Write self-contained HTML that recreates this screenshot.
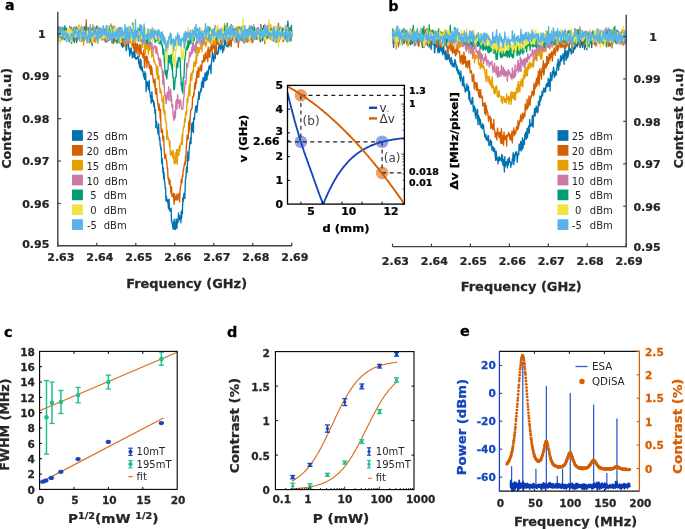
<!DOCTYPE html>
<html lang="en"><head><meta charset="utf-8"><title>Figure</title>
<style>
html,body{margin:0;padding:0;background:#fff;}
svg{display:block;font-family:'DejaVu Sans','Liberation Sans',sans-serif;}
</style></head>
<body>
<svg width="685" height="529" viewBox="0 0 685 529">
<rect width="685" height="529" fill="#fff"/>
<polyline points="57.8,27.0 58.2,32.2 58.6,33.5 59.0,41.0 59.4,34.9 59.8,35.2 60.1,34.2 60.5,36.2 60.9,34.0 61.3,35.7 61.7,38.9 62.1,30.5 62.5,30.5 62.9,27.3 63.3,33.7 63.7,35.4 64.1,35.9 64.4,39.8 64.8,30.1 65.2,38.1 65.6,38.4 66.0,34.7 66.4,28.2 66.8,33.0 67.2,37.8 67.6,36.6 68.0,31.5 68.3,34.5 68.7,36.8 69.1,34.8 69.5,31.0 69.9,26.4 70.3,38.7 70.7,36.3 71.1,37.0 71.5,43.1 71.9,37.4 72.3,37.8 72.6,29.6 73.0,34.4 73.4,40.1 73.8,31.5 74.2,35.3 74.6,40.6 75.0,36.2 75.4,36.2 75.8,37.3 76.2,33.8 76.6,42.5 76.9,35.0 77.3,30.1 77.7,30.7 78.1,29.7 78.5,29.7 78.9,28.3 79.3,38.3 79.7,30.8 80.1,41.1 80.5,36.3 80.8,41.3 81.2,30.0 81.6,28.9 82.0,34.8 82.4,27.3 82.8,36.6 83.2,33.5 83.6,33.5 84.0,38.1 84.4,32.4 84.8,26.7 85.1,38.0 85.5,30.7 85.9,34.7 86.3,27.4 86.7,32.3 87.1,31.5 87.5,31.7 87.9,33.2 88.3,39.5 88.7,28.8 89.1,39.4 89.4,33.3 89.8,31.9 90.2,37.4 90.6,33.7 91.0,29.8 91.4,34.3 91.8,37.7 92.2,45.4 92.6,38.0 93.0,36.6 93.3,36.3 93.7,38.0 94.1,32.9 94.5,36.6 94.9,34.8 95.3,31.8 95.7,37.7 96.1,35.6 96.5,26.2 96.9,31.2 97.3,39.5 97.6,34.8 98.0,32.4 98.4,29.9 98.8,34.0 99.2,36.7 99.6,37.5 100.0,32.2 100.4,33.5 100.8,36.7 101.2,35.5 101.6,36.4 101.9,32.1 102.3,37.6 102.7,33.1 103.1,31.7 103.5,33.2 103.9,38.3 104.3,30.0 104.7,37.8 105.1,33.6 105.5,38.2 105.9,42.0 106.2,34.5 106.6,34.4 107.0,35.8 107.4,34.5 107.8,38.1 108.2,38.6 108.6,36.5 109.0,28.6 109.4,32.9 109.8,38.0 110.1,34.0 110.5,38.1 110.9,38.1 111.3,33.2 111.7,38.5 112.1,43.0 112.5,40.2 112.9,36.5 113.3,36.5 113.7,32.4 114.1,40.0 114.4,34.6 114.8,35.9 115.2,38.2 115.6,34.6 116.0,36.1 116.4,41.4 116.8,34.2 117.2,43.1 117.6,38.4 118.0,38.8 118.4,37.4 118.7,42.0 119.1,39.5 119.5,40.2 119.9,36.0 120.3,43.1 120.7,40.0 121.1,41.5 121.5,45.7 121.9,30.8 122.3,41.6 122.6,47.3 123.0,36.5 123.4,46.3 123.8,41.1 124.2,39.5 124.6,45.6 125.0,45.1 125.4,45.8 125.8,44.6 126.2,50.7 126.6,49.6 126.9,45.8 127.3,41.7 127.7,43.6 128.1,39.9 128.5,44.3 128.9,49.3 129.3,48.3 129.7,56.0 130.1,52.4 130.5,53.1 130.9,48.7 131.2,47.8 131.6,52.9 132.0,53.6 132.4,57.8 132.8,53.0 133.2,52.1 133.6,52.0 134.0,57.3 134.4,47.3 134.8,51.0 135.1,56.6 135.5,58.9 135.9,58.8 136.3,57.7 136.7,59.1 137.1,57.9 137.5,57.6 137.9,56.0 138.3,57.7 138.7,63.3 139.1,62.2 139.4,66.0 139.8,67.6 140.2,58.9 140.6,68.8 141.0,60.4 141.4,70.2 141.8,68.9 142.2,66.6 142.6,71.7 143.0,71.2 143.4,74.7 143.7,76.6 144.1,76.4 144.5,79.3 144.9,71.7 145.3,79.7 145.7,73.6 146.1,91.5 146.5,82.4 146.9,81.5 147.3,85.9 147.6,81.9 148.0,84.8 148.4,89.6 148.8,88.2 149.2,80.4 149.6,91.5 150.0,92.7 150.4,96.9 150.8,96.1 151.2,103.0 151.6,100.3 151.9,91.7 152.3,98.5 152.7,101.8 153.1,101.6 153.5,100.3 153.9,106.9 154.3,103.0 154.7,108.6 155.1,113.9 155.5,109.9 155.9,127.4 156.2,122.6 156.6,121.5 157.0,128.2 157.4,127.5 157.8,131.7 158.2,134.2 158.6,123.8 159.0,134.4 159.4,139.7 159.8,137.3 160.2,146.1 160.5,144.8 160.9,150.0 161.3,148.4 161.7,163.3 162.1,158.4 162.5,164.3 162.9,172.7 163.3,167.7 163.7,178.7 164.1,172.6 164.4,180.2 164.8,182.7 165.2,188.1 165.6,187.8 166.0,201.1 166.4,196.1 166.8,200.9 167.2,199.4 167.6,202.4 168.0,201.5 168.4,208.5 168.7,199.7 169.1,199.2 169.5,210.3 169.9,210.9 170.3,211.2 170.7,209.0 171.1,208.1 171.5,221.5 171.9,220.8 172.3,224.0 172.7,225.7 173.0,228.9 173.4,222.4 173.8,229.0 174.2,219.4 174.6,222.0 175.0,229.5 175.4,229.3 175.8,227.2 176.2,218.9 176.6,226.7 176.9,228.3 177.3,221.9 177.7,219.4 178.1,222.5 178.5,212.9 178.9,217.4 179.3,215.8 179.7,220.0 180.1,216.1 180.5,215.7 180.9,222.8 181.2,211.8 181.6,218.4 182.0,210.0 182.4,213.5 182.8,197.9 183.2,201.7 183.6,196.7 184.0,193.3 184.4,198.4 184.8,198.5 185.2,187.2 185.5,178.7 185.9,177.9 186.3,171.4 186.7,166.9 187.1,172.4 187.5,162.0 187.9,152.0 188.3,158.2 188.7,160.4 189.1,150.3 189.4,148.1 189.8,141.8 190.2,143.9 190.6,137.5 191.0,143.6 191.4,129.4 191.8,124.2 192.2,122.9 192.6,131.4 193.0,122.2 193.4,132.7 193.7,118.2 194.1,117.6 194.5,119.2 194.9,112.3 195.3,111.2 195.7,106.4 196.1,107.8 196.5,105.7 196.9,112.4 197.3,107.9 197.7,103.7 198.0,99.2 198.4,98.9 198.8,91.7 199.2,99.3 199.6,95.5 200.0,92.2 200.4,92.8 200.8,88.7 201.2,91.4 201.6,82.5 202.0,87.9 202.3,81.2 202.7,84.4 203.1,77.4 203.5,87.3 203.9,78.8 204.3,81.3 204.7,77.7 205.1,72.9 205.5,80.7 205.9,80.4 206.2,78.1 206.6,72.3 207.0,79.5 207.4,70.9 207.8,75.3 208.2,73.8 208.6,69.9 209.0,66.1 209.4,69.1 209.8,67.7 210.2,65.1 210.5,65.1 210.9,73.5 211.3,64.1 211.7,61.3 212.1,56.7 212.5,52.3 212.9,56.8 213.3,58.4 213.7,61.6 214.1,56.9 214.5,53.6 214.8,51.1 215.2,58.6 215.6,53.7 216.0,50.9 216.4,46.3 216.8,51.8 217.2,54.3 217.6,54.3 218.0,52.4 218.4,53.0 218.7,46.8 219.1,45.4 219.5,46.2 219.9,43.9 220.3,49.8 220.7,46.1 221.1,48.6 221.5,46.5 221.9,41.6 222.3,46.0 222.7,52.6 223.0,46.0 223.4,47.4 223.8,50.1 224.2,47.0 224.6,39.9 225.0,36.8 225.4,44.8 225.8,38.8 226.2,37.8 226.6,46.4 227.0,41.9 227.3,41.6 227.7,40.5 228.1,47.0 228.5,42.0 228.9,36.4 229.3,35.3 229.7,32.9 230.1,41.0 230.5,32.3 230.9,36.7 231.2,44.3 231.6,36.0 232.0,40.0 232.4,36.5 232.8,38.7 233.2,33.6 233.6,37.0 234.0,38.9 234.4,34.0 234.8,36.6 235.2,39.0 235.5,32.4 235.9,38.7 236.3,39.5 236.7,39.0 237.1,42.4 237.5,38.8 237.9,29.5 238.3,39.9 238.7,36.3 239.1,40.5 239.5,38.5 239.8,30.3 240.2,32.6 240.6,38.2 241.0,35.8 241.4,38.9 241.8,38.7 242.2,39.1 242.6,39.0 243.0,34.2 243.4,33.1 243.7,33.5 244.1,36.0 244.5,40.4 244.9,35.5 245.3,38.7 245.7,31.7 246.1,32.9 246.5,32.2 246.9,36.3 247.3,41.8 247.7,31.2 248.0,30.2 248.4,40.5 248.8,34.2 249.2,30.2 249.6,38.8 250.0,27.9 250.4,36.0 250.8,38.7 251.2,29.4 251.6,33.4 252.0,37.0 252.3,31.2 252.7,42.0 253.1,27.5 253.5,37.6 253.9,33.3 254.3,35.9 254.7,32.7 255.1,31.0 255.5,37.5 255.9,31.3 256.3,35.4 256.6,36.9 257.0,35.1 257.4,38.1 257.8,37.3 258.2,30.6 258.6,34.8 259.0,29.9 259.4,32.6 259.8,38.1 260.2,41.4 260.5,36.8 260.9,33.2 261.3,34.1 261.7,37.3 262.1,30.3 262.5,40.8 262.9,38.9 263.3,33.6 263.7,25.7 264.1,32.5 264.5,37.9 264.8,31.8 265.2,31.5 265.6,30.5 266.0,35.6 266.4,37.1 266.8,33.6 267.2,32.4 267.6,27.9 268.0,26.0 268.4,36.8 268.8,36.0 269.1,34.2 269.5,35.0 269.9,32.1 270.3,32.1 270.7,33.0 271.1,28.8 271.5,34.6 271.9,38.0 272.3,39.9 272.7,37.9 273.0,37.9 273.4,41.1 273.8,31.4 274.2,33.2 274.6,35.6 275.0,37.3 275.4,40.0 275.8,37.4 276.2,26.9 276.6,42.4 277.0,33.4 277.3,31.1 277.7,33.4 278.1,35.1 278.5,31.0 278.9,38.1 279.3,31.8 279.7,28.4 280.1,37.9 280.5,37.0 280.9,33.4 281.3,30.1 281.6,28.8 282.0,31.3 282.4,36.4 282.8,38.1 283.2,32.9 283.6,32.3 284.0,38.1 284.4,33.6 284.8,32.6 285.2,29.9 285.5,37.6 285.9,31.7 286.3,38.3 286.7,35.5 287.1,34.1 287.5,28.1 287.9,21.2 288.3,32.9 288.7,32.0 289.1,30.0 289.5,39.0 289.8,30.9 290.2,38.6 290.6,27.6 291.0,28.3 291.4,31.9 291.8,36.9" fill="none" stroke="#0072B2" stroke-width="1.35" stroke-linejoin="round" />
<polyline points="57.8,27.4 58.2,32.8 58.6,33.3 59.0,31.6 59.4,40.3 59.8,32.1 60.1,30.0 60.5,32.5 60.9,33.2 61.3,37.4 61.7,31.3 62.1,33.0 62.5,33.7 62.9,35.9 63.3,30.5 63.7,29.0 64.1,32.3 64.4,30.4 64.8,28.7 65.2,27.7 65.6,32.9 66.0,34.6 66.4,35.4 66.8,33.7 67.2,31.7 67.6,30.2 68.0,35.4 68.3,33.2 68.7,37.6 69.1,29.0 69.5,35.3 69.9,32.4 70.3,36.6 70.7,34.9 71.1,36.4 71.5,27.3 71.9,32.4 72.3,34.5 72.6,37.4 73.0,36.2 73.4,31.7 73.8,27.5 74.2,39.3 74.6,37.3 75.0,34.5 75.4,36.2 75.8,40.2 76.2,33.8 76.6,31.0 76.9,39.9 77.3,33.1 77.7,30.2 78.1,30.1 78.5,35.5 78.9,25.1 79.3,31.8 79.7,37.0 80.1,30.1 80.5,38.2 80.8,30.5 81.2,38.7 81.6,30.9 82.0,36.1 82.4,29.6 82.8,31.1 83.2,32.2 83.6,33.7 84.0,29.8 84.4,40.8 84.8,32.3 85.1,32.4 85.5,31.8 85.9,30.8 86.3,19.9 86.7,33.6 87.1,30.9 87.5,33.4 87.9,28.0 88.3,41.8 88.7,27.6 89.1,36.7 89.4,42.7 89.8,38.2 90.2,34.8 90.6,33.4 91.0,34.3 91.4,31.0 91.8,34.3 92.2,34.4 92.6,42.4 93.0,32.3 93.3,30.3 93.7,35.8 94.1,41.4 94.5,39.4 94.9,27.9 95.3,36.6 95.7,36.8 96.1,37.5 96.5,31.7 96.9,36.6 97.3,37.7 97.6,40.2 98.0,34.8 98.4,30.6 98.8,35.0 99.2,31.1 99.6,33.8 100.0,34.0 100.4,33.9 100.8,34.5 101.2,30.7 101.6,32.8 101.9,36.9 102.3,34.2 102.7,35.0 103.1,32.9 103.5,34.1 103.9,33.3 104.3,40.5 104.7,33.5 105.1,29.9 105.5,40.1 105.9,28.9 106.2,33.9 106.6,35.9 107.0,42.0 107.4,31.0 107.8,38.9 108.2,37.2 108.6,33.2 109.0,39.3 109.4,39.2 109.8,39.9 110.1,36.0 110.5,33.3 110.9,34.1 111.3,34.1 111.7,37.1 112.1,35.3 112.5,38.5 112.9,28.3 113.3,35.3 113.7,43.5 114.1,40.2 114.4,30.1 114.8,41.5 115.2,38.0 115.6,34.9 116.0,40.7 116.4,32.5 116.8,30.3 117.2,39.9 117.6,32.6 118.0,40.4 118.4,40.9 118.7,36.2 119.1,36.4 119.5,39.7 119.9,34.3 120.3,43.2 120.7,41.0 121.1,41.9 121.5,35.1 121.9,35.0 122.3,35.7 122.6,43.3 123.0,38.0 123.4,36.9 123.8,44.9 124.2,42.0 124.6,36.6 125.0,36.5 125.4,38.4 125.8,37.5 126.2,38.5 126.6,39.3 126.9,40.5 127.3,43.6 127.7,41.4 128.1,42.2 128.5,32.0 128.9,40.0 129.3,41.3 129.7,42.3 130.1,42.1 130.5,42.9 130.9,40.1 131.2,42.5 131.6,39.5 132.0,45.5 132.4,41.8 132.8,40.1 133.2,48.1 133.6,43.3 134.0,43.3 134.4,45.9 134.8,46.8 135.1,52.3 135.5,41.2 135.9,49.4 136.3,51.0 136.7,44.1 137.1,54.0 137.5,43.7 137.9,46.1 138.3,45.9 138.7,49.2 139.1,53.6 139.4,56.6 139.8,44.3 140.2,52.1 140.6,52.8 141.0,45.3 141.4,54.2 141.8,53.2 142.2,53.8 142.6,53.9 143.0,57.9 143.4,56.7 143.7,50.2 144.1,52.9 144.5,67.8 144.9,64.5 145.3,56.5 145.7,58.9 146.1,60.6 146.5,55.9 146.9,67.5 147.3,56.9 147.6,61.8 148.0,61.0 148.4,63.0 148.8,61.7 149.2,66.8 149.6,68.9 150.0,64.9 150.4,68.2 150.8,74.8 151.2,66.0 151.6,67.7 151.9,68.0 152.3,74.5 152.7,74.9 153.1,79.1 153.5,82.8 153.9,80.4 154.3,81.5 154.7,86.4 155.1,78.7 155.5,93.7 155.9,92.5 156.2,94.0 156.6,88.5 157.0,96.6 157.4,99.1 157.8,103.6 158.2,105.5 158.6,110.1 159.0,103.8 159.4,108.0 159.8,109.3 160.2,118.4 160.5,109.1 160.9,125.4 161.3,132.4 161.7,128.7 162.1,130.1 162.5,130.8 162.9,140.6 163.3,137.5 163.7,136.4 164.1,149.2 164.4,151.8 164.8,158.5 165.2,154.1 165.6,154.6 166.0,157.8 166.4,160.4 166.8,160.9 167.2,168.5 167.6,167.9 168.0,177.7 168.4,179.5 168.7,177.8 169.1,184.1 169.5,180.9 169.9,179.8 170.3,185.4 170.7,191.5 171.1,193.1 171.5,186.6 171.9,196.3 172.3,194.1 172.7,196.6 173.0,196.4 173.4,193.3 173.8,200.4 174.2,204.3 174.6,193.9 175.0,198.9 175.4,197.2 175.8,200.1 176.2,197.0 176.6,195.0 176.9,194.2 177.3,200.0 177.7,199.7 178.1,196.0 178.5,195.8 178.9,193.4 179.3,197.0 179.7,201.8 180.1,189.6 180.5,186.7 180.9,185.4 181.2,179.5 181.6,180.5 182.0,182.9 182.4,175.3 182.8,176.9 183.2,169.1 183.6,170.2 184.0,166.6 184.4,164.5 184.8,162.1 185.2,164.9 185.5,155.8 185.9,161.4 186.3,147.6 186.7,142.4 187.1,135.1 187.5,138.1 187.9,139.0 188.3,139.1 188.7,122.3 189.1,132.0 189.4,119.9 189.8,129.1 190.2,117.4 190.6,111.7 191.0,110.1 191.4,108.8 191.8,109.1 192.2,106.8 192.6,96.9 193.0,96.7 193.4,96.7 193.7,93.0 194.1,95.2 194.5,85.7 194.9,82.9 195.3,88.8 195.7,83.6 196.1,78.3 196.5,83.2 196.9,71.4 197.3,71.9 197.7,77.3 198.0,71.2 198.4,67.3 198.8,77.1 199.2,68.8 199.6,70.6 200.0,69.7 200.4,65.2 200.8,68.7 201.2,71.2 201.6,70.4 202.0,64.1 202.3,60.7 202.7,62.4 203.1,62.0 203.5,60.8 203.9,55.0 204.3,57.1 204.7,61.3 205.1,58.8 205.5,52.4 205.9,58.6 206.2,57.2 206.6,55.2 207.0,58.6 207.4,50.5 207.8,61.7 208.2,47.2 208.6,53.9 209.0,56.5 209.4,50.1 209.8,57.3 210.2,48.2 210.5,46.8 210.9,51.5 211.3,50.4 211.7,44.8 212.1,50.6 212.5,47.5 212.9,45.9 213.3,40.9 213.7,48.4 214.1,46.0 214.5,41.5 214.8,55.2 215.2,46.1 215.6,52.1 216.0,51.5 216.4,36.7 216.8,43.1 217.2,37.9 217.6,44.2 218.0,41.0 218.4,44.4 218.7,44.6 219.1,42.6 219.5,41.5 219.9,35.9 220.3,42.3 220.7,39.9 221.1,42.1 221.5,40.4 221.9,45.7 222.3,36.3 222.7,42.3 223.0,40.0 223.4,40.8 223.8,36.0 224.2,37.6 224.6,39.4 225.0,38.6 225.4,37.8 225.8,36.1 226.2,36.9 226.6,33.8 227.0,32.3 227.3,36.0 227.7,43.3 228.1,31.4 228.5,29.8 228.9,39.3 229.3,39.3 229.7,45.5 230.1,34.5 230.5,41.3 230.9,30.3 231.2,46.7 231.6,36.8 232.0,34.4 232.4,38.4 232.8,39.9 233.2,35.8 233.6,38.7 234.0,37.9 234.4,36.6 234.8,38.5 235.2,37.2 235.5,33.2 235.9,37.7 236.3,35.5 236.7,38.9 237.1,32.5 237.5,40.8 237.9,32.2 238.3,47.3 238.7,39.2 239.1,41.7 239.5,31.7 239.8,34.5 240.2,40.5 240.6,37.6 241.0,30.3 241.4,35.6 241.8,33.2 242.2,41.0 242.6,41.0 243.0,33.0 243.4,26.4 243.7,37.2 244.1,32.8 244.5,38.7 244.9,30.3 245.3,36.7 245.7,36.6 246.1,42.2 246.5,36.5 246.9,34.2 247.3,29.6 247.7,39.3 248.0,31.0 248.4,36.1 248.8,35.8 249.2,38.3 249.6,41.2 250.0,39.3 250.4,28.5 250.8,39.2 251.2,36.3 251.6,30.4 252.0,42.7 252.3,32.9 252.7,36.5 253.1,33.8 253.5,31.2 253.9,35.1 254.3,35.3 254.7,31.7 255.1,32.0 255.5,37.2 255.9,35.2 256.3,39.6 256.6,29.5 257.0,39.0 257.4,33.7 257.8,27.7 258.2,31.3 258.6,35.4 259.0,37.1 259.4,36.7 259.8,30.8 260.2,33.0 260.5,34.2 260.9,24.3 261.3,37.4 261.7,36.0 262.1,35.6 262.5,33.3 262.9,33.0 263.3,35.2 263.7,31.3 264.1,32.0 264.5,35.3 264.8,43.5 265.2,31.1 265.6,37.7 266.0,36.6 266.4,34.7 266.8,38.9 267.2,37.2 267.6,33.9 268.0,35.5 268.4,33.0 268.8,37.5 269.1,35.1 269.5,38.3 269.9,35.3 270.3,33.1 270.7,35.2 271.1,39.7 271.5,34.9 271.9,33.6 272.3,29.9 272.7,34.4 273.0,35.8 273.4,38.7 273.8,26.6 274.2,37.8 274.6,38.5 275.0,34.7 275.4,41.1 275.8,30.0 276.2,33.4 276.6,32.3 277.0,37.9 277.3,36.1 277.7,30.8 278.1,30.7 278.5,23.3 278.9,29.9 279.3,41.3 279.7,33.7 280.1,35.4 280.5,29.9 280.9,34.4 281.3,32.2 281.6,35.3 282.0,31.7 282.4,28.4 282.8,36.4 283.2,41.8 283.6,38.0 284.0,28.0 284.4,33.2 284.8,35.1 285.2,37.7 285.5,30.0 285.9,32.9 286.3,34.4 286.7,36.0 287.1,34.6 287.5,35.2 287.9,31.8 288.3,29.1 288.7,41.5 289.1,39.5 289.5,34.3 289.8,33.7 290.2,39.9 290.6,36.3 291.0,35.5 291.4,35.7 291.8,35.7" fill="none" stroke="#D55E00" stroke-width="1.35" stroke-linejoin="round" />
<polyline points="57.8,34.3 58.2,30.6 58.6,31.1 59.0,31.7 59.4,32.9 59.8,36.7 60.1,35.8 60.5,31.3 60.9,33.5 61.3,30.9 61.7,32.9 62.1,33.7 62.5,32.3 62.9,39.8 63.3,34.6 63.7,36.2 64.1,30.7 64.4,36.5 64.8,33.1 65.2,35.6 65.6,32.2 66.0,31.2 66.4,34.8 66.8,33.6 67.2,33.3 67.6,31.0 68.0,35.2 68.3,33.8 68.7,35.6 69.1,37.7 69.5,33.3 69.9,32.4 70.3,37.1 70.7,28.0 71.1,36.9 71.5,31.2 71.9,32.6 72.3,40.6 72.6,34.1 73.0,40.1 73.4,34.5 73.8,31.5 74.2,27.0 74.6,31.1 75.0,39.9 75.4,35.4 75.8,28.3 76.2,33.4 76.6,27.3 76.9,36.8 77.3,36.2 77.7,39.2 78.1,35.5 78.5,29.3 78.9,37.6 79.3,30.9 79.7,32.3 80.1,31.1 80.5,35.1 80.8,34.0 81.2,25.9 81.6,38.8 82.0,31.2 82.4,28.3 82.8,32.3 83.2,27.7 83.6,45.4 84.0,35.3 84.4,38.6 84.8,35.7 85.1,34.5 85.5,32.3 85.9,37.4 86.3,30.8 86.7,40.1 87.1,30.5 87.5,35.1 87.9,40.9 88.3,41.0 88.7,41.0 89.1,38.0 89.4,33.7 89.8,29.2 90.2,31.2 90.6,39.3 91.0,43.0 91.4,35.4 91.8,39.7 92.2,34.9 92.6,36.9 93.0,24.5 93.3,40.9 93.7,33.1 94.1,27.2 94.5,35.9 94.9,37.3 95.3,27.9 95.7,42.4 96.1,40.9 96.5,39.1 96.9,32.8 97.3,31.4 97.6,34.9 98.0,26.0 98.4,35.2 98.8,34.4 99.2,35.5 99.6,29.6 100.0,34.3 100.4,35.8 100.8,27.9 101.2,29.4 101.6,30.4 101.9,39.2 102.3,38.4 102.7,35.2 103.1,35.3 103.5,35.9 103.9,35.1 104.3,31.8 104.7,38.2 105.1,33.3 105.5,35.8 105.9,36.1 106.2,35.4 106.6,31.4 107.0,33.2 107.4,37.3 107.8,33.0 108.2,33.7 108.6,32.7 109.0,35.3 109.4,30.4 109.8,32.8 110.1,38.6 110.5,39.2 110.9,39.6 111.3,32.7 111.7,36.9 112.1,35.6 112.5,34.5 112.9,29.6 113.3,25.9 113.7,34.7 114.1,26.6 114.4,32.2 114.8,29.7 115.2,35.4 115.6,39.1 116.0,32.5 116.4,29.4 116.8,40.4 117.2,34.7 117.6,33.6 118.0,32.2 118.4,38.7 118.7,36.7 119.1,31.0 119.5,27.7 119.9,34.2 120.3,30.9 120.7,34.1 121.1,33.1 121.5,36.3 121.9,35.7 122.3,37.1 122.6,34.5 123.0,30.7 123.4,34.3 123.8,32.5 124.2,37.5 124.6,32.4 125.0,47.3 125.4,40.7 125.8,36.6 126.2,42.3 126.6,33.2 126.9,34.7 127.3,39.1 127.7,35.3 128.1,41.5 128.5,39.2 128.9,37.3 129.3,42.1 129.7,32.0 130.1,38.6 130.5,32.2 130.9,36.8 131.2,35.1 131.6,39.9 132.0,37.7 132.4,38.2 132.8,35.8 133.2,31.5 133.6,39.1 134.0,37.7 134.4,35.8 134.8,34.0 135.1,37.8 135.5,39.0 135.9,39.9 136.3,37.8 136.7,37.0 137.1,40.7 137.5,39.4 137.9,35.5 138.3,38.7 138.7,41.0 139.1,36.2 139.4,36.4 139.8,37.0 140.2,37.0 140.6,41.3 141.0,39.2 141.4,39.0 141.8,40.0 142.2,47.4 142.6,41.0 143.0,39.9 143.4,39.6 143.7,43.0 144.1,42.0 144.5,49.4 144.9,48.5 145.3,54.5 145.7,44.4 146.1,37.7 146.5,37.7 146.9,49.1 147.3,42.8 147.6,40.9 148.0,47.4 148.4,54.3 148.8,42.0 149.2,49.4 149.6,50.2 150.0,42.8 150.4,48.3 150.8,47.6 151.2,45.5 151.6,53.1 151.9,57.2 152.3,51.4 152.7,55.4 153.1,53.6 153.5,56.1 153.9,61.7 154.3,60.0 154.7,62.7 155.1,63.7 155.5,64.4 155.9,64.5 156.2,66.7 156.6,74.0 157.0,68.5 157.4,78.3 157.8,66.2 158.2,79.6 158.6,79.0 159.0,75.7 159.4,83.8 159.8,90.1 160.2,93.1 160.5,88.9 160.9,90.8 161.3,91.6 161.7,96.2 162.1,101.6 162.5,100.5 162.9,99.3 163.3,110.5 163.7,96.3 164.1,114.1 164.4,110.3 164.8,110.4 165.2,116.6 165.6,121.4 166.0,122.2 166.4,122.2 166.8,139.8 167.2,130.2 167.6,135.7 168.0,138.9 168.4,137.9 168.7,139.6 169.1,140.3 169.5,146.2 169.9,141.3 170.3,155.3 170.7,152.5 171.1,154.8 171.5,151.1 171.9,154.6 172.3,151.7 172.7,157.6 173.0,150.5 173.4,153.3 173.8,158.7 174.2,163.6 174.6,162.0 175.0,163.5 175.4,152.9 175.8,154.7 176.2,162.2 176.6,149.7 176.9,157.6 177.3,164.4 177.7,150.8 178.1,149.1 178.5,153.0 178.9,155.3 179.3,145.9 179.7,151.1 180.1,147.7 180.5,144.1 180.9,143.0 181.2,144.0 181.6,144.2 182.0,135.3 182.4,144.4 182.8,132.4 183.2,130.2 183.6,126.8 184.0,127.7 184.4,122.9 184.8,118.1 185.2,122.4 185.5,115.6 185.9,111.6 186.3,115.1 186.7,111.2 187.1,98.8 187.5,98.2 187.9,102.3 188.3,94.1 188.7,92.7 189.1,86.3 189.4,84.8 189.8,96.0 190.2,85.5 190.6,76.7 191.0,73.5 191.4,79.9 191.8,80.2 192.2,72.5 192.6,74.0 193.0,69.7 193.4,72.3 193.7,63.3 194.1,62.4 194.5,61.3 194.9,65.8 195.3,66.6 195.7,63.8 196.1,55.7 196.5,63.4 196.9,52.9 197.3,47.5 197.7,55.7 198.0,53.1 198.4,47.8 198.8,47.2 199.2,52.3 199.6,49.9 200.0,48.0 200.4,48.9 200.8,45.0 201.2,45.4 201.6,41.1 202.0,52.1 202.3,40.6 202.7,41.5 203.1,44.7 203.5,42.2 203.9,39.7 204.3,41.9 204.7,43.6 205.1,41.2 205.5,44.7 205.9,46.7 206.2,44.7 206.6,44.0 207.0,40.1 207.4,37.5 207.8,39.4 208.2,34.5 208.6,40.2 209.0,42.1 209.4,42.2 209.8,42.6 210.2,40.2 210.5,33.6 210.9,44.2 211.3,36.3 211.7,38.3 212.1,34.9 212.5,39.7 212.9,35.0 213.3,39.5 213.7,35.0 214.1,44.8 214.5,35.3 214.8,34.2 215.2,43.0 215.6,33.5 216.0,41.0 216.4,32.8 216.8,36.4 217.2,33.7 217.6,34.8 218.0,40.7 218.4,30.1 218.7,31.3 219.1,39.7 219.5,33.6 219.9,33.9 220.3,38.2 220.7,39.5 221.1,30.5 221.5,36.9 221.9,31.8 222.3,27.9 222.7,33.3 223.0,38.4 223.4,31.2 223.8,40.2 224.2,38.4 224.6,23.6 225.0,37.8 225.4,33.4 225.8,38.7 226.2,35.1 226.6,33.8 227.0,44.7 227.3,37.0 227.7,31.9 228.1,31.1 228.5,33.1 228.9,38.0 229.3,32.8 229.7,36.2 230.1,37.2 230.5,34.3 230.9,25.5 231.2,37.7 231.6,30.2 232.0,33.2 232.4,39.8 232.8,37.6 233.2,34.7 233.6,35.9 234.0,33.1 234.4,37.8 234.8,37.9 235.2,30.2 235.5,34.1 235.9,37.2 236.3,33.9 236.7,26.9 237.1,36.1 237.5,39.6 237.9,30.3 238.3,26.4 238.7,29.1 239.1,38.9 239.5,41.7 239.8,29.0 240.2,34.5 240.6,31.9 241.0,34.6 241.4,27.4 241.8,33.6 242.2,35.0 242.6,33.3 243.0,38.4 243.4,33.2 243.7,34.2 244.1,41.9 244.5,38.2 244.9,38.6 245.3,39.8 245.7,32.5 246.1,29.5 246.5,32.6 246.9,39.5 247.3,40.6 247.7,30.9 248.0,35.0 248.4,34.2 248.8,38.8 249.2,41.6 249.6,25.4 250.0,36.2 250.4,34.6 250.8,38.2 251.2,28.0 251.6,35.2 252.0,34.5 252.3,33.7 252.7,33.9 253.1,28.5 253.5,40.8 253.9,31.5 254.3,36.3 254.7,35.5 255.1,36.3 255.5,32.3 255.9,38.8 256.3,36.0 256.6,31.8 257.0,36.1 257.4,35.7 257.8,32.5 258.2,33.6 258.6,35.2 259.0,33.7 259.4,37.3 259.8,30.7 260.2,38.1 260.5,40.1 260.9,32.3 261.3,39.0 261.7,37.6 262.1,34.8 262.5,31.2 262.9,35.8 263.3,35.7 263.7,35.6 264.1,32.5 264.5,35.9 264.8,33.1 265.2,28.8 265.6,34.9 266.0,35.4 266.4,37.6 266.8,36.9 267.2,38.7 267.6,38.2 268.0,36.2 268.4,32.7 268.8,32.2 269.1,35.7 269.5,32.8 269.9,39.0 270.3,26.1 270.7,24.6 271.1,34.5 271.5,32.1 271.9,33.7 272.3,31.1 272.7,36.4 273.0,39.8 273.4,30.9 273.8,38.2 274.2,32.7 274.6,37.5 275.0,37.0 275.4,30.3 275.8,27.9 276.2,34.6 276.6,35.6 277.0,32.9 277.3,36.1 277.7,40.6 278.1,34.1 278.5,42.6 278.9,32.4 279.3,35.9 279.7,33.3 280.1,39.6 280.5,36.9 280.9,31.9 281.3,28.8 281.6,30.8 282.0,32.6 282.4,38.3 282.8,31.8 283.2,33.5 283.6,35.2 284.0,29.1 284.4,37.0 284.8,27.3 285.2,36.5 285.5,36.6 285.9,34.4 286.3,39.1 286.7,35.8 287.1,33.7 287.5,40.5 287.9,37.2 288.3,39.3 288.7,35.7 289.1,29.7 289.5,35.7 289.8,34.8 290.2,33.2 290.6,38.3 291.0,33.2 291.4,36.0 291.8,36.5" fill="none" stroke="#E69F00" stroke-width="1.35" stroke-linejoin="round" />
<polyline points="57.8,40.7 58.2,36.6 58.6,30.2 59.0,29.6 59.4,35.3 59.8,33.9 60.1,35.8 60.5,38.4 60.9,41.0 61.3,27.7 61.7,37.9 62.1,33.4 62.5,28.2 62.9,35.6 63.3,34.8 63.7,33.1 64.1,35.5 64.4,33.1 64.8,35.4 65.2,29.8 65.6,32.2 66.0,38.6 66.4,39.1 66.8,36.5 67.2,36.4 67.6,36.9 68.0,30.5 68.3,36.8 68.7,35.8 69.1,33.5 69.5,41.6 69.9,32.4 70.3,31.8 70.7,28.7 71.1,37.7 71.5,35.8 71.9,33.2 72.3,35.4 72.6,39.5 73.0,30.5 73.4,35.0 73.8,32.6 74.2,38.0 74.6,30.3 75.0,35.3 75.4,36.7 75.8,30.9 76.2,29.7 76.6,37.5 76.9,30.2 77.3,27.8 77.7,32.9 78.1,39.3 78.5,31.8 78.9,29.9 79.3,37.8 79.7,27.6 80.1,34.7 80.5,34.4 80.8,29.8 81.2,33.1 81.6,29.2 82.0,34.0 82.4,32.5 82.8,33.9 83.2,33.0 83.6,31.7 84.0,32.1 84.4,35.1 84.8,30.4 85.1,34.3 85.5,29.4 85.9,31.6 86.3,34.3 86.7,36.8 87.1,33.8 87.5,28.7 87.9,33.2 88.3,30.3 88.7,34.3 89.1,35.2 89.4,36.6 89.8,41.4 90.2,32.8 90.6,33.8 91.0,34.2 91.4,31.0 91.8,37.8 92.2,27.5 92.6,39.6 93.0,33.1 93.3,38.6 93.7,35.1 94.1,29.6 94.5,39.7 94.9,33.4 95.3,33.6 95.7,33.4 96.1,33.1 96.5,31.0 96.9,32.2 97.3,32.6 97.6,30.7 98.0,31.5 98.4,34.6 98.8,38.8 99.2,31.1 99.6,35.4 100.0,27.8 100.4,36.2 100.8,38.7 101.2,29.8 101.6,37.0 101.9,39.8 102.3,29.6 102.7,39.7 103.1,29.1 103.5,37.8 103.9,32.6 104.3,33.3 104.7,41.1 105.1,34.2 105.5,35.8 105.9,33.7 106.2,32.2 106.6,28.2 107.0,35.1 107.4,34.6 107.8,26.0 108.2,31.5 108.6,31.3 109.0,40.1 109.4,39.6 109.8,36.4 110.1,35.0 110.5,32.4 110.9,23.8 111.3,39.0 111.7,35.8 112.1,31.9 112.5,33.3 112.9,30.0 113.3,35.4 113.7,37.7 114.1,26.3 114.4,32.6 114.8,38.9 115.2,35.7 115.6,34.6 116.0,40.1 116.4,31.4 116.8,33.8 117.2,35.8 117.6,36.9 118.0,28.2 118.4,34.8 118.7,37.4 119.1,42.3 119.5,38.6 119.9,31.9 120.3,28.8 120.7,39.0 121.1,42.4 121.5,34.5 121.9,34.8 122.3,31.3 122.6,37.3 123.0,34.2 123.4,41.7 123.8,39.4 124.2,36.8 124.6,36.4 125.0,32.7 125.4,30.1 125.8,40.2 126.2,28.3 126.6,37.6 126.9,36.4 127.3,30.5 127.7,44.0 128.1,40.4 128.5,38.0 128.9,34.6 129.3,30.7 129.7,30.7 130.1,38.4 130.5,32.1 130.9,36.6 131.2,29.3 131.6,36.1 132.0,31.0 132.4,39.0 132.8,32.1 133.2,40.4 133.6,34.8 134.0,41.4 134.4,35.8 134.8,38.3 135.1,39.1 135.5,34.5 135.9,32.4 136.3,35.0 136.7,34.3 137.1,32.8 137.5,31.0 137.9,31.8 138.3,34.2 138.7,28.2 139.1,37.9 139.4,33.0 139.8,40.5 140.2,27.1 140.6,37.3 141.0,35.8 141.4,31.3 141.8,37.4 142.2,40.0 142.6,44.0 143.0,38.1 143.4,29.4 143.7,36.7 144.1,30.9 144.5,34.5 144.9,39.6 145.3,43.5 145.7,39.0 146.1,36.1 146.5,39.6 146.9,38.3 147.3,37.0 147.6,40.8 148.0,45.3 148.4,41.3 148.8,38.1 149.2,43.8 149.6,45.0 150.0,45.1 150.4,42.6 150.8,42.5 151.2,42.6 151.6,47.7 151.9,43.2 152.3,46.1 152.7,47.8 153.1,51.8 153.5,49.5 153.9,48.1 154.3,45.8 154.7,45.4 155.1,47.4 155.5,47.3 155.9,53.2 156.2,46.6 156.6,47.3 157.0,48.7 157.4,54.1 157.8,53.4 158.2,55.9 158.6,60.3 159.0,57.7 159.4,63.7 159.8,65.9 160.2,58.6 160.5,60.3 160.9,61.0 161.3,68.0 161.7,68.4 162.1,68.9 162.5,75.1 162.9,84.4 163.3,71.1 163.7,78.2 164.1,81.5 164.4,89.2 164.8,95.7 165.2,94.9 165.6,96.0 166.0,103.6 166.4,100.6 166.8,96.5 167.2,92.2 167.6,94.7 168.0,97.6 168.4,100.0 168.7,86.7 169.1,93.7 169.5,91.4 169.9,94.8 170.3,101.1 170.7,89.2 171.1,96.8 171.5,97.0 171.9,107.3 172.3,107.2 172.7,104.6 173.0,113.5 173.4,116.8 173.8,119.4 174.2,120.4 174.6,111.3 175.0,113.2 175.4,117.8 175.8,102.8 176.2,101.3 176.6,99.6 176.9,109.1 177.3,100.2 177.7,94.6 178.1,103.0 178.5,102.1 178.9,100.4 179.3,108.2 179.7,101.0 180.1,99.6 180.5,102.5 180.9,100.9 181.2,107.5 181.6,108.6 182.0,108.9 182.4,109.6 182.8,108.9 183.2,104.7 183.6,98.6 184.0,96.5 184.4,90.1 184.8,86.3 185.2,80.5 185.5,81.4 185.9,84.2 186.3,77.0 186.7,63.4 187.1,65.4 187.5,67.7 187.9,65.0 188.3,62.7 188.7,62.5 189.1,58.5 189.4,55.2 189.8,51.9 190.2,56.8 190.6,55.4 191.0,54.6 191.4,52.2 191.8,47.4 192.2,53.5 192.6,41.4 193.0,46.9 193.4,44.1 193.7,51.1 194.1,48.5 194.5,48.4 194.9,45.7 195.3,53.1 195.7,42.9 196.1,50.7 196.5,42.3 196.9,39.4 197.3,43.1 197.7,43.1 198.0,42.7 198.4,42.5 198.8,40.3 199.2,37.4 199.6,38.1 200.0,34.5 200.4,39.5 200.8,41.5 201.2,41.1 201.6,43.8 202.0,40.2 202.3,40.8 202.7,31.4 203.1,36.0 203.5,31.0 203.9,44.9 204.3,36.3 204.7,33.3 205.1,35.8 205.5,38.6 205.9,36.1 206.2,36.2 206.6,35.9 207.0,35.3 207.4,32.6 207.8,35.2 208.2,34.8 208.6,35.7 209.0,34.0 209.4,38.3 209.8,33.3 210.2,36.6 210.5,32.1 210.9,37.5 211.3,35.4 211.7,35.7 212.1,38.9 212.5,31.0 212.9,33.5 213.3,34.7 213.7,30.1 214.1,36.0 214.5,34.8 214.8,30.4 215.2,25.3 215.6,34.2 216.0,28.4 216.4,33.8 216.8,37.5 217.2,32.5 217.6,29.7 218.0,33.6 218.4,32.6 218.7,38.4 219.1,42.9 219.5,33.4 219.9,39.8 220.3,34.7 220.7,36.9 221.1,33.9 221.5,31.2 221.9,40.9 222.3,35.1 222.7,35.1 223.0,29.5 223.4,34.3 223.8,37.7 224.2,36.8 224.6,27.7 225.0,37.9 225.4,34.3 225.8,33.5 226.2,38.8 226.6,37.6 227.0,42.0 227.3,37.9 227.7,31.9 228.1,33.6 228.5,41.6 228.9,29.0 229.3,39.4 229.7,38.0 230.1,28.3 230.5,32.6 230.9,34.6 231.2,28.7 231.6,34.6 232.0,33.0 232.4,36.5 232.8,34.8 233.2,34.6 233.6,30.1 234.0,36.7 234.4,35.0 234.8,42.5 235.2,40.8 235.5,31.6 235.9,35.8 236.3,35.6 236.7,32.0 237.1,35.5 237.5,33.9 237.9,35.3 238.3,41.9 238.7,31.9 239.1,28.6 239.5,29.8 239.8,34.0 240.2,33.3 240.6,32.8 241.0,28.5 241.4,29.7 241.8,35.6 242.2,34.8 242.6,35.1 243.0,36.5 243.4,36.6 243.7,34.8 244.1,43.5 244.5,32.9 244.9,36.1 245.3,39.0 245.7,35.1 246.1,37.2 246.5,29.8 246.9,38.6 247.3,34.1 247.7,33.1 248.0,37.6 248.4,39.1 248.8,33.0 249.2,35.9 249.6,37.9 250.0,39.8 250.4,32.1 250.8,28.7 251.2,36.4 251.6,32.4 252.0,30.2 252.3,30.6 252.7,36.5 253.1,32.3 253.5,31.7 253.9,24.7 254.3,33.4 254.7,30.3 255.1,31.1 255.5,31.7 255.9,37.8 256.3,33.0 256.6,28.4 257.0,35.4 257.4,33.1 257.8,36.9 258.2,33.0 258.6,32.7 259.0,31.4 259.4,35.4 259.8,35.6 260.2,36.1 260.5,32.9 260.9,33.3 261.3,25.6 261.7,36.3 262.1,31.4 262.5,36.0 262.9,35.7 263.3,29.9 263.7,32.4 264.1,32.0 264.5,38.9 264.8,24.3 265.2,26.2 265.6,36.6 266.0,38.9 266.4,36.6 266.8,33.0 267.2,37.4 267.6,32.9 268.0,36.3 268.4,23.7 268.8,34.8 269.1,35.6 269.5,26.5 269.9,32.7 270.3,33.9 270.7,34.0 271.1,31.8 271.5,35.5 271.9,33.5 272.3,35.9 272.7,38.9 273.0,35.1 273.4,33.3 273.8,28.0 274.2,33.1 274.6,35.2 275.0,33.4 275.4,31.7 275.8,42.2 276.2,35.4 276.6,41.9 277.0,40.3 277.3,36.6 277.7,34.4 278.1,33.7 278.5,33.4 278.9,29.0 279.3,32.2 279.7,32.4 280.1,35.0 280.5,26.7 280.9,29.0 281.3,36.0 281.6,36.0 282.0,31.0 282.4,30.1 282.8,35.0 283.2,29.6 283.6,38.2 284.0,34.4 284.4,30.0 284.8,35.9 285.2,33.2 285.5,33.8 285.9,34.7 286.3,40.7 286.7,35.0 287.1,33.1 287.5,33.0 287.9,30.9 288.3,30.3 288.7,35.0 289.1,34.5 289.5,27.5 289.8,30.4 290.2,33.6 290.6,34.5 291.0,29.7 291.4,29.7 291.8,34.0" fill="none" stroke="#CC79A7" stroke-width="1.35" stroke-linejoin="round" />
<polyline points="57.8,31.9 58.2,33.4 58.6,33.7 59.0,26.6 59.4,38.3 59.8,30.7 60.1,37.5 60.5,36.2 60.9,30.4 61.3,38.4 61.7,37.1 62.1,37.8 62.5,35.8 62.9,32.5 63.3,29.3 63.7,36.0 64.1,30.2 64.4,38.1 64.8,25.7 65.2,35.3 65.6,35.5 66.0,32.7 66.4,33.4 66.8,34.4 67.2,40.1 67.6,30.6 68.0,31.2 68.3,35.3 68.7,38.2 69.1,32.9 69.5,29.7 69.9,40.3 70.3,38.0 70.7,33.5 71.1,36.9 71.5,35.2 71.9,34.3 72.3,31.0 72.6,31.0 73.0,30.2 73.4,30.5 73.8,36.2 74.2,42.8 74.6,32.7 75.0,32.2 75.4,32.2 75.8,36.4 76.2,26.7 76.6,40.1 76.9,30.9 77.3,31.6 77.7,30.5 78.1,28.7 78.5,32.0 78.9,32.6 79.3,35.0 79.7,31.0 80.1,32.4 80.5,30.9 80.8,38.1 81.2,39.6 81.6,33.7 82.0,31.9 82.4,39.6 82.8,37.7 83.2,35.2 83.6,32.8 84.0,32.7 84.4,30.2 84.8,34.5 85.1,32.3 85.5,29.1 85.9,34.9 86.3,25.4 86.7,35.2 87.1,33.4 87.5,40.9 87.9,34.2 88.3,35.8 88.7,36.2 89.1,32.7 89.4,37.9 89.8,33.0 90.2,41.3 90.6,35.7 91.0,28.8 91.4,33.4 91.8,31.6 92.2,37.2 92.6,38.7 93.0,28.7 93.3,30.1 93.7,30.7 94.1,33.9 94.5,29.5 94.9,35.4 95.3,31.3 95.7,31.4 96.1,37.2 96.5,28.6 96.9,33.4 97.3,30.8 97.6,39.4 98.0,38.3 98.4,35.4 98.8,32.0 99.2,29.5 99.6,32.5 100.0,34.3 100.4,31.7 100.8,34.7 101.2,33.2 101.6,32.4 101.9,36.4 102.3,32.3 102.7,39.3 103.1,36.9 103.5,31.4 103.9,36.3 104.3,32.1 104.7,33.0 105.1,34.6 105.5,28.2 105.9,32.1 106.2,36.1 106.6,35.8 107.0,33.4 107.4,39.4 107.8,29.6 108.2,34.2 108.6,40.3 109.0,37.6 109.4,28.7 109.8,33.1 110.1,25.9 110.5,33.9 110.9,32.2 111.3,26.7 111.7,26.0 112.1,37.4 112.5,30.7 112.9,37.9 113.3,35.7 113.7,40.5 114.1,31.8 114.4,37.8 114.8,36.9 115.2,26.8 115.6,30.7 116.0,34.6 116.4,40.7 116.8,32.8 117.2,42.6 117.6,37.4 118.0,31.5 118.4,31.0 118.7,33.5 119.1,31.0 119.5,33.3 119.9,36.9 120.3,33.9 120.7,27.6 121.1,34.2 121.5,32.9 121.9,32.0 122.3,39.2 122.6,37.9 123.0,39.9 123.4,32.7 123.8,35.4 124.2,38.7 124.6,38.8 125.0,31.4 125.4,31.0 125.8,32.6 126.2,34.0 126.6,32.2 126.9,34.1 127.3,32.8 127.7,35.7 128.1,38.0 128.5,37.0 128.9,33.2 129.3,27.9 129.7,37.4 130.1,38.4 130.5,31.5 130.9,31.5 131.2,37.0 131.6,36.5 132.0,36.6 132.4,33.1 132.8,22.9 133.2,37.1 133.6,33.3 134.0,36.3 134.4,33.9 134.8,32.9 135.1,33.4 135.5,38.2 135.9,38.2 136.3,31.0 136.7,33.5 137.1,33.8 137.5,32.4 137.9,37.4 138.3,30.1 138.7,37.7 139.1,38.7 139.4,38.4 139.8,35.2 140.2,24.9 140.6,34.6 141.0,33.7 141.4,29.1 141.8,36.3 142.2,40.2 142.6,37.3 143.0,36.4 143.4,41.1 143.7,36.1 144.1,34.7 144.5,27.5 144.9,32.2 145.3,34.7 145.7,37.1 146.1,38.0 146.5,42.1 146.9,35.9 147.3,43.8 147.6,36.0 148.0,29.3 148.4,37.0 148.8,34.0 149.2,38.9 149.6,42.7 150.0,34.8 150.4,36.7 150.8,34.1 151.2,35.5 151.6,33.7 151.9,37.8 152.3,34.1 152.7,32.5 153.1,38.3 153.5,37.6 153.9,32.6 154.3,34.8 154.7,37.5 155.1,42.6 155.5,38.0 155.9,31.6 156.2,39.0 156.6,38.2 157.0,41.1 157.4,38.4 157.8,38.3 158.2,37.5 158.6,41.3 159.0,43.4 159.4,31.9 159.8,39.6 160.2,44.0 160.5,42.1 160.9,40.5 161.3,39.1 161.7,43.1 162.1,46.7 162.5,45.2 162.9,54.1 163.3,54.7 163.7,49.2 164.1,56.3 164.4,61.1 164.8,67.4 165.2,73.8 165.6,72.4 166.0,75.9 166.4,70.4 166.8,78.9 167.2,73.0 167.6,71.0 168.0,69.5 168.4,56.3 168.7,55.5 169.1,58.3 169.5,62.9 169.9,56.0 170.3,55.4 170.7,60.2 171.1,65.2 171.5,54.5 171.9,69.0 172.3,63.4 172.7,74.2 173.0,78.0 173.4,77.6 173.8,89.8 174.2,89.3 174.6,88.3 175.0,81.4 175.4,78.0 175.8,76.5 176.2,76.9 176.6,63.8 176.9,66.5 177.3,61.3 177.7,67.6 178.1,60.3 178.5,57.4 178.9,60.9 179.3,58.3 179.7,57.5 180.1,59.0 180.5,70.3 180.9,77.9 181.2,85.9 181.6,82.4 182.0,90.7 182.4,84.5 182.8,93.1 183.2,77.9 183.6,77.0 184.0,77.8 184.4,65.6 184.8,59.8 185.2,55.9 185.5,54.7 185.9,49.6 186.3,47.6 186.7,49.0 187.1,45.8 187.5,49.7 187.9,40.8 188.3,47.6 188.7,42.6 189.1,45.7 189.4,37.1 189.8,39.5 190.2,43.6 190.6,38.3 191.0,39.8 191.4,36.2 191.8,38.2 192.2,38.3 192.6,38.8 193.0,43.9 193.4,35.7 193.7,34.5 194.1,40.8 194.5,35.1 194.9,32.5 195.3,33.3 195.7,31.7 196.1,33.1 196.5,37.9 196.9,28.0 197.3,35.8 197.7,38.1 198.0,30.3 198.4,38.3 198.8,32.4 199.2,38.5 199.6,31.1 200.0,30.5 200.4,37.0 200.8,33.1 201.2,32.5 201.6,35.4 202.0,33.1 202.3,35.4 202.7,37.4 203.1,38.6 203.5,33.8 203.9,32.8 204.3,31.7 204.7,32.9 205.1,32.1 205.5,35.9 205.9,28.1 206.2,37.6 206.6,31.6 207.0,35.0 207.4,35.4 207.8,26.7 208.2,32.3 208.6,38.5 209.0,32.8 209.4,35.8 209.8,27.2 210.2,37.2 210.5,33.9 210.9,36.0 211.3,36.3 211.7,31.4 212.1,29.9 212.5,29.4 212.9,34.5 213.3,36.2 213.7,32.0 214.1,35.5 214.5,28.1 214.8,39.1 215.2,32.3 215.6,38.5 216.0,37.7 216.4,39.9 216.8,38.8 217.2,32.1 217.6,36.7 218.0,38.0 218.4,38.6 218.7,37.5 219.1,35.7 219.5,30.9 219.9,34.0 220.3,34.3 220.7,34.6 221.1,31.5 221.5,37.6 221.9,32.9 222.3,38.3 222.7,38.1 223.0,31.8 223.4,33.9 223.8,34.9 224.2,37.7 224.6,32.4 225.0,26.0 225.4,32.0 225.8,31.9 226.2,34.4 226.6,29.6 227.0,35.5 227.3,23.1 227.7,33.0 228.1,33.7 228.5,29.4 228.9,38.1 229.3,36.5 229.7,36.6 230.1,34.7 230.5,27.4 230.9,37.4 231.2,24.7 231.6,30.3 232.0,28.0 232.4,33.0 232.8,39.5 233.2,38.3 233.6,28.9 234.0,35.0 234.4,32.5 234.8,32.7 235.2,28.2 235.5,28.9 235.9,32.5 236.3,33.3 236.7,30.0 237.1,37.7 237.5,36.3 237.9,38.6 238.3,37.1 238.7,39.3 239.1,30.5 239.5,34.6 239.8,27.0 240.2,34.9 240.6,32.6 241.0,35.4 241.4,30.9 241.8,31.4 242.2,34.9 242.6,32.4 243.0,36.5 243.4,35.7 243.7,37.4 244.1,30.4 244.5,37.2 244.9,37.8 245.3,30.2 245.7,34.2 246.1,38.9 246.5,38.0 246.9,36.1 247.3,38.0 247.7,34.3 248.0,38.4 248.4,38.5 248.8,31.1 249.2,27.8 249.6,29.0 250.0,35.5 250.4,32.0 250.8,34.7 251.2,27.3 251.6,32.8 252.0,32.1 252.3,26.9 252.7,29.3 253.1,33.4 253.5,37.6 253.9,35.2 254.3,39.1 254.7,27.6 255.1,34.5 255.5,31.2 255.9,33.1 256.3,36.6 256.6,32.8 257.0,32.4 257.4,34.0 257.8,33.9 258.2,32.6 258.6,37.3 259.0,34.3 259.4,35.5 259.8,36.6 260.2,33.3 260.5,41.9 260.9,38.9 261.3,34.6 261.7,28.1 262.1,31.7 262.5,36.6 262.9,28.5 263.3,33.3 263.7,36.4 264.1,34.3 264.5,28.3 264.8,30.9 265.2,36.5 265.6,37.8 266.0,31.7 266.4,38.2 266.8,35.7 267.2,31.3 267.6,37.7 268.0,36.8 268.4,33.1 268.8,34.9 269.1,29.1 269.5,33.9 269.9,31.6 270.3,31.4 270.7,36.0 271.1,30.8 271.5,29.0 271.9,34.6 272.3,36.0 272.7,34.9 273.0,28.7 273.4,34.0 273.8,35.7 274.2,38.5 274.6,34.0 275.0,38.9 275.4,30.5 275.8,36.9 276.2,38.6 276.6,30.3 277.0,32.7 277.3,32.2 277.7,37.3 278.1,31.1 278.5,32.8 278.9,33.3 279.3,30.7 279.7,30.0 280.1,34.2 280.5,28.2 280.9,31.9 281.3,34.2 281.6,31.6 282.0,33.0 282.4,28.2 282.8,32.9 283.2,34.4 283.6,33.9 284.0,30.9 284.4,39.7 284.8,38.7 285.2,34.8 285.5,32.2 285.9,31.6 286.3,35.1 286.7,39.7 287.1,41.8 287.5,34.7 287.9,35.6 288.3,33.0 288.7,30.4 289.1,37.3 289.5,29.0 289.8,35.6 290.2,34.7 290.6,33.4 291.0,41.0 291.4,25.3 291.8,35.2" fill="none" stroke="#009E73" stroke-width="1.35" stroke-linejoin="round" />
<polyline points="57.8,29.9 58.2,36.5 58.6,39.9 59.0,37.9 59.4,38.2 59.8,41.1 60.1,43.4 60.5,31.3 60.9,36.6 61.3,33.6 61.7,29.5 62.1,36.0 62.5,34.0 62.9,30.3 63.3,32.6 63.7,33.3 64.1,37.6 64.4,37.5 64.8,31.4 65.2,35.0 65.6,30.7 66.0,31.4 66.4,32.5 66.8,31.5 67.2,33.2 67.6,29.6 68.0,41.8 68.3,36.7 68.7,32.8 69.1,27.8 69.5,40.1 69.9,35.9 70.3,32.3 70.7,29.2 71.1,35.6 71.5,41.5 71.9,32.6 72.3,31.0 72.6,32.2 73.0,32.3 73.4,31.7 73.8,36.7 74.2,31.8 74.6,30.8 75.0,33.9 75.4,37.1 75.8,36.1 76.2,31.3 76.6,36.3 76.9,29.2 77.3,33.1 77.7,34.8 78.1,30.8 78.5,34.0 78.9,26.0 79.3,28.6 79.7,36.6 80.1,35.2 80.5,41.3 80.8,31.0 81.2,32.3 81.6,33.2 82.0,39.2 82.4,28.2 82.8,29.3 83.2,35.6 83.6,36.3 84.0,35.8 84.4,31.0 84.8,32.7 85.1,34.4 85.5,35.0 85.9,39.1 86.3,36.3 86.7,40.4 87.1,30.4 87.5,34.3 87.9,34.1 88.3,35.7 88.7,37.8 89.1,41.8 89.4,37.4 89.8,36.1 90.2,35.8 90.6,31.0 91.0,30.9 91.4,38.0 91.8,37.5 92.2,30.6 92.6,42.4 93.0,35.2 93.3,31.3 93.7,33.7 94.1,35.9 94.5,31.7 94.9,36.4 95.3,37.2 95.7,33.3 96.1,34.6 96.5,32.0 96.9,29.7 97.3,29.1 97.6,43.1 98.0,32.8 98.4,32.0 98.8,30.9 99.2,35.3 99.6,35.2 100.0,32.7 100.4,37.0 100.8,40.3 101.2,31.4 101.6,31.5 101.9,38.5 102.3,30.1 102.7,37.4 103.1,32.7 103.5,38.9 103.9,34.1 104.3,36.8 104.7,36.0 105.1,32.9 105.5,31.8 105.9,37.7 106.2,28.5 106.6,37.3 107.0,40.1 107.4,35.3 107.8,27.1 108.2,36.0 108.6,39.3 109.0,36.8 109.4,33.0 109.8,32.1 110.1,32.5 110.5,30.2 110.9,26.6 111.3,33.7 111.7,32.5 112.1,33.9 112.5,32.6 112.9,29.5 113.3,32.6 113.7,37.7 114.1,30.6 114.4,28.3 114.8,33.1 115.2,26.9 115.6,30.0 116.0,39.5 116.4,35.7 116.8,38.2 117.2,35.9 117.6,37.3 118.0,33.3 118.4,31.7 118.7,41.4 119.1,31.2 119.5,34.5 119.9,30.4 120.3,35.1 120.7,42.6 121.1,34.5 121.5,32.7 121.9,32.6 122.3,34.3 122.6,38.1 123.0,37.5 123.4,37.2 123.8,38.0 124.2,33.9 124.6,32.7 125.0,31.0 125.4,32.7 125.8,34.6 126.2,31.8 126.6,34.1 126.9,37.8 127.3,30.7 127.7,34.2 128.1,34.3 128.5,29.5 128.9,32.0 129.3,31.5 129.7,26.6 130.1,29.6 130.5,30.8 130.9,33.5 131.2,41.5 131.6,43.2 132.0,37.6 132.4,25.4 132.8,34.7 133.2,35.8 133.6,32.0 134.0,29.8 134.4,32.6 134.8,31.9 135.1,32.7 135.5,35.5 135.9,36.2 136.3,42.6 136.7,34.4 137.1,34.3 137.5,33.1 137.9,30.6 138.3,39.3 138.7,38.7 139.1,31.7 139.4,40.4 139.8,33.6 140.2,34.3 140.6,32.5 141.0,37.6 141.4,32.3 141.8,39.0 142.2,31.6 142.6,34.6 143.0,36.1 143.4,33.9 143.7,29.8 144.1,38.5 144.5,35.3 144.9,39.3 145.3,31.1 145.7,32.0 146.1,38.0 146.5,35.6 146.9,38.9 147.3,34.6 147.6,30.9 148.0,36.9 148.4,34.7 148.8,41.0 149.2,28.5 149.6,39.2 150.0,34.4 150.4,36.2 150.8,30.9 151.2,35.7 151.6,36.4 151.9,39.9 152.3,30.4 152.7,41.5 153.1,29.1 153.5,30.1 153.9,28.1 154.3,38.4 154.7,37.7 155.1,34.3 155.5,30.9 155.9,38.9 156.2,30.5 156.6,39.4 157.0,32.5 157.4,35.0 157.8,34.5 158.2,35.6 158.6,32.9 159.0,42.1 159.4,31.9 159.8,37.9 160.2,36.8 160.5,39.2 160.9,34.0 161.3,35.3 161.7,38.6 162.1,41.1 162.5,31.3 162.9,39.7 163.3,37.6 163.7,42.0 164.1,38.4 164.4,39.1 164.8,42.6 165.2,43.2 165.6,45.8 166.0,62.2 166.4,57.2 166.8,58.1 167.2,48.7 167.6,47.4 168.0,50.6 168.4,38.3 168.7,42.3 169.1,35.9 169.5,43.8 169.9,38.0 170.3,36.4 170.7,42.7 171.1,40.6 171.5,42.8 171.9,45.4 172.3,44.5 172.7,55.3 173.0,48.4 173.4,54.1 173.8,62.4 174.2,57.3 174.6,67.3 175.0,62.1 175.4,50.2 175.8,49.2 176.2,50.8 176.6,40.7 176.9,45.6 177.3,43.9 177.7,42.3 178.1,39.5 178.5,39.9 178.9,45.5 179.3,44.0 179.7,41.1 180.1,40.3 180.5,45.3 180.9,45.3 181.2,48.3 181.6,58.7 182.0,58.7 182.4,51.6 182.8,59.8 183.2,53.4 183.6,57.5 184.0,37.8 184.4,49.0 184.8,41.3 185.2,40.1 185.5,46.4 185.9,40.2 186.3,34.4 186.7,40.3 187.1,33.8 187.5,38.0 187.9,31.9 188.3,27.8 188.7,39.9 189.1,34.5 189.4,38.1 189.8,38.9 190.2,35.2 190.6,34.3 191.0,33.3 191.4,33.3 191.8,43.1 192.2,36.6 192.6,42.6 193.0,33.5 193.4,31.5 193.7,33.5 194.1,36.5 194.5,33.1 194.9,31.5 195.3,32.4 195.7,36.4 196.1,35.7 196.5,29.6 196.9,34.3 197.3,33.6 197.7,34.1 198.0,32.0 198.4,32.2 198.8,35.3 199.2,35.5 199.6,35.3 200.0,33.6 200.4,32.0 200.8,39.4 201.2,28.4 201.6,38.1 202.0,33.7 202.3,38.2 202.7,36.0 203.1,34.4 203.5,32.1 203.9,33.2 204.3,31.0 204.7,35.2 205.1,28.2 205.5,40.0 205.9,33.1 206.2,32.9 206.6,35.7 207.0,34.2 207.4,37.2 207.8,32.6 208.2,35.5 208.6,31.2 209.0,32.6 209.4,32.5 209.8,33.6 210.2,37.2 210.5,31.4 210.9,30.9 211.3,35.2 211.7,38.0 212.1,36.4 212.5,30.0 212.9,40.0 213.3,32.6 213.7,35.2 214.1,31.1 214.5,39.3 214.8,32.2 215.2,37.7 215.6,31.9 216.0,27.6 216.4,34.7 216.8,26.9 217.2,33.7 217.6,31.2 218.0,25.3 218.4,30.1 218.7,32.0 219.1,42.5 219.5,36.8 219.9,32.4 220.3,36.6 220.7,37.5 221.1,32.1 221.5,39.1 221.9,38.1 222.3,31.3 222.7,26.4 223.0,36.7 223.4,33.5 223.8,31.9 224.2,36.3 224.6,37.0 225.0,32.4 225.4,37.9 225.8,36.7 226.2,27.0 226.6,41.0 227.0,26.7 227.3,28.6 227.7,36.1 228.1,29.6 228.5,33.1 228.9,37.3 229.3,36.0 229.7,36.6 230.1,28.1 230.5,38.3 230.9,38.7 231.2,35.4 231.6,36.4 232.0,25.9 232.4,35.8 232.8,36.7 233.2,36.9 233.6,37.0 234.0,41.5 234.4,33.9 234.8,36.8 235.2,35.3 235.5,29.6 235.9,30.3 236.3,31.2 236.7,37.6 237.1,34.5 237.5,36.1 237.9,35.3 238.3,34.7 238.7,36.2 239.1,30.3 239.5,36.9 239.8,29.0 240.2,32.5 240.6,34.6 241.0,32.3 241.4,35.4 241.8,35.3 242.2,30.3 242.6,35.1 243.0,18.2 243.4,38.5 243.7,39.1 244.1,29.3 244.5,35.9 244.9,36.5 245.3,38.1 245.7,35.0 246.1,37.1 246.5,31.4 246.9,36.6 247.3,34.3 247.7,31.9 248.0,33.4 248.4,36.1 248.8,38.2 249.2,39.9 249.6,40.1 250.0,31.6 250.4,36.5 250.8,35.9 251.2,33.6 251.6,33.1 252.0,30.4 252.3,32.6 252.7,35.2 253.1,38.7 253.5,32.6 253.9,34.7 254.3,34.4 254.7,37.5 255.1,33.1 255.5,31.1 255.9,34.8 256.3,31.7 256.6,34.0 257.0,35.4 257.4,29.6 257.8,35.1 258.2,33.1 258.6,39.7 259.0,30.9 259.4,35.6 259.8,34.5 260.2,35.5 260.5,33.0 260.9,36.3 261.3,38.0 261.7,33.5 262.1,33.0 262.5,35.9 262.9,31.5 263.3,30.0 263.7,36.8 264.1,32.3 264.5,32.3 264.8,39.8 265.2,38.6 265.6,42.3 266.0,28.8 266.4,35.7 266.8,35.4 267.2,31.6 267.6,28.0 268.0,32.2 268.4,27.8 268.8,29.0 269.1,19.8 269.5,37.4 269.9,35.5 270.3,36.7 270.7,31.5 271.1,37.0 271.5,30.9 271.9,41.0 272.3,30.1 272.7,32.0 273.0,28.2 273.4,31.4 273.8,33.3 274.2,32.5 274.6,41.5 275.0,34.9 275.4,33.4 275.8,27.2 276.2,33.6 276.6,39.9 277.0,25.6 277.3,37.6 277.7,33.8 278.1,37.8 278.5,47.3 278.9,31.0 279.3,35.9 279.7,31.1 280.1,36.4 280.5,31.7 280.9,28.0 281.3,31.6 281.6,34.5 282.0,36.0 282.4,34.0 282.8,39.1 283.2,33.6 283.6,31.5 284.0,39.6 284.4,38.8 284.8,27.1 285.2,34.1 285.5,27.1 285.9,31.8 286.3,31.3 286.7,33.3 287.1,27.5 287.5,28.8 287.9,34.2 288.3,41.2 288.7,38.9 289.1,34.4 289.5,37.8 289.8,31.8 290.2,32.4 290.6,32.2 291.0,31.9 291.4,33.4 291.8,32.5" fill="none" stroke="#F0E442" stroke-width="1.35" stroke-linejoin="round" />
<polyline points="57.8,33.3 58.2,38.2 58.6,34.2 59.0,34.2 59.4,30.6 59.8,35.6 60.1,37.5 60.5,26.9 60.9,31.1 61.3,29.8 61.7,27.8 62.1,35.2 62.5,30.0 62.9,33.3 63.3,38.3 63.7,33.1 64.1,33.2 64.4,31.9 64.8,35.1 65.2,35.0 65.6,38.3 66.0,31.0 66.4,41.7 66.8,34.1 67.2,36.0 67.6,35.9 68.0,33.2 68.3,35.5 68.7,40.9 69.1,42.0 69.5,41.2 69.9,37.3 70.3,35.5 70.7,35.6 71.1,34.1 71.5,33.5 71.9,35.8 72.3,39.6 72.6,35.9 73.0,36.6 73.4,27.7 73.8,30.4 74.2,37.4 74.6,34.6 75.0,29.2 75.4,33.3 75.8,30.1 76.2,33.1 76.6,33.0 76.9,31.6 77.3,36.3 77.7,36.7 78.1,35.3 78.5,29.8 78.9,32.7 79.3,38.7 79.7,30.0 80.1,32.0 80.5,30.4 80.8,32.8 81.2,33.7 81.6,41.5 82.0,32.9 82.4,40.8 82.8,34.8 83.2,27.1 83.6,33.2 84.0,32.6 84.4,35.9 84.8,32.9 85.1,38.9 85.5,34.9 85.9,33.0 86.3,35.0 86.7,38.3 87.1,43.0 87.5,36.4 87.9,37.2 88.3,36.3 88.7,32.2 89.1,40.9 89.4,31.2 89.8,39.4 90.2,24.7 90.6,29.3 91.0,31.7 91.4,37.3 91.8,33.5 92.2,33.5 92.6,36.4 93.0,36.2 93.3,30.0 93.7,33.5 94.1,26.8 94.5,29.5 94.9,34.2 95.3,31.6 95.7,33.4 96.1,38.7 96.5,31.9 96.9,37.1 97.3,28.6 97.6,30.0 98.0,43.1 98.4,33.5 98.8,38.0 99.2,27.6 99.6,34.4 100.0,32.8 100.4,31.6 100.8,37.7 101.2,33.4 101.6,29.0 101.9,36.3 102.3,31.7 102.7,34.8 103.1,25.4 103.5,26.4 103.9,34.0 104.3,34.7 104.7,32.0 105.1,34.3 105.5,34.4 105.9,36.1 106.2,27.4 106.6,25.4 107.0,31.9 107.4,40.1 107.8,39.2 108.2,32.0 108.6,37.6 109.0,36.1 109.4,33.6 109.8,35.7 110.1,29.3 110.5,39.1 110.9,33.6 111.3,38.5 111.7,33.3 112.1,41.1 112.5,35.9 112.9,29.8 113.3,36.8 113.7,33.0 114.1,36.1 114.4,33.4 114.8,35.4 115.2,32.0 115.6,38.1 116.0,34.8 116.4,31.3 116.8,36.8 117.2,31.1 117.6,30.6 118.0,33.0 118.4,41.8 118.7,27.4 119.1,38.7 119.5,33.9 119.9,32.3 120.3,27.6 120.7,33.6 121.1,37.2 121.5,31.4 121.9,27.6 122.3,37.6 122.6,31.5 123.0,33.9 123.4,33.1 123.8,34.8 124.2,32.4 124.6,31.5 125.0,24.5 125.4,41.0 125.8,27.4 126.2,33.3 126.6,37.7 126.9,39.4 127.3,28.5 127.7,40.2 128.1,26.6 128.5,39.1 128.9,32.2 129.3,37.4 129.7,39.1 130.1,36.2 130.5,26.3 130.9,33.1 131.2,32.7 131.6,30.0 132.0,29.1 132.4,37.3 132.8,31.9 133.2,33.4 133.6,35.2 134.0,42.0 134.4,30.0 134.8,30.7 135.1,35.7 135.5,19.7 135.9,38.4 136.3,34.7 136.7,32.7 137.1,36.7 137.5,33.9 137.9,27.9 138.3,37.8 138.7,41.6 139.1,36.2 139.4,37.6 139.8,35.9 140.2,36.7 140.6,34.2 141.0,25.1 141.4,33.9 141.8,25.8 142.2,34.4 142.6,36.3 143.0,41.9 143.4,33.4 143.7,32.2 144.1,24.0 144.5,41.0 144.9,37.0 145.3,35.7 145.7,35.2 146.1,34.6 146.5,37.6 146.9,34.7 147.3,38.2 147.6,38.3 148.0,33.4 148.4,29.8 148.8,37.0 149.2,41.5 149.6,36.5 150.0,34.4 150.4,34.7 150.8,29.7 151.2,38.5 151.6,35.5 151.9,37.0 152.3,27.9 152.7,33.2 153.1,35.6 153.5,37.7 153.9,31.1 154.3,39.8 154.7,30.2 155.1,30.6 155.5,32.2 155.9,33.9 156.2,34.5 156.6,31.5 157.0,35.5 157.4,30.9 157.8,40.3 158.2,29.6 158.6,35.2 159.0,30.1 159.4,33.5 159.8,37.0 160.2,35.6 160.5,37.6 160.9,32.2 161.3,40.9 161.7,41.2 162.1,32.2 162.5,34.7 162.9,40.2 163.3,34.6 163.7,42.4 164.1,37.7 164.4,44.0 164.8,37.0 165.2,41.1 165.6,41.0 166.0,50.8 166.4,47.3 166.8,48.4 167.2,43.6 167.6,40.9 168.0,46.6 168.4,41.2 168.7,39.2 169.1,36.7 169.5,38.6 169.9,37.1 170.3,33.1 170.7,44.3 171.1,33.8 171.5,44.0 171.9,39.4 172.3,42.9 172.7,39.9 173.0,42.9 173.4,38.6 173.8,50.6 174.2,41.3 174.6,43.3 175.0,39.8 175.4,45.5 175.8,36.6 176.2,39.9 176.6,37.3 176.9,38.8 177.3,36.2 177.7,33.0 178.1,39.1 178.5,45.4 178.9,37.7 179.3,35.7 179.7,41.4 180.1,41.0 180.5,46.0 180.9,39.2 181.2,46.3 181.6,39.9 182.0,40.3 182.4,37.6 182.8,39.9 183.2,39.4 183.6,42.1 184.0,33.4 184.4,47.6 184.8,43.5 185.2,31.4 185.5,40.3 185.9,41.3 186.3,39.2 186.7,33.1 187.1,31.8 187.5,33.1 187.9,37.5 188.3,36.2 188.7,32.9 189.1,36.3 189.4,32.9 189.8,40.0 190.2,30.5 190.6,34.3 191.0,35.0 191.4,36.8 191.8,43.4 192.2,29.6 192.6,36.7 193.0,34.6 193.4,34.7 193.7,31.0 194.1,35.1 194.5,27.2 194.9,31.7 195.3,36.0 195.7,36.5 196.1,24.6 196.5,37.8 196.9,36.2 197.3,38.6 197.7,33.6 198.0,34.7 198.4,29.4 198.8,38.0 199.2,39.7 199.6,27.5 200.0,44.6 200.4,34.3 200.8,41.2 201.2,32.1 201.6,37.4 202.0,31.6 202.3,36.0 202.7,33.3 203.1,39.0 203.5,34.5 203.9,33.4 204.3,33.6 204.7,30.2 205.1,30.7 205.5,23.7 205.9,39.3 206.2,32.6 206.6,34.3 207.0,32.0 207.4,28.8 207.8,26.3 208.2,28.1 208.6,37.8 209.0,37.6 209.4,38.0 209.8,34.4 210.2,40.1 210.5,35.0 210.9,40.5 211.3,35.4 211.7,34.4 212.1,29.6 212.5,34.4 212.9,35.4 213.3,31.8 213.7,37.4 214.1,29.3 214.5,34.3 214.8,32.2 215.2,35.2 215.6,34.0 216.0,35.6 216.4,36.6 216.8,33.9 217.2,31.2 217.6,39.7 218.0,34.0 218.4,30.0 218.7,35.3 219.1,29.7 219.5,31.2 219.9,38.2 220.3,36.5 220.7,28.8 221.1,29.6 221.5,32.3 221.9,33.5 222.3,43.2 222.7,34.3 223.0,40.8 223.4,34.7 223.8,34.3 224.2,34.6 224.6,32.1 225.0,33.6 225.4,38.7 225.8,35.8 226.2,30.3 226.6,26.0 227.0,38.3 227.3,32.2 227.7,29.6 228.1,31.9 228.5,34.6 228.9,29.1 229.3,26.8 229.7,33.1 230.1,37.1 230.5,39.3 230.9,30.9 231.2,28.6 231.6,34.7 232.0,33.7 232.4,34.7 232.8,25.7 233.2,37.4 233.6,30.8 234.0,36.1 234.4,30.9 234.8,31.8 235.2,29.0 235.5,34.4 235.9,36.4 236.3,35.8 236.7,37.6 237.1,30.1 237.5,33.9 237.9,40.3 238.3,32.8 238.7,35.7 239.1,40.6 239.5,35.1 239.8,34.1 240.2,36.4 240.6,36.1 241.0,38.6 241.4,38.7 241.8,26.5 242.2,39.2 242.6,31.7 243.0,32.1 243.4,33.9 243.7,42.0 244.1,29.7 244.5,36.8 244.9,25.5 245.3,35.7 245.7,38.4 246.1,29.4 246.5,35.4 246.9,33.0 247.3,30.3 247.7,37.6 248.0,39.0 248.4,34.0 248.8,30.0 249.2,34.5 249.6,35.4 250.0,28.5 250.4,29.8 250.8,33.9 251.2,25.6 251.6,35.6 252.0,32.7 252.3,37.3 252.7,31.5 253.1,29.6 253.5,34.4 253.9,39.4 254.3,32.7 254.7,34.4 255.1,32.3 255.5,38.6 255.9,32.6 256.3,36.7 256.6,30.5 257.0,33.5 257.4,34.6 257.8,33.3 258.2,31.2 258.6,27.6 259.0,34.5 259.4,33.0 259.8,36.7 260.2,33.7 260.5,39.2 260.9,34.9 261.3,28.0 261.7,33.7 262.1,35.2 262.5,35.6 262.9,37.3 263.3,31.2 263.7,35.5 264.1,36.7 264.5,27.1 264.8,29.7 265.2,32.8 265.6,36.4 266.0,28.6 266.4,26.3 266.8,33.9 267.2,32.3 267.6,31.7 268.0,28.1 268.4,31.5 268.8,32.4 269.1,34.8 269.5,35.9 269.9,32.3 270.3,32.9 270.7,34.9 271.1,37.5 271.5,34.3 271.9,35.6 272.3,33.2 272.7,29.8 273.0,30.4 273.4,28.4 273.8,40.8 274.2,28.3 274.6,38.6 275.0,32.2 275.4,34.2 275.8,31.5 276.2,37.6 276.6,31.4 277.0,40.7 277.3,29.3 277.7,38.0 278.1,25.3 278.5,36.1 278.9,34.6 279.3,34.8 279.7,32.0 280.1,34.7 280.5,35.1 280.9,36.4 281.3,34.4 281.6,29.8 282.0,36.1 282.4,33.5 282.8,35.9 283.2,35.2 283.6,32.7 284.0,32.9 284.4,38.5 284.8,32.4 285.2,34.3 285.5,33.1 285.9,25.1 286.3,33.8 286.7,40.5 287.1,29.2 287.5,37.6 287.9,36.6 288.3,36.4 288.7,31.6 289.1,40.5 289.5,36.5 289.8,37.6 290.2,31.7 290.6,33.3 291.0,34.6 291.4,34.5 291.8,37.9" fill="none" stroke="#56B4E9" stroke-width="1.35" stroke-linejoin="round" />
<line x1="57.80" y1="11.80" x2="57.80" y2="246.40" stroke="#404040" stroke-width="1.4" />
<line x1="57.10" y1="245.70" x2="292.00" y2="245.70" stroke="#404040" stroke-width="1.4" />
<line x1="57.80" y1="245.70" x2="57.80" y2="242.70" stroke="#404040" stroke-width="1.2" />
<text transform="translate(60.80,261.30) scale(1.1,1)" font-size="10" font-weight="bold" text-anchor="middle" fill="#262626" stroke="#262626" stroke-width="0.25" >2.63</text>
<line x1="96.80" y1="245.70" x2="96.80" y2="242.70" stroke="#404040" stroke-width="1.2" />
<text transform="translate(99.80,261.30) scale(1.1,1)" font-size="10" font-weight="bold" text-anchor="middle" fill="#262626" stroke="#262626" stroke-width="0.25" >2.64</text>
<line x1="135.80" y1="245.70" x2="135.80" y2="242.70" stroke="#404040" stroke-width="1.2" />
<text transform="translate(138.80,261.30) scale(1.1,1)" font-size="10" font-weight="bold" text-anchor="middle" fill="#262626" stroke="#262626" stroke-width="0.25" >2.65</text>
<line x1="174.80" y1="245.70" x2="174.80" y2="242.70" stroke="#404040" stroke-width="1.2" />
<text transform="translate(177.80,261.30) scale(1.1,1)" font-size="10" font-weight="bold" text-anchor="middle" fill="#262626" stroke="#262626" stroke-width="0.25" >2.66</text>
<line x1="213.80" y1="245.70" x2="213.80" y2="242.70" stroke="#404040" stroke-width="1.2" />
<text transform="translate(216.80,261.30) scale(1.1,1)" font-size="10" font-weight="bold" text-anchor="middle" fill="#262626" stroke="#262626" stroke-width="0.25" >2.67</text>
<line x1="252.80" y1="245.70" x2="252.80" y2="242.70" stroke="#404040" stroke-width="1.2" />
<text transform="translate(255.80,261.30) scale(1.1,1)" font-size="10" font-weight="bold" text-anchor="middle" fill="#262626" stroke="#262626" stroke-width="0.25" >2.68</text>
<line x1="291.80" y1="245.70" x2="291.80" y2="242.70" stroke="#404040" stroke-width="1.2" />
<text transform="translate(294.80,261.30) scale(1.1,1)" font-size="10" font-weight="bold" text-anchor="middle" fill="#262626" stroke="#262626" stroke-width="0.25" >2.69</text>
<line x1="57.80" y1="33.75" x2="60.80" y2="33.75" stroke="#404040" stroke-width="1.2" />
<text transform="translate(45.60,37.95) scale(1.1,1)" font-size="10" font-weight="bold" text-anchor="end" fill="#262626" stroke="#262626" stroke-width="0.25" >1</text>
<line x1="57.80" y1="76.18" x2="60.80" y2="76.18" stroke="#404040" stroke-width="1.2" />
<text transform="translate(49.30,80.38) scale(1.1,1)" font-size="10" font-weight="bold" text-anchor="end" fill="#262626" stroke="#262626" stroke-width="0.25" >0.99</text>
<line x1="57.80" y1="118.61" x2="60.80" y2="118.61" stroke="#404040" stroke-width="1.2" />
<text transform="translate(49.30,122.81) scale(1.1,1)" font-size="10" font-weight="bold" text-anchor="end" fill="#262626" stroke="#262626" stroke-width="0.25" >0.98</text>
<line x1="57.80" y1="161.04" x2="60.80" y2="161.04" stroke="#404040" stroke-width="1.2" />
<text transform="translate(49.30,165.24) scale(1.1,1)" font-size="10" font-weight="bold" text-anchor="end" fill="#262626" stroke="#262626" stroke-width="0.25" >0.97</text>
<line x1="57.80" y1="203.47" x2="60.80" y2="203.47" stroke="#404040" stroke-width="1.2" />
<text transform="translate(49.30,207.67) scale(1.1,1)" font-size="10" font-weight="bold" text-anchor="end" fill="#262626" stroke="#262626" stroke-width="0.25" >0.96</text>
<text transform="translate(49.30,248.00) scale(1.1,1)" font-size="10" font-weight="bold" text-anchor="end" fill="#262626" stroke="#262626" stroke-width="0.25" >0.95</text>
<text transform="translate(10.80,118.40) rotate(-90) scale(1.05,1)" font-size="12.2" font-weight="bold" text-anchor="middle" fill="#262626" stroke="#262626" stroke-width="0.25" >Contrast (a.u)</text>
<text transform="translate(186.60,288.20) scale(1.06,1)" font-size="12.2" font-weight="bold" text-anchor="middle" fill="#262626" stroke="#262626" stroke-width="0.25" >Frequency (GHz)</text>
<text transform="translate(5.00,10.40) scale(1.06,1)" font-size="13.4" font-weight="bold" text-anchor="start" fill="#000" stroke="#000" stroke-width="0.25" >a</text>
<rect x="72.0" y="130.15" width="10.9" height="10.7" fill="#0072B2"/>
<text font-size="10" fill="#262626" y="140.05" xml:space="preserve"><tspan x="99.2" text-anchor="end">25</tspan><tspan x="101.52" text-anchor="start"> dBm</tspan></text>
<rect x="72.0" y="145.00" width="10.9" height="10.7" fill="#D55E00"/>
<text font-size="10" fill="#262626" y="154.90" xml:space="preserve"><tspan x="99.2" text-anchor="end">20</tspan><tspan x="101.52" text-anchor="start"> dBm</tspan></text>
<rect x="72.0" y="159.85" width="10.9" height="10.7" fill="#E69F00"/>
<text font-size="10" fill="#262626" y="169.75" xml:space="preserve"><tspan x="99.2" text-anchor="end">15</tspan><tspan x="101.52" text-anchor="start"> dBm</tspan></text>
<rect x="72.0" y="174.70" width="10.9" height="10.7" fill="#CC79A7"/>
<text font-size="10" fill="#262626" y="184.60" xml:space="preserve"><tspan x="99.2" text-anchor="end">10</tspan><tspan x="101.52" text-anchor="start"> dBm</tspan></text>
<rect x="72.0" y="189.55" width="10.9" height="10.7" fill="#009E73"/>
<text font-size="10" fill="#262626" y="199.45" xml:space="preserve"><tspan x="93.4" text-anchor="middle">5</tspan><tspan x="100.52" text-anchor="start"> dBm</tspan></text>
<rect x="72.0" y="204.40" width="10.9" height="10.7" fill="#F0E442"/>
<text font-size="10" fill="#262626" y="214.30" xml:space="preserve"><tspan x="93.4" text-anchor="middle">0</tspan><tspan x="100.52" text-anchor="start"> dBm</tspan></text>
<rect x="72.0" y="219.25" width="10.9" height="10.7" fill="#56B4E9"/>
<text font-size="10" fill="#262626" y="229.15" xml:space="preserve"><tspan x="92.0" text-anchor="middle">-5</tspan><tspan x="100.52" text-anchor="start"> dBm</tspan></text>
<polyline points="392.5,31.5 392.9,38.9 393.3,39.6 393.6,47.4 394.0,37.9 394.4,39.0 394.8,39.8 395.1,36.8 395.5,36.4 395.9,41.8 396.3,41.1 396.7,39.7 397.0,35.5 397.4,36.0 397.8,42.7 398.2,42.0 398.5,35.4 398.9,32.4 399.3,38.2 399.7,40.5 400.1,34.1 400.4,39.2 400.8,35.5 401.2,32.6 401.6,35.9 402.0,37.9 402.3,35.6 402.7,40.5 403.1,38.9 403.5,40.3 403.8,39.0 404.2,40.1 404.6,39.0 405.0,39.7 405.4,38.1 405.7,38.2 406.1,37.4 406.5,33.4 406.9,44.1 407.2,33.8 407.6,39.4 408.0,43.0 408.4,39.2 408.8,38.3 409.1,34.8 409.5,42.5 409.9,38.0 410.3,38.4 410.6,44.9 411.0,43.1 411.4,36.7 411.8,36.4 412.2,35.0 412.5,37.1 412.9,37.6 413.3,38.7 413.7,34.8 414.0,42.2 414.4,39.8 414.8,37.9 415.2,45.0 415.6,34.7 415.9,42.3 416.3,39.8 416.7,31.8 417.1,42.6 417.4,41.6 417.8,34.1 418.2,43.7 418.6,41.4 419.0,38.1 419.3,38.4 419.7,37.9 420.1,38.8 420.5,35.4 420.9,36.7 421.2,38.3 421.6,42.9 422.0,43.1 422.4,47.5 422.7,38.3 423.1,47.4 423.5,37.8 423.9,34.4 424.3,45.0 424.6,43.7 425.0,43.1 425.4,38.5 425.8,44.7 426.1,42.2 426.5,43.7 426.9,42.8 427.3,37.4 427.7,45.7 428.0,42.1 428.4,41.5 428.8,39.5 429.2,47.3 429.5,38.9 429.9,41.5 430.3,40.0 430.7,43.1 431.1,49.4 431.4,46.0 431.8,40.9 432.2,43.9 432.6,44.4 432.9,37.9 433.3,36.6 433.7,44.9 434.1,38.0 434.5,52.4 434.8,52.8 435.2,42.5 435.6,46.8 436.0,44.0 436.4,44.4 436.7,46.8 437.1,44.3 437.5,46.5 437.9,52.8 438.2,46.7 438.6,47.1 439.0,41.4 439.4,52.4 439.8,48.5 440.1,50.4 440.5,49.7 440.9,43.5 441.3,48.4 441.6,51.8 442.0,49.9 442.4,48.0 442.8,54.7 443.2,52.4 443.5,46.2 443.9,49.0 444.3,52.7 444.7,54.6 445.0,53.8 445.4,59.2 445.8,50.6 446.2,53.2 446.6,54.3 446.9,59.9 447.3,58.3 447.7,54.3 448.1,55.6 448.4,58.8 448.8,55.6 449.2,54.5 449.6,60.8 450.0,60.8 450.3,62.5 450.7,64.0 451.1,57.5 451.5,59.0 451.9,60.2 452.2,66.2 452.6,66.3 453.0,63.3 453.4,65.1 453.7,63.7 454.1,67.2 454.5,62.9 454.9,59.4 455.3,60.9 455.6,61.3 456.0,67.5 456.4,65.0 456.8,70.4 457.1,66.3 457.5,71.7 457.9,72.7 458.3,74.0 458.7,69.8 459.0,72.0 459.4,73.0 459.8,78.5 460.2,74.6 460.5,81.0 460.9,71.2 461.3,77.8 461.7,77.4 462.1,79.2 462.4,85.3 462.8,85.3 463.2,81.2 463.6,76.5 463.9,86.7 464.3,86.1 464.7,84.5 465.1,91.2 465.5,92.1 465.8,88.3 466.2,87.8 466.6,89.9 467.0,83.8 467.3,90.8 467.7,89.8 468.1,86.2 468.5,86.7 468.9,99.4 469.2,96.0 469.6,91.3 470.0,101.4 470.4,100.6 470.8,102.9 471.1,104.0 471.5,104.1 471.9,100.3 472.3,97.3 472.6,97.3 473.0,103.7 473.4,111.8 473.8,105.9 474.2,107.8 474.5,106.3 474.9,109.0 475.3,115.9 475.7,108.9 476.0,118.8 476.4,114.8 476.8,112.1 477.2,113.0 477.6,109.5 477.9,124.7 478.3,115.9 478.7,115.6 479.1,120.2 479.4,117.7 479.8,124.9 480.2,119.5 480.6,120.9 481.0,127.3 481.3,127.1 481.7,126.3 482.1,129.0 482.5,123.8 482.8,127.8 483.2,124.6 483.6,126.1 484.0,131.0 484.4,132.8 484.7,136.4 485.1,136.8 485.5,137.7 485.9,134.4 486.3,139.7 486.6,137.1 487.0,137.6 487.4,140.9 487.8,140.6 488.1,135.6 488.5,135.8 488.9,145.2 489.3,143.9 489.7,145.3 490.0,145.8 490.4,140.0 490.8,143.8 491.2,142.5 491.5,141.3 491.9,150.0 492.3,149.8 492.7,149.7 493.1,146.8 493.4,151.5 493.8,149.5 494.2,148.2 494.6,148.8 494.9,152.0 495.3,157.0 495.7,160.4 496.1,151.2 496.5,154.2 496.8,159.7 497.2,158.6 497.6,158.9 498.0,163.8 498.3,157.3 498.7,161.4 499.1,160.0 499.5,156.7 499.9,160.0 500.2,158.1 500.6,158.8 501.0,160.5 501.4,160.7 501.8,154.4 502.1,162.0 502.5,155.7 502.9,165.1 503.3,159.3 503.6,161.5 504.0,164.9 504.4,171.9 504.8,156.7 505.2,166.6 505.5,166.0 505.9,162.1 506.3,162.3 506.7,161.5 507.0,163.4 507.4,167.8 507.8,159.1 508.2,165.4 508.6,161.2 508.9,159.8 509.3,157.4 509.7,162.3 510.1,162.4 510.4,161.9 510.8,167.4 511.2,163.2 511.6,163.8 512.0,164.0 512.3,158.9 512.7,160.3 513.1,153.0 513.5,153.0 513.8,164.7 514.2,157.0 514.6,160.6 515.0,154.5 515.4,155.5 515.7,152.2 516.1,153.9 516.5,151.7 516.9,154.9 517.2,162.3 517.6,157.0 518.0,155.1 518.4,153.2 518.8,154.4 519.1,144.2 519.5,150.1 519.9,144.1 520.3,149.3 520.7,141.4 521.0,150.9 521.4,143.7 521.8,149.9 522.2,142.7 522.5,137.8 522.9,148.6 523.3,145.1 523.7,140.3 524.1,141.0 524.4,144.4 524.8,134.5 525.2,137.6 525.6,132.3 525.9,134.9 526.3,139.3 526.7,136.0 527.1,128.4 527.5,137.5 527.8,133.3 528.2,128.5 528.6,126.1 529.0,125.9 529.3,133.2 529.7,119.5 530.1,126.7 530.5,125.1 530.9,124.2 531.2,124.1 531.6,125.8 532.0,122.5 532.4,115.6 532.7,124.3 533.1,127.2 533.5,115.6 533.9,115.3 534.3,113.0 534.6,108.4 535.0,116.3 535.4,112.1 535.8,110.0 536.2,106.4 536.5,106.2 536.9,111.9 537.3,112.9 537.7,108.0 538.0,111.9 538.4,101.1 538.8,105.6 539.2,104.5 539.6,105.5 539.9,95.9 540.3,99.4 540.7,101.0 541.1,96.4 541.4,98.0 541.8,94.6 542.2,91.1 542.6,95.9 543.0,92.2 543.3,91.5 543.7,88.2 544.1,89.3 544.5,90.5 544.8,92.0 545.2,87.8 545.6,91.8 546.0,84.8 546.4,86.1 546.7,83.5 547.1,86.6 547.5,86.8 547.9,86.4 548.2,78.3 548.6,82.3 549.0,81.5 549.4,86.4 549.8,79.3 550.1,90.9 550.5,72.7 550.9,77.8 551.3,76.1 551.7,80.6 552.0,78.7 552.4,71.8 552.8,74.0 553.2,71.1 553.5,67.3 553.9,68.9 554.3,77.4 554.7,73.5 555.1,73.4 555.4,71.9 555.8,75.5 556.2,74.8 556.6,69.4 556.9,68.3 557.3,63.7 557.7,66.1 558.1,59.3 558.5,70.4 558.8,68.3 559.2,61.8 559.6,63.2 560.0,65.2 560.3,58.3 560.7,56.7 561.1,55.4 561.5,61.0 561.9,59.1 562.2,57.8 562.6,57.9 563.0,54.0 563.4,59.0 563.7,55.4 564.1,64.3 564.5,53.1 564.9,49.5 565.3,55.1 565.6,50.9 566.0,60.2 566.4,55.0 566.8,59.0 567.1,51.9 567.5,50.8 567.9,57.2 568.3,55.0 568.7,53.7 569.0,42.5 569.4,51.2 569.8,50.1 570.2,48.9 570.6,48.9 570.9,50.5 571.3,54.1 571.7,51.5 572.1,42.8 572.4,47.5 572.8,49.5 573.2,52.8 573.6,47.8 574.0,47.3 574.3,49.5 574.7,43.6 575.1,48.7 575.5,47.0 575.8,43.1 576.2,45.1 576.6,41.6 577.0,46.3 577.4,46.8 577.7,43.4 578.1,44.1 578.5,40.4 578.9,43.0 579.2,44.4 579.6,42.5 580.0,41.6 580.4,47.8 580.8,44.1 581.1,44.6 581.5,38.9 581.9,44.9 582.3,39.1 582.6,47.4 583.0,42.9 583.4,38.7 583.8,43.3 584.2,38.1 584.5,49.4 584.9,41.9 585.3,41.3 585.7,42.2 586.1,47.1 586.4,39.1 586.8,49.8 587.2,37.9 587.6,40.1 587.9,37.5 588.3,41.9 588.7,44.9 589.1,42.7 589.5,42.4 589.8,38.4 590.2,41.6 590.6,38.9 591.0,38.6 591.3,35.1 591.7,47.4 592.1,41.6 592.5,37.6 592.9,37.5 593.2,41.9 593.6,40.8 594.0,40.1 594.4,39.2 594.7,41.6 595.1,41.9 595.5,43.5 595.9,40.8 596.3,34.4 596.6,42.7 597.0,35.8 597.4,32.2 597.8,38.4 598.1,30.6 598.5,39.5 598.9,33.0 599.3,39.1 599.7,43.3 600.0,37.6 600.4,32.0 600.8,40.9 601.2,37.0 601.6,42.3 601.9,41.8 602.3,36.9 602.7,39.2 603.1,36.5 603.4,33.9 603.8,42.7 604.2,40.9 604.6,38.2 605.0,30.0 605.3,39.5 605.7,40.0 606.1,36.7 606.5,30.6 606.8,40.3 607.2,39.2 607.6,38.0 608.0,35.3 608.4,30.2 608.7,42.5 609.1,44.0 609.5,37.4 609.9,36.0 610.2,46.0 610.6,40.1 611.0,34.4 611.4,39.7 611.8,36.1 612.1,37.1 612.5,35.4 612.9,36.2 613.3,36.8 613.6,33.2 614.0,39.7 614.4,37.2 614.8,33.6 615.2,39.6 615.5,38.9 615.9,40.3 616.3,40.9 616.7,30.2 617.0,35.8 617.4,30.7 617.8,34.8 618.2,37.2 618.6,38.5 618.9,36.5 619.3,37.6 619.7,34.1 620.1,40.6 620.5,36.8 620.8,35.7 621.2,38.2 621.6,38.2 622.0,35.4 622.3,35.3 622.7,37.7 623.1,37.4 623.5,39.3 623.9,35.3 624.2,37.7 624.6,43.0 625.0,38.4 625.4,35.1 625.7,36.3 626.1,40.5 626.5,34.7" fill="none" stroke="#0072B2" stroke-width="1.35" stroke-linejoin="round" />
<polyline points="392.5,34.7 392.9,34.7 393.3,31.4 393.6,38.1 394.0,34.8 394.4,37.9 394.8,33.4 395.1,32.8 395.5,35.2 395.9,34.3 396.3,39.9 396.7,34.8 397.0,41.3 397.4,29.2 397.8,32.9 398.2,42.6 398.5,46.7 398.9,32.4 399.3,40.2 399.7,35.2 400.1,41.9 400.4,36.9 400.8,39.5 401.2,35.1 401.6,38.4 402.0,31.9 402.3,40.0 402.7,32.6 403.1,37.3 403.5,35.4 403.8,43.0 404.2,43.6 404.6,33.5 405.0,41.8 405.4,38.6 405.7,38.5 406.1,40.6 406.5,36.6 406.9,42.5 407.2,41.7 407.6,34.1 408.0,40.3 408.4,34.8 408.8,35.0 409.1,32.0 409.5,35.8 409.9,44.1 410.3,39.8 410.6,39.0 411.0,33.1 411.4,36.3 411.8,39.3 412.2,36.0 412.5,38.8 412.9,35.6 413.3,37.0 413.7,33.6 414.0,36.4 414.4,34.0 414.8,37.7 415.2,35.1 415.6,38.2 415.9,35.4 416.3,36.9 416.7,38.2 417.1,39.2 417.4,38.7 417.8,36.0 418.2,46.0 418.6,33.3 419.0,46.3 419.3,38.5 419.7,39.0 420.1,35.2 420.5,37.0 420.9,38.1 421.2,37.6 421.6,34.5 422.0,29.5 422.4,36.6 422.7,45.4 423.1,39.5 423.5,36.5 423.9,26.1 424.3,40.9 424.6,39.5 425.0,36.2 425.4,37.0 425.8,43.0 426.1,34.8 426.5,43.0 426.9,39.3 427.3,33.6 427.7,43.2 428.0,39.7 428.4,32.5 428.8,39.5 429.2,42.4 429.5,40.7 429.9,35.6 430.3,44.4 430.7,41.0 431.1,44.1 431.4,43.0 431.8,34.3 432.2,39.3 432.6,40.6 432.9,37.6 433.3,41.7 433.7,43.6 434.1,35.1 434.5,36.2 434.8,42.5 435.2,37.0 435.6,34.3 436.0,37.9 436.4,37.9 436.7,44.3 437.1,40.4 437.5,46.8 437.9,36.1 438.2,40.8 438.6,35.5 439.0,43.2 439.4,37.3 439.8,46.4 440.1,42.2 440.5,38.9 440.9,39.7 441.3,41.3 441.6,47.2 442.0,36.6 442.4,39.1 442.8,37.5 443.2,37.7 443.5,43.3 443.9,40.7 444.3,32.6 444.7,45.5 445.0,41.1 445.4,44.8 445.8,36.6 446.2,42.5 446.6,47.1 446.9,45.8 447.3,48.9 447.7,52.3 448.1,54.1 448.4,47.1 448.8,48.8 449.2,44.3 449.6,48.1 450.0,44.6 450.3,39.2 450.7,50.2 451.1,50.6 451.5,42.9 451.9,38.2 452.2,50.2 452.6,53.5 453.0,48.7 453.4,49.5 453.7,45.7 454.1,52.5 454.5,49.9 454.9,50.5 455.3,55.5 455.6,55.8 456.0,48.8 456.4,48.8 456.8,54.1 457.1,45.9 457.5,48.6 457.9,50.8 458.3,50.7 458.7,52.1 459.0,51.2 459.4,51.1 459.8,54.5 460.2,62.8 460.5,56.3 460.9,59.3 461.3,61.1 461.7,55.1 462.1,64.3 462.4,55.3 462.8,61.3 463.2,64.0 463.6,63.3 463.9,52.1 464.3,55.8 464.7,62.9 465.1,58.5 465.5,56.6 465.8,66.9 466.2,65.4 466.6,61.7 467.0,64.2 467.3,67.8 467.7,61.1 468.1,65.9 468.5,65.6 468.9,60.4 469.2,68.1 469.6,60.9 470.0,70.3 470.4,72.8 470.8,72.5 471.1,70.5 471.5,72.1 471.9,73.9 472.3,81.6 472.6,80.9 473.0,78.7 473.4,75.9 473.8,74.1 474.2,89.1 474.5,81.7 474.9,83.7 475.3,83.3 475.7,83.0 476.0,87.8 476.4,90.4 476.8,82.7 477.2,84.5 477.6,89.8 477.9,89.6 478.3,92.6 478.7,96.2 479.1,89.5 479.4,95.3 479.8,97.9 480.2,96.9 480.6,89.6 481.0,94.9 481.3,96.6 481.7,98.1 482.1,96.2 482.5,97.6 482.8,106.1 483.2,103.1 483.6,105.5 484.0,103.3 484.4,105.3 484.7,113.3 485.1,102.7 485.5,106.9 485.9,115.2 486.3,105.5 486.6,110.2 487.0,109.8 487.4,112.3 487.8,112.7 488.1,116.1 488.5,121.3 488.9,118.3 489.3,116.2 489.7,117.6 490.0,116.2 490.4,119.8 490.8,128.6 491.2,118.4 491.5,124.9 491.9,127.7 492.3,124.7 492.7,129.3 493.1,123.7 493.4,129.2 493.8,119.4 494.2,128.2 494.6,130.0 494.9,131.0 495.3,137.2 495.7,133.1 496.1,133.3 496.5,132.4 496.8,139.9 497.2,132.2 497.6,128.1 498.0,134.9 498.3,134.1 498.7,132.8 499.1,137.7 499.5,136.8 499.9,132.1 500.2,135.3 500.6,140.9 501.0,143.3 501.4,128.6 501.8,135.7 502.1,143.4 502.5,137.2 502.9,135.5 503.3,137.8 503.6,145.3 504.0,131.9 504.4,136.4 504.8,139.4 505.2,136.3 505.5,139.6 505.9,140.1 506.3,135.5 506.7,146.1 507.0,135.0 507.4,137.2 507.8,135.7 508.2,135.0 508.6,132.5 508.9,132.7 509.3,134.5 509.7,138.9 510.1,134.7 510.4,138.7 510.8,140.1 511.2,134.6 511.6,134.6 512.0,131.1 512.3,143.0 512.7,132.5 513.1,131.7 513.5,133.3 513.8,127.8 514.2,135.9 514.6,130.9 515.0,133.0 515.4,131.1 515.7,134.0 516.1,130.3 516.5,126.7 516.9,128.1 517.2,126.6 517.6,130.0 518.0,120.6 518.4,128.3 518.8,124.9 519.1,122.1 519.5,124.2 519.9,119.9 520.3,121.2 520.7,114.9 521.0,118.3 521.4,118.0 521.8,121.6 522.2,116.1 522.5,113.3 522.9,114.6 523.3,118.6 523.7,116.4 524.1,114.3 524.4,112.5 524.8,116.7 525.2,103.9 525.6,110.2 525.9,108.5 526.3,109.6 526.7,107.3 527.1,99.2 527.5,108.7 527.8,106.2 528.2,107.2 528.6,104.5 529.0,95.9 529.3,102.9 529.7,101.3 530.1,105.3 530.5,99.1 530.9,96.0 531.2,97.7 531.6,96.4 532.0,91.1 532.4,91.2 532.7,92.5 533.1,94.1 533.5,95.8 533.9,83.3 534.3,94.1 534.6,85.2 535.0,87.4 535.4,88.4 535.8,81.7 536.2,86.7 536.5,78.5 536.9,86.0 537.3,79.6 537.7,75.9 538.0,83.2 538.4,71.2 538.8,74.9 539.2,85.2 539.6,71.3 539.9,68.6 540.3,75.7 540.7,74.7 541.1,71.8 541.4,79.3 541.8,71.1 542.2,67.5 542.6,72.1 543.0,65.4 543.3,60.7 543.7,75.1 544.1,73.8 544.5,69.1 544.8,63.6 545.2,63.8 545.6,67.9 546.0,68.0 546.4,65.9 546.7,56.5 547.1,65.5 547.5,63.5 547.9,57.3 548.2,61.2 548.6,63.2 549.0,53.9 549.4,57.3 549.8,60.4 550.1,58.8 550.5,53.5 550.9,57.7 551.3,54.9 551.7,52.1 552.0,51.2 552.4,61.0 552.8,55.6 553.2,54.6 553.5,52.6 553.9,49.7 554.3,47.8 554.7,53.3 555.1,55.3 555.4,50.1 555.8,52.6 556.2,43.8 556.6,48.4 556.9,49.1 557.3,45.3 557.7,51.0 558.1,49.5 558.5,48.5 558.8,45.2 559.2,42.5 559.6,44.1 560.0,43.9 560.3,47.2 560.7,44.7 561.1,46.6 561.5,41.3 561.9,47.5 562.2,45.3 562.6,43.9 563.0,41.7 563.4,46.9 563.7,44.9 564.1,46.8 564.5,48.5 564.9,39.5 565.3,41.6 565.6,48.5 566.0,46.4 566.4,40.6 566.8,44.7 567.1,46.1 567.5,37.6 567.9,43.7 568.3,43.2 568.7,39.6 569.0,44.1 569.4,41.3 569.8,40.7 570.2,38.4 570.6,43.7 570.9,36.9 571.3,39.5 571.7,34.1 572.1,39.7 572.4,42.3 572.8,42.2 573.2,44.3 573.6,40.1 574.0,40.2 574.3,36.7 574.7,39.5 575.1,42.8 575.5,36.0 575.8,41.2 576.2,38.5 576.6,34.2 577.0,34.8 577.4,42.0 577.7,39.7 578.1,34.3 578.5,35.5 578.9,37.1 579.2,35.8 579.6,46.8 580.0,40.0 580.4,44.1 580.8,41.1 581.1,40.2 581.5,37.0 581.9,34.4 582.3,35.8 582.6,37.6 583.0,39.9 583.4,33.9 583.8,37.6 584.2,44.9 584.5,38.7 584.9,36.7 585.3,41.9 585.7,37.6 586.1,32.9 586.4,39.3 586.8,38.5 587.2,38.5 587.6,41.9 587.9,40.0 588.3,41.9 588.7,39.3 589.1,41.2 589.5,34.7 589.8,38.6 590.2,35.1 590.6,42.8 591.0,38.2 591.3,36.1 591.7,35.6 592.1,40.4 592.5,38.5 592.9,37.7 593.2,39.3 593.6,39.6 594.0,36.1 594.4,42.3 594.7,44.6 595.1,39.8 595.5,36.9 595.9,46.3 596.3,33.0 596.6,37.6 597.0,35.8 597.4,40.9 597.8,38.0 598.1,31.2 598.5,31.0 598.9,35.5 599.3,38.8 599.7,38.2 600.0,33.0 600.4,40.3 600.8,41.1 601.2,38.2 601.6,34.4 601.9,41.6 602.3,36.4 602.7,36.4 603.1,37.2 603.4,38.3 603.8,34.3 604.2,35.6 604.6,43.0 605.0,31.9 605.3,36.1 605.7,36.6 606.1,39.0 606.5,38.8 606.8,46.9 607.2,38.6 607.6,35.6 608.0,35.5 608.4,40.2 608.7,46.4 609.1,41.9 609.5,38.9 609.9,33.1 610.2,43.6 610.6,37.7 611.0,35.6 611.4,35.5 611.8,38.1 612.1,47.9 612.5,35.5 612.9,37.2 613.3,35.7 613.6,41.1 614.0,39.4 614.4,32.2 614.8,38.0 615.2,37.6 615.5,40.2 615.9,33.0 616.3,43.6 616.7,39.5 617.0,36.0 617.4,37.7 617.8,34.3 618.2,35.9 618.6,32.2 618.9,38.3 619.3,37.9 619.7,36.4 620.1,43.9 620.5,32.2 620.8,40.7 621.2,33.2 621.6,32.1 622.0,33.6 622.3,36.6 622.7,39.6 623.1,45.1 623.5,35.2 623.9,38.1 624.2,31.0 624.6,38.3 625.0,35.0 625.4,38.7 625.7,35.7 626.1,38.5 626.5,37.8" fill="none" stroke="#D55E00" stroke-width="1.35" stroke-linejoin="round" />
<polyline points="392.5,43.7 392.9,39.5 393.3,37.4 393.6,32.2 394.0,35.9 394.4,41.3 394.8,31.1 395.1,35.6 395.5,32.8 395.9,40.2 396.3,48.9 396.7,39.7 397.0,40.6 397.4,35.9 397.8,42.5 398.2,40.2 398.5,41.9 398.9,36.4 399.3,40.3 399.7,31.8 400.1,34.0 400.4,33.8 400.8,37.7 401.2,36.0 401.6,33.7 402.0,40.0 402.3,32.3 402.7,37.1 403.1,32.2 403.5,28.6 403.8,31.1 404.2,40.8 404.6,32.4 405.0,38.0 405.4,38.4 405.7,37.7 406.1,41.2 406.5,36.0 406.9,39.5 407.2,32.8 407.6,35.7 408.0,46.4 408.4,40.4 408.8,40.6 409.1,39.4 409.5,39.3 409.9,36.2 410.3,37.5 410.6,40.9 411.0,35.3 411.4,33.6 411.8,36.9 412.2,32.6 412.5,35.4 412.9,39.0 413.3,38.4 413.7,36.9 414.0,35.0 414.4,36.3 414.8,33.4 415.2,32.7 415.6,40.6 415.9,41.2 416.3,37.3 416.7,35.3 417.1,33.7 417.4,34.6 417.8,34.7 418.2,40.4 418.6,35.6 419.0,39.3 419.3,35.5 419.7,33.7 420.1,39.4 420.5,37.9 420.9,28.1 421.2,39.8 421.6,38.9 422.0,41.0 422.4,42.3 422.7,33.4 423.1,39.5 423.5,39.3 423.9,40.0 424.3,47.3 424.6,34.3 425.0,39.1 425.4,37.3 425.8,32.1 426.1,37.6 426.5,36.6 426.9,36.5 427.3,32.5 427.7,42.0 428.0,39.2 428.4,45.1 428.8,37.0 429.2,34.8 429.5,38.7 429.9,29.9 430.3,33.6 430.7,30.0 431.1,36.5 431.4,30.5 431.8,39.0 432.2,35.6 432.6,36.6 432.9,38.6 433.3,31.1 433.7,32.3 434.1,39.6 434.5,34.6 434.8,36.7 435.2,36.5 435.6,34.9 436.0,38.9 436.4,36.4 436.7,36.0 437.1,39.3 437.5,38.9 437.9,34.0 438.2,37.0 438.6,28.5 439.0,29.4 439.4,39.9 439.8,36.1 440.1,44.7 440.5,39.7 440.9,40.7 441.3,40.3 441.6,45.3 442.0,36.6 442.4,37.1 442.8,40.6 443.2,37.9 443.5,34.3 443.9,31.9 444.3,42.6 444.7,32.0 445.0,44.1 445.4,40.9 445.8,39.4 446.2,32.3 446.6,35.8 446.9,35.9 447.3,32.4 447.7,37.3 448.1,39.8 448.4,32.9 448.8,39.1 449.2,43.0 449.6,44.7 450.0,37.9 450.3,31.7 450.7,35.9 451.1,38.5 451.5,34.3 451.9,44.3 452.2,37.4 452.6,41.0 453.0,34.1 453.4,42.2 453.7,36.4 454.1,38.7 454.5,39.4 454.9,37.1 455.3,40.2 455.6,34.6 456.0,40.7 456.4,48.0 456.8,34.9 457.1,35.5 457.5,38.6 457.9,35.5 458.3,38.2 458.7,43.9 459.0,48.5 459.4,45.0 459.8,42.5 460.2,39.7 460.5,47.0 460.9,45.3 461.3,36.7 461.7,44.9 462.1,45.3 462.4,46.3 462.8,37.1 463.2,40.4 463.6,40.3 463.9,37.8 464.3,40.5 464.7,39.4 465.1,43.2 465.5,41.7 465.8,42.9 466.2,42.9 466.6,50.0 467.0,46.9 467.3,47.7 467.7,49.1 468.1,47.3 468.5,40.9 468.9,44.4 469.2,47.9 469.6,47.4 470.0,43.9 470.4,53.8 470.8,48.4 471.1,44.2 471.5,44.1 471.9,47.8 472.3,49.6 472.6,58.6 473.0,55.1 473.4,53.2 473.8,52.1 474.2,52.5 474.5,62.9 474.9,57.0 475.3,54.6 475.7,58.9 476.0,57.5 476.4,55.4 476.8,56.7 477.2,57.8 477.6,56.3 477.9,55.5 478.3,61.3 478.7,64.7 479.1,64.0 479.4,63.9 479.8,62.9 480.2,68.8 480.6,66.8 481.0,65.6 481.3,60.5 481.7,64.2 482.1,67.3 482.5,64.2 482.8,67.5 483.2,68.0 483.6,65.6 484.0,69.0 484.4,70.4 484.7,69.0 485.1,74.3 485.5,72.9 485.9,81.4 486.3,76.0 486.6,69.7 487.0,77.3 487.4,76.7 487.8,79.0 488.1,81.9 488.5,77.1 488.9,79.7 489.3,76.4 489.7,84.3 490.0,81.6 490.4,83.7 490.8,85.3 491.2,80.0 491.5,87.2 491.9,87.9 492.3,76.8 492.7,86.9 493.1,88.0 493.4,86.2 493.8,92.2 494.2,87.9 494.6,94.1 494.9,92.1 495.3,93.1 495.7,86.7 496.1,89.9 496.5,86.0 496.8,87.2 497.2,96.2 497.6,92.4 498.0,96.3 498.3,97.5 498.7,91.3 499.1,90.9 499.5,96.1 499.9,95.7 500.2,96.2 500.6,96.5 501.0,96.7 501.4,101.9 501.8,96.3 502.1,101.3 502.5,103.4 502.9,99.8 503.3,98.5 503.6,96.6 504.0,98.4 504.4,98.8 504.8,102.4 505.2,98.6 505.5,99.3 505.9,99.1 506.3,102.8 506.7,93.9 507.0,97.3 507.4,97.5 507.8,99.5 508.2,100.7 508.6,96.2 508.9,104.2 509.3,100.8 509.7,100.0 510.1,96.6 510.4,99.5 510.8,93.0 511.2,104.2 511.6,91.8 512.0,96.0 512.3,93.3 512.7,98.2 513.1,92.2 513.5,96.6 513.8,94.1 514.2,99.9 514.6,92.1 515.0,93.1 515.4,99.8 515.7,92.8 516.1,93.0 516.5,88.3 516.9,93.2 517.2,89.4 517.6,84.8 518.0,92.0 518.4,81.4 518.8,86.7 519.1,87.8 519.5,91.2 519.9,92.0 520.3,81.4 520.7,85.9 521.0,85.8 521.4,79.0 521.8,79.6 522.2,80.9 522.5,86.0 522.9,87.0 523.3,75.8 523.7,78.7 524.1,78.7 524.4,70.1 524.8,77.8 525.2,74.3 525.6,67.0 525.9,71.9 526.3,75.4 526.7,75.7 527.1,67.5 527.5,75.7 527.8,67.5 528.2,63.9 528.6,69.4 529.0,65.3 529.3,67.4 529.7,61.8 530.1,65.2 530.5,68.1 530.9,63.6 531.2,63.7 531.6,65.8 532.0,63.8 532.4,66.6 532.7,64.7 533.1,58.6 533.5,67.1 533.9,58.7 534.3,59.1 534.6,60.7 535.0,52.9 535.4,54.9 535.8,59.0 536.2,55.5 536.5,52.4 536.9,60.9 537.3,53.9 537.7,55.0 538.0,52.2 538.4,45.5 538.8,55.0 539.2,53.4 539.6,56.0 539.9,50.4 540.3,48.5 540.7,59.3 541.1,44.6 541.4,43.7 541.8,58.8 542.2,54.2 542.6,46.6 543.0,47.6 543.3,43.3 543.7,48.2 544.1,42.1 544.5,51.4 544.8,44.6 545.2,47.4 545.6,47.2 546.0,51.6 546.4,46.3 546.7,39.6 547.1,46.6 547.5,44.8 547.9,43.3 548.2,47.0 548.6,42.3 549.0,41.0 549.4,43.6 549.8,49.3 550.1,36.7 550.5,41.9 550.9,42.0 551.3,42.5 551.7,43.6 552.0,47.3 552.4,41.3 552.8,40.4 553.2,37.2 553.5,34.7 553.9,43.1 554.3,34.5 554.7,39.9 555.1,37.9 555.4,43.6 555.8,38.5 556.2,43.1 556.6,37.1 556.9,44.0 557.3,39.2 557.7,40.7 558.1,37.8 558.5,38.1 558.8,38.3 559.2,40.7 559.6,35.6 560.0,36.6 560.3,41.4 560.7,35.8 561.1,40.7 561.5,38.0 561.9,38.6 562.2,38.5 562.6,35.2 563.0,44.6 563.4,33.4 563.7,44.4 564.1,33.4 564.5,35.8 564.9,43.2 565.3,36.4 565.6,38.8 566.0,41.9 566.4,33.2 566.8,33.4 567.1,36.1 567.5,31.3 567.9,36.8 568.3,38.3 568.7,32.5 569.0,39.9 569.4,34.3 569.8,33.1 570.2,36.3 570.6,36.7 570.9,35.3 571.3,36.2 571.7,39.6 572.1,50.0 572.4,38.9 572.8,42.3 573.2,33.4 573.6,38.6 574.0,36.0 574.3,34.1 574.7,33.1 575.1,40.2 575.5,28.9 575.8,33.5 576.2,34.5 576.6,40.1 577.0,29.4 577.4,34.4 577.7,32.7 578.1,37.8 578.5,29.8 578.9,31.3 579.2,37.1 579.6,29.4 580.0,40.6 580.4,33.5 580.8,34.3 581.1,34.2 581.5,39.3 581.9,38.0 582.3,33.2 582.6,32.8 583.0,36.9 583.4,37.7 583.8,38.7 584.2,31.9 584.5,37.3 584.9,38.8 585.3,43.8 585.7,43.4 586.1,41.0 586.4,44.3 586.8,38.4 587.2,38.1 587.6,40.6 587.9,38.5 588.3,37.3 588.7,43.4 589.1,34.4 589.5,47.1 589.8,29.9 590.2,42.4 590.6,36.9 591.0,38.3 591.3,35.6 591.7,39.7 592.1,35.0 592.5,42.7 592.9,34.2 593.2,38.0 593.6,35.6 594.0,33.2 594.4,41.3 594.7,39.1 595.1,39.7 595.5,37.3 595.9,36.3 596.3,34.3 596.6,36.1 597.0,37.5 597.4,34.9 597.8,33.2 598.1,33.4 598.5,29.2 598.9,39.2 599.3,36.1 599.7,41.8 600.0,39.4 600.4,34.6 600.8,32.3 601.2,38.7 601.6,35.2 601.9,36.6 602.3,35.0 602.7,36.1 603.1,38.6 603.4,45.0 603.8,42.3 604.2,35.4 604.6,37.2 605.0,29.2 605.3,36.7 605.7,33.5 606.1,41.1 606.5,41.9 606.8,36.1 607.2,30.7 607.6,35.3 608.0,38.0 608.4,35.3 608.7,34.6 609.1,35.2 609.5,36.7 609.9,40.6 610.2,40.9 610.6,38.7 611.0,37.3 611.4,41.6 611.8,31.0 612.1,34.6 612.5,38.7 612.9,34.0 613.3,27.9 613.6,35.9 614.0,36.0 614.4,33.0 614.8,41.7 615.2,38.8 615.5,39.5 615.9,34.0 616.3,42.9 616.7,35.6 617.0,38.5 617.4,37.8 617.8,38.8 618.2,31.4 618.6,39.9 618.9,41.1 619.3,35.6 619.7,38.8 620.1,34.9 620.5,36.9 620.8,36.6 621.2,36.5 621.6,42.9 622.0,44.1 622.3,29.4 622.7,41.0 623.1,34.9 623.5,40.8 623.9,37.1 624.2,37.7 624.6,31.5 625.0,37.5 625.4,42.3 625.7,41.9 626.1,35.6 626.5,33.6" fill="none" stroke="#E69F00" stroke-width="1.35" stroke-linejoin="round" />
<polyline points="392.5,29.4 392.9,29.0 393.3,41.8 393.6,37.1 394.0,41.1 394.4,35.7 394.8,33.8 395.1,43.3 395.5,33.6 395.9,34.1 396.3,37.6 396.7,38.9 397.0,30.7 397.4,37.2 397.8,40.6 398.2,36.3 398.5,32.9 398.9,34.2 399.3,43.8 399.7,41.6 400.1,38.2 400.4,36.2 400.8,36.2 401.2,41.3 401.6,33.4 402.0,35.0 402.3,42.4 402.7,40.2 403.1,37.1 403.5,42.2 403.8,36.6 404.2,36.1 404.6,38.3 405.0,34.6 405.4,30.2 405.7,39.1 406.1,35.0 406.5,38.4 406.9,31.2 407.2,32.2 407.6,36.7 408.0,39.0 408.4,33.9 408.8,37.0 409.1,41.2 409.5,40.4 409.9,37.3 410.3,28.9 410.6,32.8 411.0,31.7 411.4,33.3 411.8,31.7 412.2,31.3 412.5,40.8 412.9,34.5 413.3,34.5 413.7,35.0 414.0,35.2 414.4,45.9 414.8,36.1 415.2,41.7 415.6,33.3 415.9,38.7 416.3,37.8 416.7,37.0 417.1,44.2 417.4,37.4 417.8,41.4 418.2,33.4 418.6,38.7 419.0,40.9 419.3,32.4 419.7,37.9 420.1,40.4 420.5,37.2 420.9,37.6 421.2,36.0 421.6,40.5 422.0,33.0 422.4,35.7 422.7,31.0 423.1,34.8 423.5,40.4 423.9,33.1 424.3,37.8 424.6,36.5 425.0,45.8 425.4,41.4 425.8,31.9 426.1,32.9 426.5,43.3 426.9,35.7 427.3,35.7 427.7,32.4 428.0,40.9 428.4,43.2 428.8,35.8 429.2,39.3 429.5,39.1 429.9,40.2 430.3,32.5 430.7,40.1 431.1,33.5 431.4,34.8 431.8,39.4 432.2,33.5 432.6,32.4 432.9,35.7 433.3,37.9 433.7,34.3 434.1,39.7 434.5,35.3 434.8,31.5 435.2,41.9 435.6,43.6 436.0,34.5 436.4,40.3 436.7,38.8 437.1,36.6 437.5,39.4 437.9,36.8 438.2,40.8 438.6,39.2 439.0,37.6 439.4,35.3 439.8,38.8 440.1,36.1 440.5,35.2 440.9,35.6 441.3,37.8 441.6,32.7 442.0,40.3 442.4,33.7 442.8,33.9 443.2,34.3 443.5,39.4 443.9,34.1 444.3,35.9 444.7,41.7 445.0,38.8 445.4,42.5 445.8,36.4 446.2,32.8 446.6,34.5 446.9,41.5 447.3,41.6 447.7,38.7 448.1,38.6 448.4,35.4 448.8,39.3 449.2,34.2 449.6,40.2 450.0,34.6 450.3,43.6 450.7,40.5 451.1,38.4 451.5,35.6 451.9,36.8 452.2,41.9 452.6,43.5 453.0,39.0 453.4,39.3 453.7,40.5 454.1,39.2 454.5,44.0 454.9,37.5 455.3,35.9 455.6,42.7 456.0,42.7 456.4,35.3 456.8,36.0 457.1,42.8 457.5,42.5 457.9,46.5 458.3,38.6 458.7,39.7 459.0,40.5 459.4,32.6 459.8,41.5 460.2,41.4 460.5,40.2 460.9,42.0 461.3,37.5 461.7,42.2 462.1,41.3 462.4,33.8 462.8,44.2 463.2,46.6 463.6,41.9 463.9,44.8 464.3,45.1 464.7,42.2 465.1,40.1 465.5,48.9 465.8,44.3 466.2,51.4 466.6,40.7 467.0,48.0 467.3,42.2 467.7,38.3 468.1,40.2 468.5,43.7 468.9,52.7 469.2,38.9 469.6,47.5 470.0,43.4 470.4,48.4 470.8,47.7 471.1,41.3 471.5,53.4 471.9,52.1 472.3,49.0 472.6,44.4 473.0,57.6 473.4,44.3 473.8,50.6 474.2,46.9 474.5,40.3 474.9,48.2 475.3,46.4 475.7,45.7 476.0,52.1 476.4,50.8 476.8,52.3 477.2,51.2 477.6,53.4 477.9,54.6 478.3,55.2 478.7,50.7 479.1,58.6 479.4,53.7 479.8,49.5 480.2,59.9 480.6,61.6 481.0,53.1 481.3,58.8 481.7,59.0 482.1,54.4 482.5,56.0 482.8,59.9 483.2,59.0 483.6,63.5 484.0,60.7 484.4,59.2 484.7,57.4 485.1,57.6 485.5,53.8 485.9,60.7 486.3,57.2 486.6,60.2 487.0,65.2 487.4,60.8 487.8,61.1 488.1,60.3 488.5,61.3 488.9,63.0 489.3,67.0 489.7,65.3 490.0,63.5 490.4,62.5 490.8,62.3 491.2,64.3 491.5,63.6 491.9,61.1 492.3,65.9 492.7,68.9 493.1,72.4 493.4,67.5 493.8,65.7 494.2,69.6 494.6,63.2 494.9,71.9 495.3,70.4 495.7,69.5 496.1,74.1 496.5,66.3 496.8,72.9 497.2,74.7 497.6,77.3 498.0,67.6 498.3,66.6 498.7,75.1 499.1,76.8 499.5,73.4 499.9,72.0 500.2,74.1 500.6,70.6 501.0,76.3 501.4,65.2 501.8,71.5 502.1,69.2 502.5,74.4 502.9,69.6 503.3,67.2 503.6,75.8 504.0,72.8 504.4,69.7 504.8,71.9 505.2,76.4 505.5,75.1 505.9,71.3 506.3,72.2 506.7,75.8 507.0,72.2 507.4,81.3 507.8,73.0 508.2,69.7 508.6,69.8 508.9,74.6 509.3,72.1 509.7,72.0 510.1,73.2 510.4,75.6 510.8,77.7 511.2,74.6 511.6,76.8 512.0,79.9 512.3,67.8 512.7,77.3 513.1,74.3 513.5,74.2 513.8,78.0 514.2,70.4 514.6,77.6 515.0,64.8 515.4,76.0 515.7,73.6 516.1,71.1 516.5,70.7 516.9,69.9 517.2,65.6 517.6,64.3 518.0,60.1 518.4,72.2 518.8,63.6 519.1,64.5 519.5,67.7 519.9,71.0 520.3,57.1 520.7,61.1 521.0,71.6 521.4,59.3 521.8,62.7 522.2,63.2 522.5,60.8 522.9,65.6 523.3,63.5 523.7,59.1 524.1,66.5 524.4,66.9 524.8,67.7 525.2,58.4 525.6,64.7 525.9,61.7 526.3,61.9 526.7,57.6 527.1,58.1 527.5,62.0 527.8,53.5 528.2,56.7 528.6,56.6 529.0,59.1 529.3,58.4 529.7,57.7 530.1,56.3 530.5,54.5 530.9,54.1 531.2,56.2 531.6,55.4 532.0,52.0 532.4,49.9 532.7,49.3 533.1,53.6 533.5,57.8 533.9,52.2 534.3,51.9 534.6,51.8 535.0,49.9 535.4,53.3 535.8,50.7 536.2,59.2 536.5,44.0 536.9,50.0 537.3,51.0 537.7,47.6 538.0,50.1 538.4,51.6 538.8,45.6 539.2,48.1 539.6,50.5 539.9,45.3 540.3,45.9 540.7,45.8 541.1,48.0 541.4,42.8 541.8,49.7 542.2,43.1 542.6,40.4 543.0,49.0 543.3,44.6 543.7,51.7 544.1,44.8 544.5,50.9 544.8,49.4 545.2,43.6 545.6,40.1 546.0,42.0 546.4,44.4 546.7,46.3 547.1,43.2 547.5,34.3 547.9,37.7 548.2,47.5 548.6,45.1 549.0,47.6 549.4,40.1 549.8,43.1 550.1,47.4 550.5,42.3 550.9,43.3 551.3,45.2 551.7,42.5 552.0,37.9 552.4,44.3 552.8,42.1 553.2,45.9 553.5,42.0 553.9,35.4 554.3,38.3 554.7,42.8 555.1,42.2 555.4,35.4 555.8,40.3 556.2,41.6 556.6,35.4 556.9,40.9 557.3,42.0 557.7,37.7 558.1,43.8 558.5,40.6 558.8,41.7 559.2,38.3 559.6,39.1 560.0,31.9 560.3,36.0 560.7,38.3 561.1,36.3 561.5,39.1 561.9,37.2 562.2,36.0 562.6,36.4 563.0,32.9 563.4,35.9 563.7,40.4 564.1,36.8 564.5,41.9 564.9,30.4 565.3,44.5 565.6,38.1 566.0,35.8 566.4,41.0 566.8,39.1 567.1,33.8 567.5,41.9 567.9,34.1 568.3,38.3 568.7,38.7 569.0,30.2 569.4,34.5 569.8,35.9 570.2,38.2 570.6,36.6 570.9,37.8 571.3,30.6 571.7,36.4 572.1,39.8 572.4,38.9 572.8,35.6 573.2,41.1 573.6,39.8 574.0,42.9 574.3,45.4 574.7,28.7 575.1,37.7 575.5,30.5 575.8,34.8 576.2,35.8 576.6,40.9 577.0,37.0 577.4,36.2 577.7,40.1 578.1,34.2 578.5,32.3 578.9,35.0 579.2,35.9 579.6,42.9 580.0,26.6 580.4,33.9 580.8,40.9 581.1,40.8 581.5,39.1 581.9,40.3 582.3,36.5 582.6,39.8 583.0,36.2 583.4,38.3 583.8,37.6 584.2,40.9 584.5,36.0 584.9,35.6 585.3,39.6 585.7,42.6 586.1,36.4 586.4,43.2 586.8,39.5 587.2,34.9 587.6,32.1 587.9,37.7 588.3,35.4 588.7,31.9 589.1,40.5 589.5,38.2 589.8,35.6 590.2,31.8 590.6,41.0 591.0,41.1 591.3,33.1 591.7,32.3 592.1,38.9 592.5,36.4 592.9,33.1 593.2,37.5 593.6,43.6 594.0,35.9 594.4,33.2 594.7,41.3 595.1,31.9 595.5,37.9 595.9,43.3 596.3,35.9 596.6,42.3 597.0,31.7 597.4,34.9 597.8,30.2 598.1,42.8 598.5,36.2 598.9,31.4 599.3,32.3 599.7,34.4 600.0,35.3 600.4,34.3 600.8,33.0 601.2,30.1 601.6,43.1 601.9,40.4 602.3,38.8 602.7,35.9 603.1,35.3 603.4,38.0 603.8,37.0 604.2,33.9 604.6,32.3 605.0,39.6 605.3,37.7 605.7,36.5 606.1,27.6 606.5,39.1 606.8,35.6 607.2,36.5 607.6,38.2 608.0,33.3 608.4,37.0 608.7,38.5 609.1,36.5 609.5,35.7 609.9,39.0 610.2,39.4 610.6,32.6 611.0,38.9 611.4,33.4 611.8,37.4 612.1,39.9 612.5,40.9 612.9,43.0 613.3,34.3 613.6,34.5 614.0,38.4 614.4,40.8 614.8,38.9 615.2,36.4 615.5,32.4 615.9,39.4 616.3,43.1 616.7,36.2 617.0,38.3 617.4,40.1 617.8,43.9 618.2,35.0 618.6,31.9 618.9,40.8 619.3,42.6 619.7,39.1 620.1,38.2 620.5,35.2 620.8,36.8 621.2,43.4 621.6,36.2 622.0,36.1 622.3,39.2 622.7,36.1 623.1,42.2 623.5,38.5 623.9,42.2 624.2,37.3 624.6,34.5 625.0,44.4 625.4,37.1 625.7,34.6 626.1,36.3 626.5,31.3" fill="none" stroke="#CC79A7" stroke-width="1.35" stroke-linejoin="round" />
<polyline points="392.5,37.3 392.9,29.2 393.3,36.7 393.6,41.5 394.0,37.6 394.4,39.5 394.8,32.6 395.1,31.1 395.5,30.7 395.9,34.1 396.3,37.4 396.7,39.0 397.0,41.0 397.4,34.4 397.8,41.5 398.2,37.8 398.5,36.1 398.9,35.3 399.3,42.0 399.7,41.4 400.1,41.2 400.4,33.8 400.8,41.0 401.2,40.2 401.6,34.7 402.0,33.5 402.3,30.0 402.7,36.9 403.1,33.4 403.5,43.3 403.8,34.5 404.2,33.6 404.6,33.2 405.0,38.4 405.4,31.5 405.7,30.7 406.1,36.6 406.5,36.4 406.9,37.8 407.2,37.7 407.6,36.6 408.0,41.3 408.4,41.6 408.8,37.6 409.1,38.6 409.5,33.2 409.9,37.5 410.3,40.2 410.6,43.2 411.0,37.9 411.4,40.6 411.8,43.2 412.2,29.7 412.5,43.7 412.9,30.6 413.3,25.4 413.7,36.2 414.0,38.2 414.4,34.1 414.8,39.9 415.2,35.9 415.6,33.8 415.9,41.2 416.3,30.9 416.7,36.3 417.1,35.5 417.4,31.7 417.8,41.7 418.2,41.1 418.6,35.5 419.0,35.2 419.3,37.4 419.7,36.9 420.1,37.5 420.5,40.1 420.9,41.4 421.2,39.3 421.6,36.1 422.0,35.0 422.4,41.2 422.7,30.3 423.1,28.1 423.5,35.9 423.9,39.6 424.3,37.3 424.6,33.7 425.0,37.0 425.4,29.8 425.8,37.7 426.1,33.2 426.5,34.9 426.9,28.4 427.3,35.1 427.7,34.9 428.0,39.7 428.4,37.6 428.8,41.5 429.2,24.9 429.5,36.4 429.9,37.4 430.3,36.5 430.7,35.2 431.1,34.6 431.4,43.1 431.8,32.0 432.2,36.4 432.6,36.8 432.9,30.0 433.3,35.6 433.7,39.5 434.1,39.8 434.5,33.8 434.8,36.4 435.2,36.1 435.6,41.3 436.0,36.0 436.4,39.1 436.7,39.6 437.1,32.0 437.5,35.6 437.9,37.7 438.2,33.1 438.6,29.8 439.0,42.2 439.4,33.3 439.8,35.8 440.1,37.0 440.5,31.6 440.9,33.6 441.3,38.4 441.6,32.1 442.0,37.5 442.4,36.8 442.8,41.6 443.2,36.6 443.5,34.6 443.9,38.0 444.3,36.7 444.7,32.2 445.0,37.4 445.4,39.2 445.8,30.7 446.2,39.5 446.6,45.7 446.9,41.7 447.3,37.9 447.7,41.4 448.1,41.2 448.4,38.9 448.8,37.7 449.2,38.0 449.6,37.1 450.0,33.1 450.3,25.1 450.7,32.8 451.1,34.7 451.5,39.7 451.9,36.9 452.2,41.1 452.6,37.4 453.0,41.3 453.4,33.4 453.7,29.7 454.1,33.9 454.5,27.7 454.9,41.5 455.3,34.3 455.6,37.9 456.0,36.9 456.4,41.5 456.8,37.9 457.1,38.1 457.5,40.3 457.9,33.6 458.3,35.1 458.7,33.5 459.0,39.9 459.4,40.4 459.8,42.3 460.2,35.1 460.5,34.6 460.9,38.3 461.3,40.9 461.7,38.0 462.1,36.6 462.4,36.6 462.8,39.5 463.2,34.5 463.6,34.0 463.9,42.0 464.3,37.7 464.7,38.6 465.1,43.7 465.5,41.2 465.8,38.2 466.2,34.9 466.6,42.0 467.0,40.9 467.3,40.3 467.7,41.2 468.1,45.0 468.5,36.8 468.9,40.8 469.2,38.4 469.6,37.7 470.0,41.9 470.4,44.0 470.8,43.1 471.1,42.5 471.5,43.8 471.9,42.0 472.3,46.2 472.6,42.8 473.0,43.5 473.4,40.5 473.8,39.8 474.2,35.1 474.5,37.5 474.9,39.4 475.3,42.0 475.7,42.0 476.0,41.0 476.4,43.3 476.8,42.5 477.2,45.9 477.6,41.5 477.9,46.4 478.3,45.0 478.7,45.4 479.1,34.3 479.4,43.3 479.8,40.3 480.2,48.6 480.6,42.1 481.0,45.5 481.3,41.2 481.7,46.2 482.1,49.1 482.5,42.3 482.8,45.1 483.2,50.2 483.6,46.0 484.0,49.3 484.4,43.5 484.7,45.9 485.1,45.1 485.5,50.0 485.9,41.9 486.3,49.0 486.6,46.0 487.0,48.1 487.4,47.2 487.8,52.1 488.1,47.5 488.5,46.5 488.9,52.8 489.3,44.6 489.7,52.1 490.0,50.7 490.4,51.2 490.8,44.8 491.2,51.1 491.5,51.0 491.9,48.4 492.3,49.2 492.7,45.7 493.1,51.6 493.4,52.4 493.8,53.3 494.2,53.4 494.6,48.1 494.9,49.0 495.3,52.2 495.7,51.6 496.1,59.3 496.5,48.4 496.8,49.9 497.2,59.4 497.6,53.8 498.0,52.3 498.3,46.8 498.7,51.2 499.1,47.7 499.5,46.6 499.9,49.8 500.2,55.9 500.6,57.4 501.0,53.7 501.4,49.9 501.8,51.2 502.1,57.6 502.5,50.3 502.9,56.2 503.3,54.4 503.6,49.4 504.0,52.6 504.4,55.0 504.8,55.9 505.2,52.9 505.5,52.1 505.9,53.7 506.3,56.0 506.7,51.4 507.0,50.1 507.4,57.2 507.8,50.7 508.2,55.3 508.6,53.9 508.9,49.5 509.3,57.4 509.7,53.3 510.1,46.6 510.4,47.4 510.8,54.7 511.2,56.5 511.6,47.9 512.0,51.5 512.3,51.3 512.7,57.8 513.1,51.7 513.5,57.5 513.8,52.9 514.2,45.1 514.6,47.1 515.0,45.8 515.4,51.2 515.7,49.8 516.1,52.5 516.5,43.7 516.9,52.7 517.2,55.8 517.6,52.2 518.0,46.6 518.4,52.2 518.8,49.4 519.1,55.1 519.5,52.2 519.9,54.4 520.3,53.6 520.7,50.3 521.0,47.1 521.4,42.0 521.8,46.8 522.2,52.7 522.5,52.5 522.9,53.9 523.3,48.6 523.7,51.6 524.1,48.7 524.4,51.8 524.8,41.8 525.2,48.4 525.6,44.4 525.9,48.0 526.3,38.5 526.7,51.7 527.1,44.3 527.5,41.0 527.8,45.9 528.2,42.1 528.6,45.6 529.0,41.0 529.3,45.1 529.7,38.4 530.1,50.2 530.5,41.5 530.9,46.0 531.2,45.5 531.6,41.7 532.0,45.9 532.4,45.9 532.7,41.2 533.1,47.2 533.5,43.9 533.9,39.1 534.3,45.7 534.6,38.1 535.0,46.3 535.4,41.3 535.8,41.8 536.2,47.1 536.5,39.0 536.9,46.9 537.3,36.5 537.7,35.9 538.0,43.7 538.4,41.0 538.8,41.8 539.2,46.2 539.6,43.9 539.9,41.0 540.3,40.6 540.7,35.9 541.1,42.1 541.4,42.3 541.8,37.7 542.2,37.2 542.6,40.8 543.0,39.0 543.3,41.8 543.7,40.1 544.1,47.2 544.5,45.8 544.8,36.1 545.2,41.5 545.6,43.1 546.0,37.1 546.4,31.3 546.7,35.0 547.1,37.1 547.5,38.6 547.9,31.8 548.2,32.0 548.6,37.4 549.0,39.4 549.4,37.6 549.8,36.0 550.1,38.4 550.5,39.7 550.9,40.0 551.3,43.1 551.7,38.7 552.0,36.7 552.4,42.5 552.8,40.9 553.2,34.1 553.5,40.6 553.9,36.2 554.3,41.6 554.7,44.7 555.1,36.3 555.4,35.3 555.8,36.7 556.2,37.7 556.6,32.2 556.9,38.6 557.3,40.4 557.7,36.5 558.1,33.6 558.5,36.2 558.8,33.6 559.2,31.7 559.6,40.1 560.0,37.7 560.3,38.2 560.7,35.1 561.1,43.0 561.5,33.7 561.9,42.2 562.2,35.8 562.6,38.3 563.0,38.8 563.4,35.1 563.7,41.6 564.1,35.0 564.5,38.3 564.9,42.0 565.3,33.5 565.6,41.5 566.0,34.8 566.4,38.5 566.8,38.3 567.1,32.0 567.5,35.9 567.9,37.8 568.3,33.8 568.7,38.6 569.0,31.2 569.4,39.1 569.8,35.0 570.2,39.0 570.6,34.4 570.9,40.1 571.3,37.2 571.7,34.3 572.1,41.6 572.4,37.6 572.8,35.4 573.2,38.7 573.6,38.2 574.0,34.4 574.3,33.8 574.7,42.6 575.1,40.1 575.5,46.4 575.8,37.2 576.2,34.8 576.6,40.2 577.0,41.4 577.4,35.5 577.7,39.0 578.1,29.7 578.5,31.7 578.9,43.7 579.2,34.6 579.6,34.7 580.0,34.5 580.4,37.1 580.8,42.3 581.1,36.6 581.5,39.0 581.9,30.6 582.3,34.9 582.6,32.5 583.0,40.8 583.4,37.0 583.8,37.9 584.2,40.3 584.5,38.8 584.9,42.7 585.3,36.7 585.7,40.5 586.1,36.8 586.4,35.9 586.8,38.2 587.2,39.9 587.6,34.4 587.9,34.4 588.3,39.1 588.7,33.6 589.1,46.8 589.5,36.7 589.8,35.6 590.2,37.4 590.6,43.2 591.0,37.3 591.3,33.8 591.7,36.1 592.1,41.9 592.5,36.9 592.9,30.8 593.2,32.5 593.6,31.6 594.0,37.2 594.4,34.2 594.7,37.0 595.1,37.2 595.5,40.7 595.9,36.8 596.3,33.1 596.6,36.4 597.0,43.5 597.4,34.7 597.8,40.8 598.1,34.9 598.5,39.7 598.9,31.1 599.3,37.5 599.7,33.0 600.0,41.9 600.4,37.4 600.8,36.3 601.2,41.8 601.6,38.8 601.9,38.7 602.3,36.4 602.7,36.6 603.1,42.8 603.4,32.6 603.8,34.5 604.2,39.0 604.6,33.3 605.0,37.6 605.3,38.9 605.7,41.6 606.1,46.2 606.5,35.7 606.8,32.7 607.2,34.5 607.6,34.5 608.0,29.7 608.4,42.0 608.7,34.1 609.1,29.4 609.5,37.1 609.9,29.6 610.2,37.7 610.6,38.6 611.0,43.4 611.4,34.4 611.8,33.5 612.1,34.3 612.5,35.6 612.9,33.7 613.3,37.0 613.6,42.5 614.0,35.3 614.4,34.3 614.8,26.5 615.2,37.9 615.5,35.9 615.9,42.7 616.3,42.8 616.7,40.6 617.0,31.1 617.4,35.9 617.8,36.2 618.2,38.3 618.6,35.6 618.9,33.3 619.3,34.3 619.7,36.7 620.1,35.8 620.5,35.0 620.8,33.9 621.2,35.1 621.6,37.4 622.0,41.5 622.3,36.0 622.7,36.4 623.1,36.8 623.5,38.0 623.9,40.7 624.2,32.7 624.6,39.0 625.0,36.8 625.4,38.3 625.7,41.3 626.1,34.2 626.5,42.3" fill="none" stroke="#009E73" stroke-width="1.35" stroke-linejoin="round" />
<polyline points="392.5,36.7 392.9,38.2 393.3,36.6 393.6,40.3 394.0,33.0 394.4,32.0 394.8,34.2 395.1,38.5 395.5,41.5 395.9,29.4 396.3,43.8 396.7,41.1 397.0,35.4 397.4,34.9 397.8,40.9 398.2,35.0 398.5,41.8 398.9,34.1 399.3,35.2 399.7,36.7 400.1,32.7 400.4,35.4 400.8,45.0 401.2,33.7 401.6,35.6 402.0,33.1 402.3,37.3 402.7,33.7 403.1,37.7 403.5,34.9 403.8,33.2 404.2,38.4 404.6,38.7 405.0,36.2 405.4,33.5 405.7,35.1 406.1,35.8 406.5,33.9 406.9,35.0 407.2,40.1 407.6,31.5 408.0,31.8 408.4,32.5 408.8,42.5 409.1,31.9 409.5,40.3 409.9,36.4 410.3,37.0 410.6,30.5 411.0,32.9 411.4,36.4 411.8,34.7 412.2,38.6 412.5,40.2 412.9,34.0 413.3,33.6 413.7,36.2 414.0,30.7 414.4,29.8 414.8,37.9 415.2,35.3 415.6,34.5 415.9,43.1 416.3,32.1 416.7,32.6 417.1,34.8 417.4,36.2 417.8,37.5 418.2,31.2 418.6,38.3 419.0,34.7 419.3,36.4 419.7,31.5 420.1,30.8 420.5,35.6 420.9,36.1 421.2,40.5 421.6,39.9 422.0,34.9 422.4,34.6 422.7,36.1 423.1,40.6 423.5,39.7 423.9,46.7 424.3,37.0 424.6,45.6 425.0,43.6 425.4,40.3 425.8,33.3 426.1,41.2 426.5,34.7 426.9,30.0 427.3,34.4 427.7,34.9 428.0,41.3 428.4,38.2 428.8,43.0 429.2,34.8 429.5,35.1 429.9,31.9 430.3,36.8 430.7,35.8 431.1,40.1 431.4,35.5 431.8,32.6 432.2,35.1 432.6,34.0 432.9,36.5 433.3,35.1 433.7,36.3 434.1,39.9 434.5,37.0 434.8,34.1 435.2,35.5 435.6,37.1 436.0,39.8 436.4,34.8 436.7,38.6 437.1,37.4 437.5,34.4 437.9,32.8 438.2,38.7 438.6,38.1 439.0,34.0 439.4,37.7 439.8,30.5 440.1,33.2 440.5,36.4 440.9,40.6 441.3,33.7 441.6,36.0 442.0,42.1 442.4,39.9 442.8,37.4 443.2,34.3 443.5,43.9 443.9,37.3 444.3,36.4 444.7,28.9 445.0,35.9 445.4,36.1 445.8,37.0 446.2,35.7 446.6,34.8 446.9,37.7 447.3,35.2 447.7,30.2 448.1,37.8 448.4,34.7 448.8,30.1 449.2,39.7 449.6,37.0 450.0,39.3 450.3,33.9 450.7,33.0 451.1,35.3 451.5,37.1 451.9,37.2 452.2,36.3 452.6,32.9 453.0,35.6 453.4,31.5 453.7,29.7 454.1,37.9 454.5,30.9 454.9,32.2 455.3,37.1 455.6,45.2 456.0,40.5 456.4,34.3 456.8,43.7 457.1,32.3 457.5,40.2 457.9,36.2 458.3,39.5 458.7,38.7 459.0,36.5 459.4,41.6 459.8,38.3 460.2,39.3 460.5,34.7 460.9,41.0 461.3,30.0 461.7,31.3 462.1,41.9 462.4,42.1 462.8,39.5 463.2,36.4 463.6,35.5 463.9,35.3 464.3,34.6 464.7,38.0 465.1,42.0 465.5,41.1 465.8,39.2 466.2,40.7 466.6,29.3 467.0,39.5 467.3,33.5 467.7,35.3 468.1,41.0 468.5,42.9 468.9,39.3 469.2,37.1 469.6,39.5 470.0,34.4 470.4,40.6 470.8,40.7 471.1,37.5 471.5,31.4 471.9,35.7 472.3,32.0 472.6,40.2 473.0,34.8 473.4,37.0 473.8,29.9 474.2,40.1 474.5,38.0 474.9,41.9 475.3,43.0 475.7,36.2 476.0,37.1 476.4,42.5 476.8,35.6 477.2,39.5 477.6,39.1 477.9,32.5 478.3,36.5 478.7,35.3 479.1,33.8 479.4,38.2 479.8,40.5 480.2,34.3 480.6,33.5 481.0,45.1 481.3,42.9 481.7,42.8 482.1,43.0 482.5,35.5 482.8,41.3 483.2,41.2 483.6,39.6 484.0,38.4 484.4,40.6 484.7,39.4 485.1,45.9 485.5,40.7 485.9,44.1 486.3,41.4 486.6,36.7 487.0,40.2 487.4,41.9 487.8,37.1 488.1,35.5 488.5,39.9 488.9,44.7 489.3,37.0 489.7,42.2 490.0,45.8 490.4,40.9 490.8,45.3 491.2,45.3 491.5,47.6 491.9,47.2 492.3,41.5 492.7,53.0 493.1,42.1 493.4,41.3 493.8,41.9 494.2,44.7 494.6,49.0 494.9,44.9 495.3,42.6 495.7,40.2 496.1,44.7 496.5,52.2 496.8,48.0 497.2,49.4 497.6,43.3 498.0,44.4 498.3,45.3 498.7,46.7 499.1,52.5 499.5,47.1 499.9,42.5 500.2,49.9 500.6,49.5 501.0,51.4 501.4,48.1 501.8,45.4 502.1,53.2 502.5,45.3 502.9,50.3 503.3,38.7 503.6,48.0 504.0,45.4 504.4,53.0 504.8,43.3 505.2,46.4 505.5,48.1 505.9,41.4 506.3,47.0 506.7,48.0 507.0,41.4 507.4,48.2 507.8,44.2 508.2,48.7 508.6,50.3 508.9,40.8 509.3,45.0 509.7,42.5 510.1,42.8 510.4,45.8 510.8,44.3 511.2,47.7 511.6,47.7 512.0,44.5 512.3,53.3 512.7,46.0 513.1,49.3 513.5,45.7 513.8,49.5 514.2,40.9 514.6,43.1 515.0,47.8 515.4,42.9 515.7,52.2 516.1,50.4 516.5,42.9 516.9,38.8 517.2,44.9 517.6,41.9 518.0,43.8 518.4,38.5 518.8,46.2 519.1,49.9 519.5,46.9 519.9,43.7 520.3,41.8 520.7,46.1 521.0,39.6 521.4,49.0 521.8,42.6 522.2,47.0 522.5,44.7 522.9,45.2 523.3,39.1 523.7,37.1 524.1,50.7 524.4,43.9 524.8,41.4 525.2,45.6 525.6,42.8 525.9,42.5 526.3,39.2 526.7,44.8 527.1,39.0 527.5,42.4 527.8,41.3 528.2,43.8 528.6,41.7 529.0,40.9 529.3,32.0 529.7,37.4 530.1,39.4 530.5,40.2 530.9,43.3 531.2,36.5 531.6,44.6 532.0,42.9 532.4,37.1 532.7,42.2 533.1,43.4 533.5,30.1 533.9,43.4 534.3,41.0 534.6,44.4 535.0,39.0 535.4,35.7 535.8,30.0 536.2,34.5 536.5,37.1 536.9,39.0 537.3,34.7 537.7,39.0 538.0,36.5 538.4,43.6 538.8,36.5 539.2,43.3 539.6,39.6 539.9,44.8 540.3,42.7 540.7,32.7 541.1,37.1 541.4,41.6 541.8,33.6 542.2,45.4 542.6,38.2 543.0,42.5 543.3,35.7 543.7,34.7 544.1,38.9 544.5,39.1 544.8,40.1 545.2,34.0 545.6,36.7 546.0,30.4 546.4,36.3 546.7,36.8 547.1,41.0 547.5,41.1 547.9,34.8 548.2,38.3 548.6,33.4 549.0,34.9 549.4,39.2 549.8,38.6 550.1,33.2 550.5,33.7 550.9,33.8 551.3,40.0 551.7,36.2 552.0,39.7 552.4,28.5 552.8,37.9 553.2,36.7 553.5,37.7 553.9,39.8 554.3,34.7 554.7,38.7 555.1,36.3 555.4,34.8 555.8,36.5 556.2,38.0 556.6,34.2 556.9,36.5 557.3,41.0 557.7,44.8 558.1,41.2 558.5,36.5 558.8,32.3 559.2,39.3 559.6,36.5 560.0,40.8 560.3,34.1 560.7,30.6 561.1,40.1 561.5,36.8 561.9,29.4 562.2,38.5 562.6,39.9 563.0,36.8 563.4,35.6 563.7,37.6 564.1,36.9 564.5,32.7 564.9,40.0 565.3,32.5 565.6,38.9 566.0,33.3 566.4,32.1 566.8,36.3 567.1,38.3 567.5,40.7 567.9,41.7 568.3,34.1 568.7,42.9 569.0,36.7 569.4,38.2 569.8,33.2 570.2,38.7 570.6,32.0 570.9,37.2 571.3,29.2 571.7,38.0 572.1,38.1 572.4,40.3 572.8,32.4 573.2,38.2 573.6,33.1 574.0,38.1 574.3,41.6 574.7,31.7 575.1,32.3 575.5,38.1 575.8,33.2 576.2,43.5 576.6,33.9 577.0,37.7 577.4,35.7 577.7,37.5 578.1,36.0 578.5,37.4 578.9,38.4 579.2,37.0 579.6,35.9 580.0,33.5 580.4,35.8 580.8,38.9 581.1,37.2 581.5,37.8 581.9,29.9 582.3,41.1 582.6,35.9 583.0,40.7 583.4,34.7 583.8,38.6 584.2,36.5 584.5,38.7 584.9,33.5 585.3,32.2 585.7,34.4 586.1,33.6 586.4,35.2 586.8,47.5 587.2,40.4 587.6,35.6 587.9,38.2 588.3,41.9 588.7,43.9 589.1,39.2 589.5,30.8 589.8,39.9 590.2,32.4 590.6,39.4 591.0,33.8 591.3,35.0 591.7,40.0 592.1,39.4 592.5,39.1 592.9,34.6 593.2,42.3 593.6,37.0 594.0,39.1 594.4,30.6 594.7,41.2 595.1,35.4 595.5,36.0 595.9,31.6 596.3,33.0 596.6,42.3 597.0,30.5 597.4,38.1 597.8,34.9 598.1,45.3 598.5,31.3 598.9,36.3 599.3,36.3 599.7,38.2 600.0,32.3 600.4,47.0 600.8,37.4 601.2,40.1 601.6,37.3 601.9,31.5 602.3,40.3 602.7,37.5 603.1,41.4 603.4,34.1 603.8,37.2 604.2,32.6 604.6,30.2 605.0,45.0 605.3,43.7 605.7,39.3 606.1,36.4 606.5,39.8 606.8,34.5 607.2,37.0 607.6,41.8 608.0,36.9 608.4,40.4 608.7,41.4 609.1,37.6 609.5,38.0 609.9,34.3 610.2,42.2 610.6,42.8 611.0,34.5 611.4,37.8 611.8,37.3 612.1,37.6 612.5,42.5 612.9,41.3 613.3,35.7 613.6,36.3 614.0,37.6 614.4,33.8 614.8,31.3 615.2,37.2 615.5,34.3 615.9,32.9 616.3,37.0 616.7,37.3 617.0,40.7 617.4,32.7 617.8,35.1 618.2,36.2 618.6,39.0 618.9,32.8 619.3,42.4 619.7,34.1 620.1,32.5 620.5,36.9 620.8,40.3 621.2,40.4 621.6,33.6 622.0,37.2 622.3,33.9 622.7,39.2 623.1,41.0 623.5,26.5 623.9,40.0 624.2,33.8 624.6,32.5 625.0,36.5 625.4,35.4 625.7,35.0 626.1,29.9 626.5,36.4" fill="none" stroke="#F0E442" stroke-width="1.35" stroke-linejoin="round" />
<polyline points="392.5,34.2 392.9,29.9 393.3,39.7 393.6,40.4 394.0,35.5 394.4,36.7 394.8,32.4 395.1,32.8 395.5,35.8 395.9,33.2 396.3,36.5 396.7,26.5 397.0,31.4 397.4,36.0 397.8,26.3 398.2,34.9 398.5,32.3 398.9,38.5 399.3,39.5 399.7,29.3 400.1,37.0 400.4,39.0 400.8,38.3 401.2,32.5 401.6,37.3 402.0,39.0 402.3,45.0 402.7,38.7 403.1,35.0 403.5,37.6 403.8,38.1 404.2,28.2 404.6,33.6 405.0,37.7 405.4,33.9 405.7,39.3 406.1,33.6 406.5,30.1 406.9,36.6 407.2,31.2 407.6,37.4 408.0,40.6 408.4,37.0 408.8,36.7 409.1,32.8 409.5,35.5 409.9,38.5 410.3,37.5 410.6,36.1 411.0,34.2 411.4,39.8 411.8,38.5 412.2,36.5 412.5,39.6 412.9,32.2 413.3,36.1 413.7,40.2 414.0,39.2 414.4,32.2 414.8,38.0 415.2,39.8 415.6,33.9 415.9,32.4 416.3,42.2 416.7,35.5 417.1,30.1 417.4,28.5 417.8,32.5 418.2,33.9 418.6,40.6 419.0,33.7 419.3,38.1 419.7,37.5 420.1,33.8 420.5,38.9 420.9,37.8 421.2,29.6 421.6,33.8 422.0,42.3 422.4,39.1 422.7,40.7 423.1,35.4 423.5,40.4 423.9,36.9 424.3,36.3 424.6,34.7 425.0,36.0 425.4,35.6 425.8,36.6 426.1,39.6 426.5,33.2 426.9,36.3 427.3,39.2 427.7,41.2 428.0,36.0 428.4,32.9 428.8,35.7 429.2,41.0 429.5,38.1 429.9,40.3 430.3,37.8 430.7,33.7 431.1,36.1 431.4,37.0 431.8,38.6 432.2,38.2 432.6,36.3 432.9,43.5 433.3,38.3 433.7,43.9 434.1,33.2 434.5,40.7 434.8,33.7 435.2,42.4 435.6,30.8 436.0,34.1 436.4,36.0 436.7,37.9 437.1,37.8 437.5,37.9 437.9,33.5 438.2,34.7 438.6,33.4 439.0,38.4 439.4,37.7 439.8,42.5 440.1,43.5 440.5,36.2 440.9,39.0 441.3,36.4 441.6,37.4 442.0,37.9 442.4,37.1 442.8,44.1 443.2,37.9 443.5,35.9 443.9,37.1 444.3,35.9 444.7,44.4 445.0,34.3 445.4,35.0 445.8,35.0 446.2,36.1 446.6,35.2 446.9,33.6 447.3,38.3 447.7,37.2 448.1,35.0 448.4,41.6 448.8,34.8 449.2,39.5 449.6,38.6 450.0,39.3 450.3,36.0 450.7,41.1 451.1,32.4 451.5,38.9 451.9,39.7 452.2,31.6 452.6,36.9 453.0,42.5 453.4,36.6 453.7,33.9 454.1,31.8 454.5,33.4 454.9,36.9 455.3,27.7 455.6,37.1 456.0,42.6 456.4,29.8 456.8,31.7 457.1,33.3 457.5,28.1 457.9,33.2 458.3,36.4 458.7,35.0 459.0,39.3 459.4,34.8 459.8,39.3 460.2,39.6 460.5,41.9 460.9,36.6 461.3,34.4 461.7,38.3 462.1,42.8 462.4,40.2 462.8,37.3 463.2,37.9 463.6,38.9 463.9,41.1 464.3,31.0 464.7,36.6 465.1,35.6 465.5,36.4 465.8,40.9 466.2,32.3 466.6,38.8 467.0,37.7 467.3,39.2 467.7,41.4 468.1,36.7 468.5,40.2 468.9,37.1 469.2,35.9 469.6,31.2 470.0,42.1 470.4,31.7 470.8,31.0 471.1,38.7 471.5,36.3 471.9,33.0 472.3,40.6 472.6,31.2 473.0,42.3 473.4,35.0 473.8,36.8 474.2,40.2 474.5,39.8 474.9,37.4 475.3,38.6 475.7,38.2 476.0,38.8 476.4,34.8 476.8,36.5 477.2,36.9 477.6,36.2 477.9,36.2 478.3,32.9 478.7,37.2 479.1,36.7 479.4,39.7 479.8,42.1 480.2,40.1 480.6,38.4 481.0,42.2 481.3,33.8 481.7,41.2 482.1,37.3 482.5,40.2 482.8,37.2 483.2,35.2 483.6,33.2 484.0,42.2 484.4,34.4 484.7,40.3 485.1,33.0 485.5,43.0 485.9,40.5 486.3,38.5 486.6,33.9 487.0,38.1 487.4,34.6 487.8,37.1 488.1,35.7 488.5,39.0 488.9,39.6 489.3,38.4 489.7,38.7 490.0,40.2 490.4,40.1 490.8,45.5 491.2,44.6 491.5,42.0 491.9,41.0 492.3,43.6 492.7,32.1 493.1,42.8 493.4,37.9 493.8,36.3 494.2,42.3 494.6,37.5 494.9,39.8 495.3,42.8 495.7,36.5 496.1,35.7 496.5,29.7 496.8,35.5 497.2,43.2 497.6,35.5 498.0,45.5 498.3,40.9 498.7,48.5 499.1,37.0 499.5,39.6 499.9,33.3 500.2,36.5 500.6,41.1 501.0,37.8 501.4,36.9 501.8,42.8 502.1,42.3 502.5,39.7 502.9,47.4 503.3,47.2 503.6,39.6 504.0,40.8 504.4,41.9 504.8,31.9 505.2,39.2 505.5,35.7 505.9,38.9 506.3,40.0 506.7,41.6 507.0,45.3 507.4,39.9 507.8,41.8 508.2,37.3 508.6,42.6 508.9,42.6 509.3,39.7 509.7,45.6 510.1,42.8 510.4,39.9 510.8,40.9 511.2,40.9 511.6,39.3 512.0,38.9 512.3,30.7 512.7,40.0 513.1,42.4 513.5,35.9 513.8,38.1 514.2,40.1 514.6,33.9 515.0,45.6 515.4,38.1 515.7,40.6 516.1,38.0 516.5,38.0 516.9,38.0 517.2,36.5 517.6,41.6 518.0,41.0 518.4,35.6 518.8,38.9 519.1,40.2 519.5,42.3 519.9,38.8 520.3,42.9 520.7,33.3 521.0,29.2 521.4,36.3 521.8,41.1 522.2,34.7 522.5,43.8 522.9,36.0 523.3,38.7 523.7,34.8 524.1,40.1 524.4,37.3 524.8,34.2 525.2,38.7 525.6,32.8 525.9,39.0 526.3,38.2 526.7,32.3 527.1,38.9 527.5,37.6 527.8,40.0 528.2,40.6 528.6,32.9 529.0,36.3 529.3,41.3 529.7,39.3 530.1,37.4 530.5,34.1 530.9,35.1 531.2,35.7 531.6,41.4 532.0,30.0 532.4,39.1 532.7,36.9 533.1,38.4 533.5,32.8 533.9,36.3 534.3,34.9 534.6,37.5 535.0,38.3 535.4,36.4 535.8,35.1 536.2,34.2 536.5,34.3 536.9,33.9 537.3,44.2 537.7,36.5 538.0,35.3 538.4,33.5 538.8,38.9 539.2,41.5 539.6,42.4 539.9,40.0 540.3,42.4 540.7,37.3 541.1,33.3 541.4,40.6 541.8,39.5 542.2,39.1 542.6,40.8 543.0,32.9 543.3,40.6 543.7,33.8 544.1,38.2 544.5,41.8 544.8,38.3 545.2,38.5 545.6,42.0 546.0,39.8 546.4,34.4 546.7,37.0 547.1,46.9 547.5,34.2 547.9,35.1 548.2,35.6 548.6,26.5 549.0,43.5 549.4,36.2 549.8,34.1 550.1,43.9 550.5,34.2 550.9,37.9 551.3,41.0 551.7,31.2 552.0,34.4 552.4,40.6 552.8,36.9 553.2,41.7 553.5,28.0 553.9,41.5 554.3,36.0 554.7,38.0 555.1,31.3 555.4,35.5 555.8,35.3 556.2,33.7 556.6,36.9 556.9,33.3 557.3,30.1 557.7,29.0 558.1,44.7 558.5,35.9 558.8,33.2 559.2,35.1 559.6,31.5 560.0,36.4 560.3,32.7 560.7,40.4 561.1,40.6 561.5,42.4 561.9,34.1 562.2,34.6 562.6,31.0 563.0,35.5 563.4,34.5 563.7,38.6 564.1,31.4 564.5,35.2 564.9,35.6 565.3,29.8 565.6,40.9 566.0,35.1 566.4,36.1 566.8,34.7 567.1,34.9 567.5,33.6 567.9,41.8 568.3,36.4 568.7,39.6 569.0,36.4 569.4,41.6 569.8,34.4 570.2,35.1 570.6,30.8 570.9,42.8 571.3,40.8 571.7,37.4 572.1,37.2 572.4,43.3 572.8,40.9 573.2,38.7 573.6,34.7 574.0,35.3 574.3,37.0 574.7,30.7 575.1,32.0 575.5,34.3 575.8,35.7 576.2,33.6 576.6,35.9 577.0,30.1 577.4,41.1 577.7,37.3 578.1,36.9 578.5,35.5 578.9,39.0 579.2,42.9 579.6,37.3 580.0,31.1 580.4,38.3 580.8,34.4 581.1,34.0 581.5,35.8 581.9,38.0 582.3,36.8 582.6,31.0 583.0,34.9 583.4,35.6 583.8,37.2 584.2,35.9 584.5,31.6 584.9,31.9 585.3,35.3 585.7,35.3 586.1,31.3 586.4,31.0 586.8,34.2 587.2,39.0 587.6,44.7 587.9,40.9 588.3,37.0 588.7,35.2 589.1,37.4 589.5,38.9 589.8,32.7 590.2,36.9 590.6,39.2 591.0,40.4 591.3,34.0 591.7,38.2 592.1,34.9 592.5,35.4 592.9,35.8 593.2,36.4 593.6,34.9 594.0,40.7 594.4,34.7 594.7,38.0 595.1,38.4 595.5,36.6 595.9,37.8 596.3,36.1 596.6,38.6 597.0,28.8 597.4,42.0 597.8,36.1 598.1,38.7 598.5,41.4 598.9,35.6 599.3,31.7 599.7,38.5 600.0,31.8 600.4,41.8 600.8,36.3 601.2,40.2 601.6,41.6 601.9,39.6 602.3,39.8 602.7,35.7 603.1,30.9 603.4,33.8 603.8,30.9 604.2,37.3 604.6,38.9 605.0,31.4 605.3,31.3 605.7,39.4 606.1,36.9 606.5,34.0 606.8,36.4 607.2,40.4 607.6,34.8 608.0,42.6 608.4,27.9 608.7,34.7 609.1,40.4 609.5,32.6 609.9,31.5 610.2,31.8 610.6,35.7 611.0,41.0 611.4,39.5 611.8,29.9 612.1,37.4 612.5,39.4 612.9,38.0 613.3,42.4 613.6,38.2 614.0,35.7 614.4,38.8 614.8,30.3 615.2,40.0 615.5,32.3 615.9,34.8 616.3,30.6 616.7,35.2 617.0,43.3 617.4,41.0 617.8,35.9 618.2,39.7 618.6,32.2 618.9,42.5 619.3,33.8 619.7,37.9 620.1,34.9 620.5,33.4 620.8,43.8 621.2,38.8 621.6,35.0 622.0,36.2 622.3,41.5 622.7,38.5 623.1,37.0 623.5,38.1 623.9,34.5 624.2,30.8 624.6,34.6 625.0,41.2 625.4,40.1 625.7,34.1 626.1,33.0 626.5,39.1" fill="none" stroke="#56B4E9" stroke-width="1.35" stroke-linejoin="round" />
<line x1="626.20" y1="14.80" x2="626.20" y2="247.30" stroke="#404040" stroke-width="1.4" />
<line x1="392.50" y1="246.60" x2="626.90" y2="246.60" stroke="#404040" stroke-width="1.4" />
<line x1="392.50" y1="246.60" x2="392.50" y2="243.60" stroke="#404040" stroke-width="1.2" />
<text transform="translate(395.40,264.80) scale(1.1,1)" font-size="10" font-weight="bold" text-anchor="middle" fill="#262626" stroke="#262626" stroke-width="0.25" >2.63</text>
<line x1="431.45" y1="246.60" x2="431.45" y2="243.60" stroke="#404040" stroke-width="1.2" />
<text transform="translate(434.35,264.80) scale(1.1,1)" font-size="10" font-weight="bold" text-anchor="middle" fill="#262626" stroke="#262626" stroke-width="0.25" >2.64</text>
<line x1="470.40" y1="246.60" x2="470.40" y2="243.60" stroke="#404040" stroke-width="1.2" />
<text transform="translate(473.30,264.80) scale(1.1,1)" font-size="10" font-weight="bold" text-anchor="middle" fill="#262626" stroke="#262626" stroke-width="0.25" >2.65</text>
<line x1="509.35" y1="246.60" x2="509.35" y2="243.60" stroke="#404040" stroke-width="1.2" />
<text transform="translate(512.25,264.80) scale(1.1,1)" font-size="10" font-weight="bold" text-anchor="middle" fill="#262626" stroke="#262626" stroke-width="0.25" >2.66</text>
<line x1="548.30" y1="246.60" x2="548.30" y2="243.60" stroke="#404040" stroke-width="1.2" />
<text transform="translate(551.20,264.80) scale(1.1,1)" font-size="10" font-weight="bold" text-anchor="middle" fill="#262626" stroke="#262626" stroke-width="0.25" >2.67</text>
<line x1="587.25" y1="246.60" x2="587.25" y2="243.60" stroke="#404040" stroke-width="1.2" />
<text transform="translate(590.15,264.80) scale(1.1,1)" font-size="10" font-weight="bold" text-anchor="middle" fill="#262626" stroke="#262626" stroke-width="0.25" >2.68</text>
<line x1="626.20" y1="246.60" x2="626.20" y2="243.60" stroke="#404040" stroke-width="1.2" />
<text transform="translate(629.10,264.80) scale(1.1,1)" font-size="10" font-weight="bold" text-anchor="middle" fill="#262626" stroke="#262626" stroke-width="0.25" >2.69</text>
<line x1="626.20" y1="36.45" x2="623.20" y2="36.45" stroke="#404040" stroke-width="1.2" />
<text transform="translate(653.00,40.75) scale(1.1,1)" font-size="10" font-weight="bold" text-anchor="middle" fill="#262626" stroke="#262626" stroke-width="0.25" >1</text>
<line x1="626.20" y1="78.90" x2="623.20" y2="78.90" stroke="#404040" stroke-width="1.2" />
<text transform="translate(647.00,83.20) scale(1.1,1)" font-size="10" font-weight="bold" text-anchor="middle" fill="#262626" stroke="#262626" stroke-width="0.25" >0.99</text>
<line x1="626.20" y1="121.35" x2="623.20" y2="121.35" stroke="#404040" stroke-width="1.2" />
<text transform="translate(647.00,125.65) scale(1.1,1)" font-size="10" font-weight="bold" text-anchor="middle" fill="#262626" stroke="#262626" stroke-width="0.25" >0.98</text>
<line x1="626.20" y1="163.80" x2="623.20" y2="163.80" stroke="#404040" stroke-width="1.2" />
<text transform="translate(647.00,168.10) scale(1.1,1)" font-size="10" font-weight="bold" text-anchor="middle" fill="#262626" stroke="#262626" stroke-width="0.25" >0.97</text>
<line x1="626.20" y1="206.25" x2="623.20" y2="206.25" stroke="#404040" stroke-width="1.2" />
<text transform="translate(647.00,210.55) scale(1.1,1)" font-size="10" font-weight="bold" text-anchor="middle" fill="#262626" stroke="#262626" stroke-width="0.25" >0.96</text>
<text transform="translate(647.00,250.50) scale(1.1,1)" font-size="10" font-weight="bold" text-anchor="middle" fill="#262626" stroke="#262626" stroke-width="0.25" >0.95</text>
<text transform="translate(682.60,118.00) rotate(-90) scale(1.05,1)" font-size="12.2" font-weight="bold" text-anchor="middle" fill="#262626" stroke="#262626" stroke-width="0.25" >Contrast (a.u)</text>
<text transform="translate(521.20,290.80) scale(1.06,1)" font-size="12.2" font-weight="bold" text-anchor="middle" fill="#262626" stroke="#262626" stroke-width="0.25" >Frequency (GHz)</text>
<text transform="translate(388.30,10.60) scale(1.06,1)" font-size="13.6" font-weight="bold" text-anchor="start" fill="#000" stroke="#000" stroke-width="0.25" >b</text>
<rect x="557.5" y="130.15" width="10.9" height="10.7" fill="#0072B2"/>
<text font-size="10" fill="#262626" y="140.05" xml:space="preserve"><tspan x="584.4" text-anchor="end">25</tspan><tspan x="586.62" text-anchor="start"> dBm</tspan></text>
<rect x="557.5" y="145.00" width="10.9" height="10.7" fill="#D55E00"/>
<text font-size="10" fill="#262626" y="154.90" xml:space="preserve"><tspan x="584.4" text-anchor="end">20</tspan><tspan x="586.62" text-anchor="start"> dBm</tspan></text>
<rect x="557.5" y="159.85" width="10.9" height="10.7" fill="#E69F00"/>
<text font-size="10" fill="#262626" y="169.75" xml:space="preserve"><tspan x="584.4" text-anchor="end">15</tspan><tspan x="586.62" text-anchor="start"> dBm</tspan></text>
<rect x="557.5" y="174.70" width="10.9" height="10.7" fill="#CC79A7"/>
<text font-size="10" fill="#262626" y="184.60" xml:space="preserve"><tspan x="584.4" text-anchor="end">10</tspan><tspan x="586.62" text-anchor="start"> dBm</tspan></text>
<rect x="557.5" y="189.55" width="10.9" height="10.7" fill="#009E73"/>
<text font-size="10" fill="#262626" y="199.45" xml:space="preserve"><tspan x="578.3" text-anchor="middle">5</tspan><tspan x="586.62" text-anchor="start"> dBm</tspan></text>
<rect x="557.5" y="204.40" width="10.9" height="10.7" fill="#F0E442"/>
<text font-size="10" fill="#262626" y="214.30" xml:space="preserve"><tspan x="578.3" text-anchor="middle">0</tspan><tspan x="586.62" text-anchor="start"> dBm</tspan></text>
<rect x="557.5" y="219.25" width="10.9" height="10.7" fill="#56B4E9"/>
<text font-size="10" fill="#262626" y="229.15" xml:space="preserve"><tspan x="576.8" text-anchor="middle">-5</tspan><tspan x="586.62" text-anchor="start"> dBm</tspan></text>
<circle cx="300.9" cy="95.4" r="6.3" fill="#E8A070"/>
<circle cx="300.9" cy="141.8" r="6.3" fill="#8FA5E2"/>
<circle cx="382.1" cy="141.8" r="6.3" fill="#8FA5E2"/>
<circle cx="382.1" cy="172.9" r="6.3" fill="#E8A070"/>
<line x1="300.90" y1="95.40" x2="404.40" y2="95.40" stroke="#1c1c1c" stroke-width="1.15" stroke-dasharray="4 3.6"/>
<line x1="287.50" y1="141.80" x2="382.10" y2="141.80" stroke="#1c1c1c" stroke-width="1.15" stroke-dasharray="4 3.6"/>
<line x1="382.10" y1="172.90" x2="404.40" y2="172.90" stroke="#1c1c1c" stroke-width="1.15" stroke-dasharray="4 3.6"/>
<line x1="300.90" y1="95.40" x2="300.90" y2="141.80" stroke="#1c1c1c" stroke-width="1.15" stroke-dasharray="4 3.6"/>
<line x1="382.10" y1="141.80" x2="382.10" y2="172.90" stroke="#1c1c1c" stroke-width="1.15" stroke-dasharray="4 3.6"/>
<clipPath id="ci"><rect x="287.5" y="85.4" width="116.89999999999998" height="118.69999999999999"/></clipPath>
<polyline points="287.5,92.8 288.1,95.2 288.7,97.6 289.3,99.9 289.8,102.3 290.4,104.6 291.0,106.9 291.6,109.2 292.2,111.4 292.8,113.6 293.4,115.8 294.0,118.0 294.5,120.2 295.1,122.3 295.7,124.4 296.3,126.5 296.9,128.5 297.5,130.6 298.1,132.6 298.7,134.5 299.2,136.5 299.8,138.4 300.4,140.4 301.0,142.3 301.6,144.1 302.2,145.9 302.8,147.7 303.4,149.5 303.9,151.2 304.5,152.9 305.1,154.6 305.7,156.3 306.3,157.9 306.9,159.6 307.5,161.2 308.1,162.9 308.6,164.5 309.2,166.1 309.8,167.7 310.4,169.4 311.0,171.0 311.6,172.6 312.2,174.3 312.8,175.9 313.3,177.6 313.9,179.2 314.5,180.9 315.1,182.5 315.7,184.2 316.3,185.9 316.9,187.5 317.5,189.1 318.0,190.8 318.6,192.4 319.2,194.0 319.8,195.5 320.4,197.1 321.0,198.6 321.0,198.6 321.1,198.9 321.2,199.2 321.3,199.5 321.5,199.8 321.6,200.1 321.6,200.1 321.7,200.4 321.8,200.7 321.9,201.0 322.0,201.3 322.2,201.5 322.2,201.6 322.3,201.8 322.4,202.1 322.5,202.4 322.6,202.7 322.7,203.0 322.7,203.0 322.8,203.2 323.0,203.5 323.1,203.8 323.2,204.1 323.2,204.1 323.3,203.8 323.3,203.8 323.4,203.6 323.5,203.3 323.7,203.0 323.8,202.7 323.9,202.5 323.9,202.4 324.0,202.2 324.1,201.9 324.2,201.6 324.3,201.4 324.5,201.1 324.5,201.0 324.6,200.8 324.7,200.6 324.8,200.3 324.9,200.0 325.0,199.8 325.1,199.6 325.2,199.5 325.3,199.2 325.4,199.0 325.5,198.7 325.7,198.3 326.3,197.0 326.9,195.6 327.4,194.4 328.0,193.1 328.6,191.8 329.2,190.6 329.8,189.4 330.4,188.2 331.0,187.0 331.6,185.9 332.1,184.8 332.7,183.7 333.3,182.6 333.9,181.5 334.5,180.5 335.1,179.5 335.7,178.5 336.3,177.5 336.8,176.6 337.4,175.6 338.0,174.7 338.6,173.8 339.2,173.0 339.8,172.1 340.4,171.3 341.0,170.4 341.5,169.6 342.1,168.8 342.7,168.1 343.3,167.3 343.9,166.6 344.5,165.9 345.1,165.2 345.7,164.5 346.2,163.8 346.8,163.1 347.4,162.5 348.0,161.8 348.6,161.2 349.2,160.6 349.8,160.0 350.4,159.4 350.9,158.9 351.5,158.3 352.1,157.8 352.7,157.3 353.3,156.7 353.9,156.2 354.5,155.7 355.1,155.3 355.6,154.8 356.2,154.3 356.8,153.9 357.4,153.4 358.0,153.0 358.6,152.6 359.2,152.2 359.8,151.8 360.3,151.4 360.9,151.0 361.5,150.6 362.1,150.3 362.7,149.9 363.3,149.6 363.9,149.2 364.5,148.9 365.0,148.6 365.6,148.3 366.2,148.0 366.8,147.7 367.4,147.4 368.0,147.1 368.6,146.8 369.2,146.5 369.7,146.2 370.3,146.0 370.9,145.7 371.5,145.5 372.1,145.2 372.7,145.0 373.3,144.8 373.9,144.5 374.4,144.3 375.0,144.1 375.6,143.9 376.2,143.7 376.8,143.5 377.4,143.3 378.0,143.1 378.6,142.9 379.1,142.7 379.7,142.6 380.3,142.4 380.9,142.2 381.5,142.1 382.1,141.9 382.7,141.8 383.3,141.6 383.8,141.5 384.4,141.3 385.0,141.2 385.6,141.0 386.2,140.9 386.8,140.8 387.4,140.6 388.0,140.5 388.5,140.4 389.1,140.3 389.7,140.2 390.3,140.1 390.9,140.0 391.5,139.8 392.1,139.7 392.7,139.6 393.2,139.5 393.8,139.5 394.4,139.4 395.0,139.3 395.6,139.2 396.2,139.1 396.8,139.0 397.4,138.9 397.9,138.9 398.5,138.8 399.1,138.7 399.7,138.6 400.3,138.6 400.9,138.5 401.5,138.4 402.1,138.4 402.6,138.3 403.2,138.2 403.8,138.2 404.4,138.1" fill="none" stroke="#1446BE" stroke-width="1.85" stroke-linejoin="round" clip-path="url(#ci)"/>
<polyline points="287.5,86.4 288.5,86.9 289.5,87.5 290.4,88.1 291.4,88.6 292.4,89.2 293.4,89.8 294.4,90.4 295.4,91.0 296.3,91.6 297.3,92.2 298.3,92.8 299.3,93.5 300.3,94.1 301.3,94.7 302.2,95.4 303.2,96.1 304.2,96.7 305.2,97.4 306.2,98.1 307.1,98.8 308.1,99.5 309.1,100.2 310.1,100.9 311.1,101.6 312.1,102.3 313.0,103.1 314.0,103.8 315.0,104.6 316.0,105.3 317.0,106.1 318.0,106.9 318.9,107.6 319.9,108.4 320.9,109.2 321.9,110.0 322.9,110.8 323.8,111.6 324.8,112.5 325.8,113.3 326.8,114.1 327.8,115.0 328.8,115.8 329.7,116.7 330.7,117.6 331.7,118.5 332.7,119.3 333.7,120.2 334.7,121.1 335.6,122.0 336.6,123.0 337.6,123.9 338.6,124.8 339.6,125.7 340.5,126.7 341.5,127.6 342.5,128.6 343.5,129.6 344.5,130.5 345.5,131.5 346.4,132.5 347.4,133.5 348.4,134.5 349.4,135.5 350.4,136.5 351.4,137.6 352.3,138.6 353.3,139.6 354.3,140.7 355.3,141.7 356.3,142.8 357.2,143.9 358.2,145.0 359.2,146.0 360.2,147.1 361.2,148.2 362.2,149.3 363.1,150.5 364.1,151.6 365.1,152.7 366.1,153.9 367.1,155.0 368.1,156.2 369.0,157.3 370.0,158.5 371.0,159.7 372.0,160.8 373.0,162.0 373.9,163.2 374.9,164.4 375.9,165.7 376.9,166.9 377.9,168.1 378.9,169.3 379.8,170.6 380.8,171.8 381.8,173.1 382.8,174.4 383.8,175.6 384.8,176.9 385.7,178.2 386.7,179.5 387.7,180.8 388.7,182.1 389.7,183.4 390.6,184.8 391.6,186.1 392.6,187.4 393.6,188.8 394.6,190.1 395.6,191.5 396.5,192.9 397.5,194.2 398.5,195.6 399.5,197.0 400.5,198.4 401.5,199.8 402.4,201.2 403.4,202.7 404.4,204.1" fill="none" stroke="#D55E00" stroke-width="1.85" stroke-linejoin="round" clip-path="url(#ci)"/>
<rect x="287.5" y="85.4" width="116.89999999999998" height="118.69999999999999" fill="none" stroke="#000" stroke-width="1.3"/>
<text transform="translate(283.00,88.80) scale(1.1,1)" font-size="9.8" font-weight="bold" text-anchor="end" fill="#000" stroke="#000" stroke-width="0.25" >5</text>
<line x1="287.50" y1="109.14" x2="290.00" y2="109.14" stroke="#000" stroke-width="1" />
<text transform="translate(283.00,112.54) scale(1.1,1)" font-size="9.8" font-weight="bold" text-anchor="end" fill="#000" stroke="#000" stroke-width="0.25" >4</text>
<line x1="287.50" y1="132.88" x2="290.00" y2="132.88" stroke="#000" stroke-width="1" />
<text transform="translate(283.00,135.28) scale(1.1,1)" font-size="9.8" font-weight="bold" text-anchor="end" fill="#000" stroke="#000" stroke-width="0.25" >3</text>
<line x1="287.50" y1="140.95" x2="290.00" y2="140.95" stroke="#000" stroke-width="1" />
<text transform="translate(279.60,145.35) scale(1.1,1)" font-size="9.8" font-weight="bold" text-anchor="end" fill="#000" stroke="#000" stroke-width="0.25" >2.66</text>
<line x1="287.50" y1="156.62" x2="290.00" y2="156.62" stroke="#000" stroke-width="1" />
<text transform="translate(283.00,160.02) scale(1.1,1)" font-size="9.8" font-weight="bold" text-anchor="end" fill="#000" stroke="#000" stroke-width="0.25" >2</text>
<line x1="287.50" y1="180.36" x2="290.00" y2="180.36" stroke="#000" stroke-width="1" />
<text transform="translate(283.00,183.76) scale(1.1,1)" font-size="9.8" font-weight="bold" text-anchor="end" fill="#000" stroke="#000" stroke-width="0.25" >1</text>
<text transform="translate(283.00,207.50) scale(1.1,1)" font-size="9.8" font-weight="bold" text-anchor="end" fill="#000" stroke="#000" stroke-width="0.25" >0</text>
<text transform="translate(311.00,215.30) scale(1.1,1)" font-size="9.8" font-weight="bold" text-anchor="middle" fill="#000" stroke="#000" stroke-width="0.25" >5</text>
<text transform="translate(348.80,215.30) scale(1.1,1)" font-size="9.8" font-weight="bold" text-anchor="middle" fill="#000" stroke="#000" stroke-width="0.25" >10</text>
<text transform="translate(391.10,215.30) scale(1.1,1)" font-size="9.8" font-weight="bold" text-anchor="middle" fill="#000" stroke="#000" stroke-width="0.25" >12</text>
<line x1="300.90" y1="204.10" x2="300.90" y2="201.60" stroke="#000" stroke-width="1" />
<line x1="322.40" y1="204.10" x2="322.40" y2="201.60" stroke="#000" stroke-width="1" />
<line x1="342.00" y1="204.10" x2="342.00" y2="201.60" stroke="#000" stroke-width="1" />
<line x1="362.00" y1="204.10" x2="362.00" y2="201.60" stroke="#000" stroke-width="1" />
<line x1="382.10" y1="204.10" x2="382.10" y2="201.60" stroke="#000" stroke-width="1" />
<text transform="translate(409.00,93.50) scale(1.1,1)" font-size="8.6" font-weight="bold" text-anchor="start" fill="#000" stroke="#000" stroke-width="0.25" >1.3</text>
<text transform="translate(409.00,106.50) scale(1.1,1)" font-size="8.6" font-weight="bold" text-anchor="start" fill="#000" stroke="#000" stroke-width="0.25" >1</text>
<text transform="translate(409.00,175.20) scale(1.1,1)" font-size="8.6" font-weight="bold" text-anchor="start" fill="#000" stroke="#000" stroke-width="0.25" >0.018</text>
<text transform="translate(409.00,185.80) scale(1.1,1)" font-size="8.6" font-weight="bold" text-anchor="start" fill="#000" stroke="#000" stroke-width="0.25" >0.01</text>
<line x1="404.40" y1="204.10" x2="401.40" y2="204.10" stroke="#000" stroke-width="0.8" />
<line x1="404.40" y1="189.05" x2="402.60" y2="189.05" stroke="#000" stroke-width="0.8" />
<line x1="404.40" y1="180.24" x2="402.60" y2="180.24" stroke="#000" stroke-width="0.8" />
<line x1="404.40" y1="174.00" x2="402.60" y2="174.00" stroke="#000" stroke-width="0.8" />
<line x1="404.40" y1="169.15" x2="402.60" y2="169.15" stroke="#000" stroke-width="0.8" />
<line x1="404.40" y1="165.19" x2="402.60" y2="165.19" stroke="#000" stroke-width="0.8" />
<line x1="404.40" y1="161.85" x2="402.60" y2="161.85" stroke="#000" stroke-width="0.8" />
<line x1="404.40" y1="158.95" x2="402.60" y2="158.95" stroke="#000" stroke-width="0.8" />
<line x1="404.40" y1="156.39" x2="402.60" y2="156.39" stroke="#000" stroke-width="0.8" />
<line x1="404.40" y1="154.10" x2="401.40" y2="154.10" stroke="#000" stroke-width="0.8" />
<line x1="404.40" y1="139.05" x2="402.60" y2="139.05" stroke="#000" stroke-width="0.8" />
<line x1="404.40" y1="130.24" x2="402.60" y2="130.24" stroke="#000" stroke-width="0.8" />
<line x1="404.40" y1="124.00" x2="402.60" y2="124.00" stroke="#000" stroke-width="0.8" />
<line x1="404.40" y1="119.15" x2="402.60" y2="119.15" stroke="#000" stroke-width="0.8" />
<line x1="404.40" y1="115.19" x2="402.60" y2="115.19" stroke="#000" stroke-width="0.8" />
<line x1="404.40" y1="111.85" x2="402.60" y2="111.85" stroke="#000" stroke-width="0.8" />
<line x1="404.40" y1="108.95" x2="402.60" y2="108.95" stroke="#000" stroke-width="0.8" />
<line x1="404.40" y1="106.39" x2="402.60" y2="106.39" stroke="#000" stroke-width="0.8" />
<line x1="404.40" y1="104.10" x2="401.40" y2="104.10" stroke="#000" stroke-width="0.8" />
<line x1="404.40" y1="89.05" x2="402.60" y2="89.05" stroke="#000" stroke-width="0.8" />
<text transform="translate(247.00,138.60) rotate(-90) scale(1.1,1)" font-size="10.5" font-weight="bold" text-anchor="middle" fill="#000" stroke="#000" stroke-width="0.25" >v (GHz)</text>
<text transform="translate(458.00,140.80) rotate(-90) scale(1.1,1)" font-size="10.8" font-weight="bold" text-anchor="middle" fill="#000" stroke="#000" stroke-width="0.25" >Δv [MHz/pixel]</text>
<text transform="translate(346.00,232.00) scale(1.1,1)" font-size="10.5" font-weight="bold" text-anchor="middle" fill="#000" stroke="#000" stroke-width="0.25" >d (mm)</text>
<line x1="369.00" y1="107.80" x2="377.00" y2="107.80" stroke="#1446BE" stroke-width="2.4" />
<line x1="369.00" y1="118.40" x2="377.00" y2="118.40" stroke="#D55E00" stroke-width="2.4" />
<text transform="translate(379.50,111.60) scale(1.0,1)" font-size="12" font-weight="normal" text-anchor="start" fill="#333" >v<tspan font-size="7" dy="1.5">-</tspan></text>
<text transform="translate(379.50,122.60) scale(1.0,1)" font-size="12" font-weight="normal" text-anchor="start" fill="#333" >Δv</text>
<text transform="translate(302.60,125.00) scale(1.0,1)" font-size="12" font-weight="normal" text-anchor="start" fill="#444" >(b)</text>
<text transform="translate(383.70,161.80) scale(1.0,1)" font-size="12" font-weight="normal" text-anchor="start" fill="#444" >(a)</text>
<clipPath id="cc"><rect x="39.6" y="350.4" width="138.6" height="140.0"/></clipPath>
<line x1="39.60" y1="410.82" x2="177.20" y2="352.17" stroke="#DC6C1E" stroke-width="1.15" clip-path="url(#cc)"/>
<line x1="39.60" y1="482.88" x2="163.44" y2="418.10" stroke="#DC6C1E" stroke-width="1.15" />
<line x1="46.48" y1="454.13" x2="46.48" y2="380.53" stroke="#1FC08E" stroke-width="1.5" clip-path="url(#cc)"/>
<line x1="43.88" y1="454.13" x2="49.08" y2="454.13" stroke="#1FC08E" stroke-width="1.3" />
<line x1="43.88" y1="380.53" x2="49.08" y2="380.53" stroke="#1FC08E" stroke-width="1.3" />
<circle cx="46.5" cy="417.3" r="2.3" fill="#1FC08E"/>
<line x1="51.98" y1="423.47" x2="51.98" y2="382.07" stroke="#1FC08E" stroke-width="1.5" clip-path="url(#cc)"/>
<line x1="49.38" y1="423.47" x2="54.58" y2="423.47" stroke="#1FC08E" stroke-width="1.3" />
<line x1="49.38" y1="382.07" x2="54.58" y2="382.07" stroke="#1FC08E" stroke-width="1.3" />
<circle cx="52.0" cy="402.8" r="2.3" fill="#1FC08E"/>
<line x1="60.93" y1="413.50" x2="60.93" y2="390.50" stroke="#1FC08E" stroke-width="1.5" clip-path="url(#cc)"/>
<line x1="58.33" y1="413.50" x2="63.53" y2="413.50" stroke="#1FC08E" stroke-width="1.3" />
<line x1="58.33" y1="390.50" x2="63.53" y2="390.50" stroke="#1FC08E" stroke-width="1.3" />
<circle cx="60.9" cy="402.0" r="2.3" fill="#1FC08E"/>
<line x1="78.13" y1="402.77" x2="78.13" y2="387.43" stroke="#1FC08E" stroke-width="1.5" clip-path="url(#cc)"/>
<line x1="75.53" y1="402.77" x2="80.73" y2="402.77" stroke="#1FC08E" stroke-width="1.3" />
<line x1="75.53" y1="387.43" x2="80.73" y2="387.43" stroke="#1FC08E" stroke-width="1.3" />
<circle cx="78.1" cy="395.1" r="2.3" fill="#1FC08E"/>
<line x1="108.40" y1="388.97" x2="108.40" y2="375.17" stroke="#1FC08E" stroke-width="1.5" clip-path="url(#cc)"/>
<line x1="105.80" y1="388.97" x2="111.00" y2="388.97" stroke="#1FC08E" stroke-width="1.3" />
<line x1="105.80" y1="375.17" x2="111.00" y2="375.17" stroke="#1FC08E" stroke-width="1.3" />
<circle cx="108.4" cy="382.1" r="2.3" fill="#1FC08E"/>
<line x1="161.38" y1="365.20" x2="161.38" y2="352.17" stroke="#1FC08E" stroke-width="1.5" clip-path="url(#cc)"/>
<line x1="158.78" y1="365.20" x2="163.98" y2="365.20" stroke="#1FC08E" stroke-width="1.3" />
<line x1="158.78" y1="352.17" x2="163.98" y2="352.17" stroke="#1FC08E" stroke-width="1.3" />
<circle cx="161.4" cy="359.1" r="2.3" fill="#1FC08E"/>
<ellipse cx="43.0" cy="481.7" rx="2.7" ry="2.1" fill="#1446BE"/>
<ellipse cx="45.8" cy="480.6" rx="2.7" ry="2.1" fill="#1446BE"/>
<ellipse cx="51.3" cy="477.9" rx="2.7" ry="2.1" fill="#1446BE"/>
<ellipse cx="60.9" cy="471.8" rx="2.7" ry="2.1" fill="#1446BE"/>
<ellipse cx="78.1" cy="459.1" rx="2.7" ry="2.1" fill="#1446BE"/>
<ellipse cx="108.4" cy="441.9" rx="2.7" ry="2.1" fill="#1446BE"/>
<ellipse cx="161.4" cy="423.1" rx="2.7" ry="2.1" fill="#1446BE"/>
<rect x="39.6" y="351.4" width="137.6" height="138.0" fill="none" stroke="#000" stroke-width="1.1"/>
<text transform="translate(35.00,493.60) scale(1.06,1)" font-size="10" font-weight="bold" text-anchor="end" fill="#262626" stroke="#262626" stroke-width="0.25" >0</text>
<line x1="39.60" y1="474.07" x2="42.10" y2="474.07" stroke="#000" stroke-width="1" />
<text transform="translate(35.00,478.27) scale(1.06,1)" font-size="10" font-weight="bold" text-anchor="end" fill="#262626" stroke="#262626" stroke-width="0.25" >2</text>
<line x1="39.60" y1="458.73" x2="42.10" y2="458.73" stroke="#000" stroke-width="1" />
<text transform="translate(35.00,462.93) scale(1.06,1)" font-size="10" font-weight="bold" text-anchor="end" fill="#262626" stroke="#262626" stroke-width="0.25" >4</text>
<line x1="39.60" y1="443.40" x2="42.10" y2="443.40" stroke="#000" stroke-width="1" />
<text transform="translate(35.00,447.60) scale(1.06,1)" font-size="10" font-weight="bold" text-anchor="end" fill="#262626" stroke="#262626" stroke-width="0.25" >6</text>
<line x1="39.60" y1="428.07" x2="42.10" y2="428.07" stroke="#000" stroke-width="1" />
<text transform="translate(35.00,432.27) scale(1.06,1)" font-size="10" font-weight="bold" text-anchor="end" fill="#262626" stroke="#262626" stroke-width="0.25" >8</text>
<line x1="39.60" y1="412.73" x2="42.10" y2="412.73" stroke="#000" stroke-width="1" />
<text transform="translate(35.00,416.93) scale(1.06,1)" font-size="10" font-weight="bold" text-anchor="end" fill="#262626" stroke="#262626" stroke-width="0.25" >10</text>
<line x1="39.60" y1="397.40" x2="42.10" y2="397.40" stroke="#000" stroke-width="1" />
<text transform="translate(35.00,401.60) scale(1.06,1)" font-size="10" font-weight="bold" text-anchor="end" fill="#262626" stroke="#262626" stroke-width="0.25" >12</text>
<line x1="39.60" y1="382.07" x2="42.10" y2="382.07" stroke="#000" stroke-width="1" />
<text transform="translate(35.00,386.27) scale(1.06,1)" font-size="10" font-weight="bold" text-anchor="end" fill="#262626" stroke="#262626" stroke-width="0.25" >14</text>
<line x1="39.60" y1="366.73" x2="42.10" y2="366.73" stroke="#000" stroke-width="1" />
<text transform="translate(35.00,370.93) scale(1.06,1)" font-size="10" font-weight="bold" text-anchor="end" fill="#262626" stroke="#262626" stroke-width="0.25" >16</text>
<text transform="translate(35.00,355.60) scale(1.06,1)" font-size="10" font-weight="bold" text-anchor="end" fill="#262626" stroke="#262626" stroke-width="0.25" >18</text>
<text transform="translate(40.50,504.00) scale(1.06,1)" font-size="10" font-weight="bold" text-anchor="middle" fill="#262626" stroke="#262626" stroke-width="0.25" >0</text>
<line x1="74.00" y1="489.40" x2="74.00" y2="486.90" stroke="#000" stroke-width="1" />
<line x1="74.00" y1="351.40" x2="74.00" y2="353.90" stroke="#000" stroke-width="1" />
<text transform="translate(74.90,504.00) scale(1.06,1)" font-size="10" font-weight="bold" text-anchor="middle" fill="#262626" stroke="#262626" stroke-width="0.25" >5</text>
<line x1="108.40" y1="489.40" x2="108.40" y2="486.90" stroke="#000" stroke-width="1" />
<line x1="108.40" y1="351.40" x2="108.40" y2="353.90" stroke="#000" stroke-width="1" />
<text transform="translate(109.30,504.00) scale(1.06,1)" font-size="10" font-weight="bold" text-anchor="middle" fill="#262626" stroke="#262626" stroke-width="0.25" >10</text>
<line x1="142.80" y1="489.40" x2="142.80" y2="486.90" stroke="#000" stroke-width="1" />
<line x1="142.80" y1="351.40" x2="142.80" y2="353.90" stroke="#000" stroke-width="1" />
<text transform="translate(143.70,504.00) scale(1.06,1)" font-size="10" font-weight="bold" text-anchor="middle" fill="#262626" stroke="#262626" stroke-width="0.25" >15</text>
<text transform="translate(178.10,504.00) scale(1.06,1)" font-size="10" font-weight="bold" text-anchor="middle" fill="#262626" stroke="#262626" stroke-width="0.25" >20</text>
<text transform="translate(9.40,424.60) rotate(-90) scale(1.1,1)" font-size="11.5" font-weight="bold" text-anchor="middle" fill="#262626" stroke="#262626" stroke-width="0.25" >FWHM (MHz)</text>
<text transform="translate(113.30,523.30) scale(1.1,1)" font-size="12.4" font-weight="bold" text-anchor="middle" fill="#262626" stroke="#262626" stroke-width="0.25" >P<tspan font-size="8.8" dy="-4.6">1/2</tspan><tspan dy="4.6">(mW </tspan><tspan font-size="8.8" dy="-4.6">1/2</tspan><tspan dy="4.6">)</tspan></text>
<text transform="translate(4.00,337.00) scale(1.06,1)" font-size="13.6" font-weight="bold" text-anchor="start" fill="#000" stroke="#000" stroke-width="0.25" >c</text>
<line x1="130.50" y1="448.20" x2="130.50" y2="455.40" stroke="#1446BE" stroke-width="1.3" />
<line x1="128.30" y1="448.20" x2="132.70" y2="448.20" stroke="#1446BE" stroke-width="1.2" />
<line x1="128.30" y1="455.40" x2="132.70" y2="455.40" stroke="#1446BE" stroke-width="1.2" />
<circle cx="130.5" cy="451.8" r="2.1" fill="#1446BE"/>
<line x1="130.50" y1="460.60" x2="130.50" y2="467.80" stroke="#1FC08E" stroke-width="1.3" />
<line x1="128.30" y1="460.60" x2="132.70" y2="460.60" stroke="#1FC08E" stroke-width="1.2" />
<line x1="128.30" y1="467.80" x2="132.70" y2="467.80" stroke="#1FC08E" stroke-width="1.2" />
<circle cx="130.5" cy="464.2" r="2.1" fill="#1FC08E"/>
<line x1="128.30" y1="476.60" x2="132.70" y2="476.60" stroke="#DC6C1E" stroke-width="1.2" />
<text transform="translate(136.60,455.40) scale(1.0,1)" font-size="10" font-weight="normal" text-anchor="start" fill="#262626" >10mT</text>
<text transform="translate(136.60,467.80) scale(1.0,1)" font-size="10" font-weight="normal" text-anchor="start" fill="#262626" >195mT</text>
<text transform="translate(136.60,480.20) scale(1.0,1)" font-size="10" font-weight="normal" text-anchor="start" fill="#262626" >fit</text>
<polyline points="291.9,481.2 292.8,480.7 293.7,480.2 294.6,479.7 295.5,479.1 296.4,478.6 297.2,477.9 298.1,477.3 299.0,476.6 299.9,475.9 300.8,475.2 301.7,474.4 302.6,473.6 303.4,472.8 304.3,471.9 305.2,471.0 306.1,470.0 307.0,469.0 307.9,468.0 308.8,466.9 309.6,465.8 310.5,464.6 311.4,463.4 312.3,462.2 313.2,460.9 314.1,459.5 315.0,458.2 315.8,456.7 316.7,455.3 317.6,453.8 318.5,452.2 319.4,450.6 320.3,449.0 321.2,447.4 322.0,445.7 322.9,444.0 323.8,442.2 324.7,440.4 325.6,438.6 326.5,436.8 327.4,435.0 328.2,433.1 329.1,431.2 330.0,429.3 330.9,427.4 331.8,425.5 332.7,423.7 333.6,421.8 334.4,419.9 335.3,418.0 336.2,416.1 337.1,414.3 338.0,412.4 338.9,410.6 339.8,408.8 340.6,407.1 341.5,405.3 342.4,403.6 343.3,401.9 344.2,400.3 345.1,398.7 346.0,397.1 346.8,395.6 347.7,394.1 348.6,392.7 349.5,391.3 350.4,389.9 351.3,388.6 352.2,387.4 353.0,386.1 353.9,384.9 354.8,383.8 355.7,382.7 356.6,381.6 357.5,380.6 358.4,379.7 359.2,378.7 360.1,377.8 361.0,377.0 361.9,376.1 362.8,375.3 363.7,374.6 364.5,373.9 365.4,373.2 366.3,372.5 367.2,371.9 368.1,371.3 369.0,370.8 369.9,370.2 370.7,369.7 371.6,369.2 372.5,368.8 373.4,368.3 374.3,367.9 375.2,367.5 376.1,367.1 376.9,366.8 377.8,366.4 378.7,366.1 379.6,365.8 380.5,365.5 381.4,365.2 382.3,365.0 383.1,364.7 384.0,364.5 384.9,364.3 385.8,364.1 386.7,363.9 387.6,363.7 388.5,363.5 389.3,363.4 390.2,363.2 391.1,363.1 392.0,362.9 392.9,362.8 393.8,362.7 394.7,362.5 395.5,362.4 396.4,362.3 397.3,362.2" fill="none" stroke="#DC6C1E" stroke-width="1.15" stroke-linejoin="round" />
<polyline points="291.9,488.8 292.8,488.7 293.7,488.6 294.6,488.6 295.5,488.5 296.4,488.5 297.2,488.4 298.1,488.3 299.0,488.3 299.9,488.2 300.8,488.1 301.7,488.0 302.6,487.9 303.4,487.8 304.3,487.7 305.2,487.6 306.1,487.5 307.0,487.3 307.9,487.2 308.8,487.0 309.6,486.9 310.5,486.7 311.4,486.6 312.3,486.4 313.2,486.2 314.1,486.0 315.0,485.8 315.8,485.6 316.7,485.3 317.6,485.1 318.5,484.8 319.4,484.5 320.3,484.2 321.2,483.9 322.0,483.6 322.9,483.3 323.8,482.9 324.7,482.5 325.6,482.1 326.5,481.7 327.4,481.2 328.2,480.8 329.1,480.3 330.0,479.8 330.9,479.2 331.8,478.6 332.7,478.0 333.6,477.4 334.4,476.7 335.3,476.1 336.2,475.3 337.1,474.6 338.0,473.8 338.9,473.0 339.8,472.1 340.6,471.2 341.5,470.2 342.4,469.3 343.3,468.3 344.2,467.2 345.1,466.1 346.0,465.0 346.8,463.8 347.7,462.6 348.6,461.3 349.5,460.0 350.4,458.7 351.3,457.3 352.2,455.9 353.0,454.4 353.9,452.9 354.8,451.4 355.7,449.8 356.6,448.2 357.5,446.6 358.4,445.0 359.2,443.3 360.1,441.6 361.0,439.9 361.9,438.1 362.8,436.3 363.7,434.6 364.5,432.8 365.4,431.0 366.3,429.2 367.2,427.4 368.1,425.6 369.0,423.8 369.9,422.0 370.7,420.3 371.6,418.5 372.5,416.8 373.4,415.1 374.3,413.4 375.2,411.7 376.1,410.0 376.9,408.4 377.8,406.8 378.7,405.3 379.6,403.8 380.5,402.3 381.4,400.8 382.3,399.4 383.1,398.1 384.0,396.7 384.9,395.4 385.8,394.2 386.7,393.0 387.6,391.8 388.5,390.7 389.3,389.6 390.2,388.6 391.1,387.5 392.0,386.6 392.9,385.6 393.8,384.8 394.7,383.9 395.5,383.1 396.4,382.3 397.3,381.5" fill="none" stroke="#DC6C1E" stroke-width="1.15" stroke-linejoin="round" />
<line x1="292.70" y1="475.60" x2="292.70" y2="478.80" stroke="#1446BE" stroke-width="1.5" />
<line x1="290.20" y1="475.60" x2="295.20" y2="475.60" stroke="#1446BE" stroke-width="1.35" />
<line x1="290.20" y1="478.80" x2="295.20" y2="478.80" stroke="#1446BE" stroke-width="1.35" />
<circle cx="292.7" cy="477.2" r="1.6" fill="#1446BE"/>
<line x1="310.00" y1="463.50" x2="310.00" y2="466.30" stroke="#1446BE" stroke-width="1.5" />
<line x1="307.50" y1="463.50" x2="312.50" y2="463.50" stroke="#1446BE" stroke-width="1.35" />
<line x1="307.50" y1="466.30" x2="312.50" y2="466.30" stroke="#1446BE" stroke-width="1.35" />
<circle cx="310.0" cy="464.9" r="1.6" fill="#1446BE"/>
<line x1="327.40" y1="425.00" x2="327.40" y2="432.20" stroke="#1446BE" stroke-width="1.5" />
<line x1="324.90" y1="425.00" x2="329.90" y2="425.00" stroke="#1446BE" stroke-width="1.35" />
<line x1="324.90" y1="432.20" x2="329.90" y2="432.20" stroke="#1446BE" stroke-width="1.35" />
<circle cx="327.4" cy="428.6" r="1.6" fill="#1446BE"/>
<line x1="344.80" y1="398.70" x2="344.80" y2="405.50" stroke="#1446BE" stroke-width="1.5" />
<line x1="342.30" y1="398.70" x2="347.30" y2="398.70" stroke="#1446BE" stroke-width="1.35" />
<line x1="342.30" y1="405.50" x2="347.30" y2="405.50" stroke="#1446BE" stroke-width="1.35" />
<circle cx="344.8" cy="402.1" r="1.6" fill="#1446BE"/>
<line x1="361.80" y1="384.00" x2="361.80" y2="388.80" stroke="#1446BE" stroke-width="1.5" />
<line x1="359.30" y1="384.00" x2="364.30" y2="384.00" stroke="#1446BE" stroke-width="1.35" />
<line x1="359.30" y1="388.80" x2="364.30" y2="388.80" stroke="#1446BE" stroke-width="1.35" />
<circle cx="361.8" cy="386.4" r="1.6" fill="#1446BE"/>
<line x1="379.60" y1="364.40" x2="379.60" y2="368.00" stroke="#1446BE" stroke-width="1.5" />
<line x1="377.10" y1="364.40" x2="382.10" y2="364.40" stroke="#1446BE" stroke-width="1.35" />
<line x1="377.10" y1="368.00" x2="382.10" y2="368.00" stroke="#1446BE" stroke-width="1.35" />
<circle cx="379.6" cy="366.2" r="1.6" fill="#1446BE"/>
<line x1="396.50" y1="352.60" x2="396.50" y2="356.20" stroke="#1446BE" stroke-width="1.5" />
<line x1="394.00" y1="352.60" x2="399.00" y2="352.60" stroke="#1446BE" stroke-width="1.35" />
<line x1="394.00" y1="356.20" x2="399.00" y2="356.20" stroke="#1446BE" stroke-width="1.35" />
<circle cx="396.5" cy="354.4" r="1.6" fill="#1446BE"/>
<line x1="292.70" y1="483.20" x2="292.70" y2="488.80" stroke="#1FC08E" stroke-width="1.5" />
<line x1="290.20" y1="483.20" x2="295.20" y2="483.20" stroke="#1FC08E" stroke-width="1.35" />
<line x1="290.20" y1="488.80" x2="295.20" y2="488.80" stroke="#1FC08E" stroke-width="1.35" />
<circle cx="292.7" cy="486.0" r="1.6" fill="#1FC08E"/>
<line x1="310.00" y1="483.80" x2="310.00" y2="488.20" stroke="#1FC08E" stroke-width="1.5" />
<line x1="307.50" y1="483.80" x2="312.50" y2="483.80" stroke="#1FC08E" stroke-width="1.35" />
<line x1="307.50" y1="488.20" x2="312.50" y2="488.20" stroke="#1FC08E" stroke-width="1.35" />
<circle cx="310.0" cy="486.0" r="1.6" fill="#1FC08E"/>
<line x1="327.40" y1="473.30" x2="327.40" y2="476.30" stroke="#1FC08E" stroke-width="1.5" />
<line x1="324.90" y1="473.30" x2="329.90" y2="473.30" stroke="#1FC08E" stroke-width="1.35" />
<line x1="324.90" y1="476.30" x2="329.90" y2="476.30" stroke="#1FC08E" stroke-width="1.35" />
<circle cx="327.4" cy="474.8" r="1.6" fill="#1FC08E"/>
<line x1="344.80" y1="461.10" x2="344.80" y2="464.10" stroke="#1FC08E" stroke-width="1.5" />
<line x1="342.30" y1="461.10" x2="347.30" y2="461.10" stroke="#1FC08E" stroke-width="1.35" />
<line x1="342.30" y1="464.10" x2="347.30" y2="464.10" stroke="#1FC08E" stroke-width="1.35" />
<circle cx="344.8" cy="462.6" r="1.6" fill="#1FC08E"/>
<line x1="361.80" y1="439.80" x2="361.80" y2="443.40" stroke="#1FC08E" stroke-width="1.5" />
<line x1="359.30" y1="439.80" x2="364.30" y2="439.80" stroke="#1FC08E" stroke-width="1.35" />
<line x1="359.30" y1="443.40" x2="364.30" y2="443.40" stroke="#1FC08E" stroke-width="1.35" />
<circle cx="361.8" cy="441.6" r="1.6" fill="#1FC08E"/>
<line x1="379.60" y1="409.60" x2="379.60" y2="413.60" stroke="#1FC08E" stroke-width="1.5" />
<line x1="377.10" y1="409.60" x2="382.10" y2="409.60" stroke="#1FC08E" stroke-width="1.35" />
<line x1="377.10" y1="413.60" x2="382.10" y2="413.60" stroke="#1FC08E" stroke-width="1.35" />
<circle cx="379.6" cy="411.6" r="1.6" fill="#1FC08E"/>
<line x1="396.50" y1="377.80" x2="396.50" y2="382.20" stroke="#1FC08E" stroke-width="1.5" />
<line x1="394.00" y1="377.80" x2="399.00" y2="377.80" stroke="#1FC08E" stroke-width="1.35" />
<line x1="394.00" y1="382.20" x2="399.00" y2="382.20" stroke="#1FC08E" stroke-width="1.35" />
<circle cx="396.5" cy="380.0" r="1.6" fill="#1FC08E"/>
<rect x="275.4" y="351.6" width="138.60000000000002" height="138.0" fill="none" stroke="#000" stroke-width="1.1"/>
<text transform="translate(270.00,494.00) scale(1.06,1)" font-size="10" font-weight="bold" text-anchor="end" fill="#262626" stroke="#262626" stroke-width="0.25" >0</text>
<line x1="275.40" y1="455.10" x2="277.90" y2="455.10" stroke="#000" stroke-width="1" />
<line x1="414.00" y1="455.10" x2="411.50" y2="455.10" stroke="#000" stroke-width="1" />
<text transform="translate(270.00,459.50) scale(1.06,1)" font-size="10" font-weight="bold" text-anchor="end" fill="#262626" stroke="#262626" stroke-width="0.25" >0.5</text>
<line x1="275.40" y1="420.60" x2="277.90" y2="420.60" stroke="#000" stroke-width="1" />
<line x1="414.00" y1="420.60" x2="411.50" y2="420.60" stroke="#000" stroke-width="1" />
<text transform="translate(270.00,425.00) scale(1.06,1)" font-size="10" font-weight="bold" text-anchor="end" fill="#262626" stroke="#262626" stroke-width="0.25" >1</text>
<line x1="275.40" y1="386.10" x2="277.90" y2="386.10" stroke="#000" stroke-width="1" />
<line x1="414.00" y1="386.10" x2="411.50" y2="386.10" stroke="#000" stroke-width="1" />
<text transform="translate(270.00,390.50) scale(1.06,1)" font-size="10" font-weight="bold" text-anchor="end" fill="#262626" stroke="#262626" stroke-width="0.25" >1.5</text>
<text transform="translate(270.00,356.60) scale(1.06,1)" font-size="10" font-weight="bold" text-anchor="end" fill="#262626" stroke="#262626" stroke-width="0.25" >2</text>
<line x1="285.83" y1="489.60" x2="285.83" y2="488.00" stroke="#000" stroke-width="0.8" />
<line x1="291.93" y1="489.60" x2="291.93" y2="488.00" stroke="#000" stroke-width="0.8" />
<line x1="296.26" y1="489.60" x2="296.26" y2="488.00" stroke="#000" stroke-width="0.8" />
<line x1="299.62" y1="489.60" x2="299.62" y2="488.00" stroke="#000" stroke-width="0.8" />
<line x1="302.36" y1="489.60" x2="302.36" y2="488.00" stroke="#000" stroke-width="0.8" />
<line x1="304.68" y1="489.60" x2="304.68" y2="488.00" stroke="#000" stroke-width="0.8" />
<line x1="306.69" y1="489.60" x2="306.69" y2="488.00" stroke="#000" stroke-width="0.8" />
<line x1="308.46" y1="489.60" x2="308.46" y2="488.00" stroke="#000" stroke-width="0.8" />
<line x1="310.05" y1="489.60" x2="310.05" y2="486.60" stroke="#000" stroke-width="0.8" />
<line x1="320.48" y1="489.60" x2="320.48" y2="488.00" stroke="#000" stroke-width="0.8" />
<line x1="326.58" y1="489.60" x2="326.58" y2="488.00" stroke="#000" stroke-width="0.8" />
<line x1="330.91" y1="489.60" x2="330.91" y2="488.00" stroke="#000" stroke-width="0.8" />
<line x1="334.27" y1="489.60" x2="334.27" y2="488.00" stroke="#000" stroke-width="0.8" />
<line x1="337.01" y1="489.60" x2="337.01" y2="488.00" stroke="#000" stroke-width="0.8" />
<line x1="339.33" y1="489.60" x2="339.33" y2="488.00" stroke="#000" stroke-width="0.8" />
<line x1="341.34" y1="489.60" x2="341.34" y2="488.00" stroke="#000" stroke-width="0.8" />
<line x1="343.11" y1="489.60" x2="343.11" y2="488.00" stroke="#000" stroke-width="0.8" />
<line x1="344.70" y1="489.60" x2="344.70" y2="486.60" stroke="#000" stroke-width="0.8" />
<line x1="355.13" y1="489.60" x2="355.13" y2="488.00" stroke="#000" stroke-width="0.8" />
<line x1="361.23" y1="489.60" x2="361.23" y2="488.00" stroke="#000" stroke-width="0.8" />
<line x1="365.56" y1="489.60" x2="365.56" y2="488.00" stroke="#000" stroke-width="0.8" />
<line x1="368.92" y1="489.60" x2="368.92" y2="488.00" stroke="#000" stroke-width="0.8" />
<line x1="371.66" y1="489.60" x2="371.66" y2="488.00" stroke="#000" stroke-width="0.8" />
<line x1="373.98" y1="489.60" x2="373.98" y2="488.00" stroke="#000" stroke-width="0.8" />
<line x1="375.99" y1="489.60" x2="375.99" y2="488.00" stroke="#000" stroke-width="0.8" />
<line x1="377.76" y1="489.60" x2="377.76" y2="488.00" stroke="#000" stroke-width="0.8" />
<line x1="379.35" y1="489.60" x2="379.35" y2="486.60" stroke="#000" stroke-width="0.8" />
<line x1="389.78" y1="489.60" x2="389.78" y2="488.00" stroke="#000" stroke-width="0.8" />
<line x1="395.88" y1="489.60" x2="395.88" y2="488.00" stroke="#000" stroke-width="0.8" />
<line x1="400.21" y1="489.60" x2="400.21" y2="488.00" stroke="#000" stroke-width="0.8" />
<line x1="403.57" y1="489.60" x2="403.57" y2="488.00" stroke="#000" stroke-width="0.8" />
<line x1="406.31" y1="489.60" x2="406.31" y2="488.00" stroke="#000" stroke-width="0.8" />
<line x1="408.63" y1="489.60" x2="408.63" y2="488.00" stroke="#000" stroke-width="0.8" />
<line x1="410.64" y1="489.60" x2="410.64" y2="488.00" stroke="#000" stroke-width="0.8" />
<line x1="412.41" y1="489.60" x2="412.41" y2="488.00" stroke="#000" stroke-width="0.8" />
<text transform="translate(281.80,502.90) scale(1.06,1)" font-size="10" font-weight="bold" text-anchor="middle" fill="#262626" stroke="#262626" stroke-width="0.25" >0.1</text>
<text transform="translate(307.90,502.90) scale(1.06,1)" font-size="10" font-weight="bold" text-anchor="middle" fill="#262626" stroke="#262626" stroke-width="0.25" >1</text>
<text transform="translate(344.90,502.90) scale(1.06,1)" font-size="10" font-weight="bold" text-anchor="middle" fill="#262626" stroke="#262626" stroke-width="0.25" >10</text>
<text transform="translate(381.60,502.90) scale(1.06,1)" font-size="10" font-weight="bold" text-anchor="middle" fill="#262626" stroke="#262626" stroke-width="0.25" >100</text>
<text transform="translate(420.70,502.90) scale(1.06,1)" font-size="10" font-weight="bold" text-anchor="middle" fill="#262626" stroke="#262626" stroke-width="0.25" >1000</text>
<text transform="translate(239.30,425.50) rotate(-90) scale(1.1,1)" font-size="12.2" font-weight="bold" text-anchor="middle" fill="#262626" stroke="#262626" stroke-width="0.25" >Contrast (%)</text>
<text transform="translate(341.00,523.30) scale(1.1,1)" font-size="12.4" font-weight="bold" text-anchor="middle" fill="#262626" stroke="#262626" stroke-width="0.25" >P (mW)</text>
<text transform="translate(227.00,337.00) scale(1.06,1)" font-size="13.6" font-weight="bold" text-anchor="start" fill="#000" stroke="#000" stroke-width="0.25" >d</text>
<line x1="369.00" y1="447.80" x2="369.00" y2="455.20" stroke="#1446BE" stroke-width="1.4" />
<line x1="367.00" y1="447.80" x2="371.00" y2="447.80" stroke="#1446BE" stroke-width="1.2" />
<line x1="367.00" y1="455.20" x2="371.00" y2="455.20" stroke="#1446BE" stroke-width="1.2" />
<circle cx="369" cy="451.5" r="1.6" fill="#1446BE"/>
<line x1="369.00" y1="460.50" x2="369.00" y2="467.90" stroke="#1FC08E" stroke-width="1.4" />
<line x1="367.00" y1="460.50" x2="371.00" y2="460.50" stroke="#1FC08E" stroke-width="1.2" />
<line x1="367.00" y1="467.90" x2="371.00" y2="467.90" stroke="#1FC08E" stroke-width="1.2" />
<circle cx="369" cy="464.2" r="1.6" fill="#1FC08E"/>
<line x1="368.20" y1="478.30" x2="371.60" y2="478.30" stroke="#DC6C1E" stroke-width="1.2" />
<text transform="translate(375.80,455.00) scale(1.0,1)" font-size="10" font-weight="normal" text-anchor="start" fill="#262626" >10mT</text>
<text transform="translate(375.80,467.80) scale(1.0,1)" font-size="10" font-weight="normal" text-anchor="start" fill="#262626" >195mT</text>
<text transform="translate(375.80,480.80) scale(1.0,1)" font-size="10" font-weight="normal" text-anchor="start" fill="#262626" >fit</text>
<line x1="522.78" y1="361.88" x2="522.78" y2="485.51" stroke="#2E5FD0" stroke-width="1.3" />
<line x1="546.37" y1="385.91" x2="546.37" y2="485.51" stroke="#2E5FD0" stroke-width="1.3" />
<line x1="570.24" y1="393.03" x2="570.24" y2="485.51" stroke="#2E5FD0" stroke-width="1.3" />
<line x1="593.62" y1="404.49" x2="593.62" y2="485.51" stroke="#2E5FD0" stroke-width="1.3" />
<line x1="616.93" y1="418.46" x2="616.93" y2="485.51" stroke="#2E5FD0" stroke-width="1.3" />
<line x1="511.65" y1="466.37" x2="511.65" y2="485.51" stroke="#1446BE" stroke-width="1.1" />
<line x1="535.94" y1="468.75" x2="535.94" y2="485.51" stroke="#1446BE" stroke-width="1.1" />
<line x1="557.22" y1="475.73" x2="557.22" y2="485.51" stroke="#1446BE" stroke-width="1.1" />
<line x1="562.61" y1="468.75" x2="562.61" y2="485.51" stroke="#1446BE" stroke-width="1.1" />
<line x1="606.85" y1="472.94" x2="606.85" y2="485.51" stroke="#1446BE" stroke-width="1.1" />
<polyline points="510.5,482.4 510.6,487.3 510.7,480.3 510.8,485.7 510.9,485.8 511.0,484.4 511.1,488.2 511.2,487.4 511.3,483.7 511.4,488.7 511.5,488.2 511.7,486.3 511.8,488.3 511.9,486.0 512.0,490.4 512.1,485.8 512.2,483.4 512.3,485.9 512.4,485.5 512.5,486.8 512.6,490.4 512.7,490.0 512.9,486.3 513.0,490.4 513.1,484.9 513.2,484.7 513.3,484.3 513.4,487.0 513.5,484.1 513.6,486.8 513.7,483.5 513.8,488.5 513.9,485.6 514.0,486.7 514.2,485.8 514.3,482.1 514.4,485.8 514.5,484.3 514.6,485.9 514.7,483.5 514.8,490.1 514.9,485.4 515.0,488.2 515.1,488.9 515.2,485.5 515.3,486.5 515.5,484.2 515.6,483.6 515.7,486.4 515.8,487.8 515.9,484.1 516.0,482.4 516.1,487.6 516.2,484.0 516.3,484.3 516.4,486.6 516.5,484.7 516.7,485.4 516.8,484.3 516.9,485.0 517.0,486.9 517.1,487.5 517.2,487.0 517.3,487.6 517.4,484.5 517.5,486.2 517.6,483.7 517.7,486.7 517.8,490.5 518.0,485.1 518.1,486.1 518.2,485.6 518.3,485.5 518.4,489.8 518.5,484.4 518.6,489.6 518.7,483.2 518.8,486.1 518.9,487.0 519.0,486.2 519.2,480.3 519.3,482.8 519.4,484.3 519.5,485.8 519.6,482.3 519.7,483.6 519.8,486.8 519.9,485.5 520.0,488.3 520.1,485.7 520.2,485.1 520.3,487.1 520.5,488.1 520.6,486.8 520.7,486.1 520.8,487.5 520.9,486.1 521.0,485.9 521.1,483.3 521.2,483.5 521.3,486.0 521.4,483.8 521.5,487.4 521.7,485.6 521.8,486.7 521.9,483.3 522.0,485.7 522.1,483.6 522.2,487.1 522.3,485.8 522.4,487.3 522.5,488.2 522.6,484.0 522.7,485.9 522.8,488.4 523.0,487.1 523.1,485.4 523.2,481.7 523.3,490.5 523.4,484.7 523.5,486.1 523.6,485.6 523.7,486.3 523.8,487.8 523.9,487.5 524.0,488.5 524.2,483.7 524.3,487.1 524.4,487.3 524.5,484.5 524.6,487.2 524.7,487.0 524.8,486.6 524.9,487.1 525.0,484.9 525.1,484.0 525.2,483.5 525.3,485.2 525.5,485.1 525.6,484.2 525.7,483.9 525.8,484.2 525.9,484.5 526.0,486.9 526.1,488.1 526.2,485.0 526.3,486.2 526.4,486.1 526.5,487.2 526.7,487.7 526.8,484.3 526.9,485.5 527.0,487.4 527.1,485.6 527.2,485.7 527.3,485.4 527.4,483.3 527.5,486.1 527.6,487.7 527.7,486.0 527.8,486.9 528.0,485.4 528.1,485.8 528.2,485.6 528.3,486.8 528.4,485.6 528.5,486.7 528.6,485.4 528.7,486.4 528.8,487.5 528.9,485.4 529.0,487.0 529.1,484.3 529.3,485.5 529.4,485.5 529.5,485.9 529.6,486.1 529.7,489.1 529.8,484.5 529.9,487.1 530.0,484.9 530.1,486.9 530.2,486.3 530.3,486.4 530.5,487.4 530.6,486.3 530.7,485.5 530.8,486.6 530.9,487.7 531.0,486.8 531.1,485.8 531.2,484.6 531.3,485.0 531.4,485.7 531.5,487.3 531.6,484.9 531.8,486.0 531.9,486.4 532.0,484.9 532.1,485.3 532.2,485.4 532.3,487.5 532.4,486.8 532.5,488.2 532.6,485.8 532.7,486.0 532.8,484.9 533.0,485.8 533.1,486.5 533.2,483.4 533.3,487.4 533.4,487.8 533.5,486.8 533.6,485.4 533.7,486.5 533.8,486.6 533.9,487.5 534.0,484.2 534.1,486.9 534.3,487.4 534.4,486.2 534.5,487.1 534.6,486.4 534.7,484.4 534.8,486.6 534.9,486.1 535.0,486.5 535.1,486.3 535.2,485.0 535.3,485.4 535.5,486.5 535.6,487.2 535.7,486.2 535.8,485.0 535.9,486.1 536.0,486.2 536.1,488.3 536.2,484.8 536.3,487.9 536.4,487.7 536.5,486.5 536.6,486.0 536.8,486.0 536.9,487.0 537.0,486.5 537.1,486.8 537.2,488.3 537.3,486.4 537.4,486.9 537.5,485.5 537.6,486.3 537.7,484.9 537.8,485.2 538.0,484.9 538.1,484.6 538.2,485.2 538.3,486.3 538.4,484.4 538.5,487.2 538.6,486.1 538.7,485.0 538.8,486.4 538.9,485.2 539.0,487.1 539.1,486.8 539.3,485.4 539.4,485.2 539.5,484.6 539.6,486.2 539.7,485.7 539.8,485.3 539.9,485.5 540.0,487.7 540.1,486.8 540.2,484.3 540.3,487.6 540.5,485.3 540.6,486.6 540.7,484.8 540.8,487.0 540.9,486.0 541.0,488.6 541.1,486.1 541.2,484.7 541.3,488.0 541.4,484.6 541.5,487.0 541.6,486.1 541.8,489.6 541.9,484.7 542.0,487.2 542.1,486.7 542.2,487.7 542.3,487.3 542.4,484.6 542.5,486.7 542.6,484.9 542.7,486.3 542.8,485.6 543.0,486.7 543.1,485.5 543.2,482.8 543.3,485.2 543.4,485.4 543.5,486.7 543.6,484.8 543.7,484.4 543.8,488.2 543.9,487.8 544.0,483.4 544.1,485.5 544.3,485.9 544.4,485.4 544.5,484.7 544.6,485.1 544.7,486.4 544.8,483.5 544.9,486.1 545.0,487.2 545.1,486.8 545.2,486.2 545.3,486.5 545.4,486.3 545.6,485.7 545.7,490.2 545.8,487.0 545.9,484.9 546.0,485.4 546.1,486.9 546.2,486.9 546.3,484.6 546.4,486.4 546.5,486.7 546.6,483.7 546.8,486.5 546.9,485.2 547.0,486.1 547.1,486.0 547.2,487.3 547.3,487.1 547.4,484.5 547.5,487.5 547.6,485.7 547.7,487.6 547.8,486.4 547.9,486.1 548.1,488.1 548.2,484.6 548.3,486.3 548.4,484.5 548.5,487.2 548.6,484.9 548.7,483.1 548.8,485.8 548.9,486.9 549.0,485.5 549.1,485.9 549.3,486.3 549.4,486.2 549.5,486.8 549.6,485.5 549.7,486.6 549.8,487.1 549.9,485.0 550.0,486.3 550.1,482.7 550.2,486.4 550.3,487.0 550.4,486.8 550.6,485.6 550.7,486.9 550.8,487.7 550.9,484.0 551.0,487.6 551.1,484.2 551.2,485.9 551.3,487.4 551.4,484.0 551.5,486.3 551.6,487.3 551.8,486.0 551.9,484.5 552.0,485.2 552.1,485.0 552.2,483.9 552.3,485.8 552.4,485.6 552.5,486.4 552.6,487.9 552.7,486.3 552.8,484.0 552.9,488.2 553.1,484.4 553.2,485.7 553.3,487.2 553.4,486.0 553.5,483.8 553.6,486.8 553.7,485.1 553.8,484.6 553.9,487.2 554.0,485.3 554.1,485.4 554.3,486.7 554.4,485.2 554.5,486.5 554.6,486.8 554.7,487.6 554.8,485.6 554.9,486.6 555.0,486.8 555.1,487.5 555.2,487.8 555.3,487.1 555.4,485.2 555.6,487.1 555.7,484.3 555.8,485.6 555.9,485.9 556.0,487.6 556.1,483.6 556.2,487.9 556.3,485.4 556.4,483.9 556.5,486.3 556.6,486.9 556.8,486.1 556.9,484.9 557.0,484.4 557.1,485.3 557.2,487.4 557.3,486.9 557.4,485.8 557.5,487.7 557.6,486.4 557.7,483.3 557.8,487.4 557.9,484.6 558.1,487.2 558.2,486.5 558.3,486.2 558.4,488.0 558.5,486.2 558.6,484.4 558.7,485.2 558.8,485.2 558.9,487.1 559.0,486.3 559.1,485.8 559.2,485.2 559.4,484.4 559.5,487.3 559.6,483.9 559.7,486.4 559.8,486.4 559.9,487.6 560.0,486.2 560.1,486.4 560.2,487.6 560.3,486.4 560.4,485.9 560.6,486.6 560.7,485.1 560.8,487.4 560.9,485.0 561.0,486.3 561.1,485.6 561.2,488.4 561.3,485.9 561.4,486.1 561.5,484.9 561.6,487.6 561.7,484.4 561.9,487.4 562.0,484.4 562.1,485.3 562.2,487.0 562.3,483.3 562.4,487.6 562.5,486.3 562.6,485.8 562.7,485.4 562.8,485.8 562.9,485.1 563.1,485.5 563.2,486.0 563.3,487.2 563.4,486.5 563.5,484.9 563.6,487.5 563.7,485.9 563.8,488.6 563.9,486.9 564.0,488.1 564.1,484.5 564.2,488.4 564.4,486.4 564.5,485.2 564.6,485.3 564.7,485.1 564.8,484.7 564.9,485.5 565.0,485.0 565.1,486.1 565.2,486.1 565.3,488.3 565.4,485.9 565.6,484.5 565.7,487.0 565.8,487.5 565.9,486.0 566.0,484.6 566.1,484.6 566.2,488.0 566.3,485.5 566.4,486.9 566.5,485.7 566.6,488.9 566.7,484.9 566.9,486.6 567.0,485.8 567.1,486.3 567.2,487.4 567.3,485.4 567.4,486.7 567.5,486.9 567.6,485.2 567.7,486.2 567.8,487.0 567.9,484.9 568.1,486.8 568.2,486.1 568.3,485.1 568.4,484.9 568.5,484.6 568.6,484.0 568.7,486.0 568.8,487.1 568.9,484.0 569.0,484.3 569.1,486.4 569.2,485.2 569.4,486.5 569.5,488.0 569.6,484.8 569.7,485.6 569.8,485.9 569.9,483.9 570.0,484.3 570.1,486.9 570.2,487.5 570.3,488.5 570.4,486.1 570.6,486.6 570.7,485.6 570.8,486.1 570.9,486.9 571.0,486.6 571.1,488.0 571.2,484.5 571.3,486.7 571.4,485.3 571.5,486.9 571.6,486.0 571.7,485.3 571.9,486.4 572.0,487.1 572.1,483.1 572.2,486.3 572.3,485.4 572.4,486.2 572.5,487.0 572.6,484.4 572.7,485.6 572.8,485.6 572.9,488.9 573.0,485.7 573.2,485.0 573.3,485.7 573.4,486.3 573.5,484.6 573.6,485.8 573.7,485.3 573.8,484.8 573.9,484.8 574.0,487.7 574.1,485.6 574.2,487.0 574.4,488.6 574.5,485.7 574.6,488.3 574.7,486.7 574.8,489.2 574.9,487.4 575.0,486.7 575.1,486.1 575.2,486.7 575.3,487.2 575.4,487.2 575.5,484.1 575.7,486.7 575.8,486.2 575.9,483.7 576.0,488.3 576.1,488.7 576.2,487.4 576.3,486.6 576.4,487.5 576.5,486.1 576.6,486.2 576.7,488.0 576.9,485.9 577.0,487.9 577.1,485.2 577.2,485.8 577.3,483.3 577.4,485.0 577.5,486.3 577.6,485.6 577.7,485.9 577.8,487.0 577.9,487.9 578.0,484.7 578.2,484.2 578.3,486.7 578.4,486.4 578.5,486.7 578.6,484.8 578.7,484.6 578.8,487.2 578.9,486.5 579.0,486.8 579.1,485.8 579.2,485.1 579.4,484.7 579.5,486.4 579.6,487.3 579.7,485.4 579.8,485.3 579.9,486.5 580.0,485.9 580.1,485.6 580.2,485.0 580.3,486.0 580.4,485.5 580.5,485.8 580.7,487.3 580.8,485.2 580.9,485.9 581.0,484.7 581.1,487.6 581.2,487.0 581.3,485.7 581.4,488.2 581.5,486.2 581.6,486.6 581.7,486.6 581.9,486.4 582.0,488.9 582.1,486.0 582.2,486.0 582.3,484.8 582.4,484.3 582.5,485.6 582.6,484.9 582.7,489.1 582.8,485.4 582.9,484.7 583.0,485.0 583.2,485.8 583.3,486.5 583.4,486.5 583.5,486.0 583.6,485.5 583.7,485.4 583.8,486.2 583.9,487.7 584.0,483.8 584.1,487.2 584.2,489.4 584.4,484.3 584.5,484.8 584.6,485.8 584.7,484.8 584.8,485.5 584.9,487.1 585.0,485.9 585.1,487.6 585.2,486.9 585.3,487.2 585.4,485.9 585.5,484.7 585.7,486.9 585.8,485.5 585.9,488.8 586.0,487.4 586.1,485.4 586.2,484.9 586.3,484.9 586.4,484.7 586.5,488.1 586.6,486.7 586.7,489.3 586.8,486.3 587.0,485.8 587.1,486.5 587.2,487.2 587.3,485.5 587.4,485.4 587.5,485.9 587.6,486.8 587.7,486.0 587.8,486.0 587.9,485.7 588.0,485.3 588.2,486.1 588.3,487.9 588.4,486.4 588.5,485.6 588.6,486.6 588.7,485.8 588.8,486.9 588.9,484.4 589.0,485.6 589.1,485.9 589.2,485.1 589.3,485.1 589.5,486.0 589.6,484.8 589.7,485.2 589.8,485.8 589.9,486.1 590.0,487.5 590.1,485.8 590.2,485.8 590.3,487.1 590.4,484.4 590.5,486.1 590.7,487.4 590.8,486.6 590.9,486.1 591.0,486.1 591.1,487.1 591.2,486.0 591.3,487.9 591.4,486.6 591.5,485.5 591.6,486.9 591.7,485.3 591.8,485.1 592.0,486.8 592.1,489.1 592.2,485.0 592.3,484.4 592.4,488.1 592.5,485.8 592.6,485.7 592.7,488.1 592.8,486.7 592.9,484.5 593.0,485.8 593.2,486.0 593.3,484.6 593.4,486.8 593.5,488.3 593.6,484.3 593.7,487.0 593.8,486.0 593.9,484.6 594.0,485.7 594.1,485.8 594.2,486.8 594.3,485.3 594.5,483.3 594.6,486.8 594.7,487.4 594.8,485.6 594.9,486.9 595.0,485.9 595.1,486.0 595.2,485.4 595.3,485.8 595.4,485.6 595.5,484.4 595.7,487.2 595.8,486.0 595.9,485.6 596.0,487.5 596.1,487.2 596.2,486.4 596.3,486.7 596.4,484.6 596.5,485.8 596.6,482.3 596.7,486.5 596.8,486.4 597.0,483.2 597.1,486.7 597.2,483.2 597.3,489.9 597.4,486.8 597.5,484.2 597.6,484.0 597.7,485.4 597.8,486.8 597.9,486.2 598.0,485.0 598.2,485.6 598.3,484.8 598.4,486.9 598.5,484.9 598.6,484.4 598.7,482.1 598.8,485.1 598.9,485.1 599.0,487.0 599.1,487.7 599.2,488.9 599.3,485.4 599.5,483.4 599.6,486.1 599.7,489.1 599.8,485.7 599.9,486.2 600.0,486.5 600.1,483.8 600.2,484.4 600.3,484.1 600.4,487.0 600.5,485.5 600.6,487.4 600.8,484.5 600.9,487.4 601.0,484.4 601.1,485.7 601.2,485.7 601.3,487.8 601.4,485.1 601.5,488.3 601.6,487.5 601.7,487.2 601.8,483.4 602.0,485.8 602.1,486.8 602.2,485.3 602.3,483.0 602.4,486.2 602.5,487.3 602.6,487.4 602.7,486.1 602.8,483.9 602.9,486.2 603.0,486.3 603.1,487.2 603.3,487.4 603.4,484.7 603.5,485.6 603.6,485.5 603.7,487.7 603.8,485.3 603.9,485.6 604.0,484.1 604.1,484.7 604.2,486.3 604.3,485.6 604.5,485.6 604.6,486.1 604.7,487.1 604.8,484.9 604.9,483.2 605.0,486.1 605.1,483.9 605.2,486.4 605.3,486.4 605.4,486.0 605.5,486.4 605.6,484.8 605.8,484.5 605.9,489.2 606.0,485.0 606.1,485.5 606.2,483.8 606.3,487.1 606.4,485.8 606.5,484.5 606.6,484.9 606.7,484.1 606.8,487.0 607.0,486.9 607.1,485.3 607.2,487.7 607.3,485.4 607.4,484.8 607.5,485.6 607.6,487.7 607.7,486.7 607.8,486.4 607.9,485.5 608.0,485.7 608.1,486.6 608.3,488.1 608.4,488.3 608.5,487.3 608.6,487.3 608.7,486.8 608.8,487.4 608.9,486.2 609.0,486.8 609.1,485.8 609.2,486.1 609.3,485.3 609.5,487.3 609.6,487.2 609.7,487.5 609.8,486.0 609.9,485.1 610.0,484.6 610.1,485.9 610.2,486.2 610.3,485.1 610.4,486.1 610.5,487.3 610.6,485.1 610.8,486.6 610.9,487.9 611.0,486.3 611.1,487.1 611.2,486.1 611.3,487.0 611.4,486.5 611.5,486.8 611.6,486.2 611.7,485.3 611.8,485.8 612.0,486.1 612.1,484.8 612.2,487.8 612.3,485.9 612.4,484.6 612.5,485.4 612.6,484.7 612.7,487.2 612.8,484.6 612.9,487.0 613.0,484.6 613.1,485.8 613.3,485.0 613.4,487.1 613.5,486.3 613.6,488.4 613.7,485.6 613.8,485.1 613.9,485.6 614.0,484.6 614.1,485.3 614.2,485.9 614.3,485.3 614.4,486.7 614.6,484.9 614.7,485.7 614.8,485.6 614.9,486.2 615.0,486.7 615.1,487.2 615.2,486.4 615.3,485.1 615.4,488.2 615.5,485.8 615.6,481.5 615.8,485.7 615.9,486.2 616.0,485.5 616.1,486.1 616.2,485.8 616.3,485.7 616.4,487.2 616.5,484.4 616.6,485.6 616.7,484.5 616.8,485.7 616.9,484.6 617.1,485.8 617.2,482.1 617.3,484.4 617.4,484.2 617.5,486.0 617.6,487.8 617.7,486.3 617.8,485.2 617.9,485.7 618.0,486.6 618.1,486.8 618.3,487.4 618.4,486.5 618.5,485.1 618.6,485.1 618.7,485.1 618.8,486.1 618.9,485.7 619.0,485.9 619.1,485.4 619.2,485.6 619.3,485.2 619.4,486.1 619.6,486.0 619.7,484.2 619.8,484.4 619.9,488.6 620.0,485.5 620.1,485.6 620.2,485.0 620.3,488.7 620.4,488.1 620.5,486.6 620.6,485.9 620.8,487.5 620.9,484.7 621.0,484.8 621.1,485.3 621.2,485.1 621.3,487.5 621.4,486.3 621.5,489.0 621.6,484.9 621.7,484.7 621.8,485.6 621.9,487.3 622.1,486.1 622.2,484.9 622.3,487.6 622.4,485.8 622.5,485.2 622.6,487.0 622.7,486.8 622.8,484.6 622.9,485.1 623.0,484.3 623.1,485.7 623.3,487.3 623.4,486.1 623.5,486.8 623.6,486.4 623.7,485.5 623.8,484.2 623.9,485.9 624.0,483.7 624.1,487.7 624.2,486.3 624.3,486.0 624.4,488.7 624.6,488.0 624.7,486.4 624.8,485.9 624.9,485.5 625.0,485.9 625.1,486.4 625.2,487.7 625.3,486.0 625.4,484.0 625.5,485.5 625.6,486.9 625.8,485.9 625.9,485.5 626.0,484.5 626.1,486.7 626.2,485.4 626.3,485.3 626.4,486.4 626.5,486.1 626.6,486.5 626.7,485.9 626.8,485.7 626.9,487.5 627.1,486.2 627.2,484.1 627.3,486.0 627.4,488.3 627.5,484.2 627.6,486.3 627.7,485.8 627.8,485.4 627.9,486.5 628.0,487.3 628.1,486.9 628.3,485.7 628.4,486.0 628.5,486.4 628.6,483.4 628.7,485.7 628.8,484.8 628.9,483.4 629.0,485.8 629.1,486.5 629.2,486.3 629.3,485.8 629.4,483.8 629.6,484.7 629.7,486.2 629.8,486.7 629.9,485.1" fill="none" stroke="#0B38B4" stroke-width="1.7" stroke-linejoin="round" />
<circle cx="506.8" cy="464.2" r="1.4" fill="#D55E00"/>
<circle cx="507.1" cy="463.9" r="1.4" fill="#D55E00"/>
<circle cx="507.3" cy="463.1" r="1.4" fill="#D55E00"/>
<circle cx="507.6" cy="463.7" r="1.4" fill="#D55E00"/>
<circle cx="507.8" cy="462.2" r="1.4" fill="#D55E00"/>
<circle cx="508.1" cy="462.2" r="1.4" fill="#D55E00"/>
<circle cx="508.3" cy="462.2" r="1.4" fill="#D55E00"/>
<circle cx="508.6" cy="461.7" r="1.4" fill="#D55E00"/>
<circle cx="508.8" cy="461.6" r="1.4" fill="#D55E00"/>
<circle cx="509.1" cy="460.7" r="1.4" fill="#D55E00"/>
<circle cx="509.3" cy="460.1" r="1.4" fill="#D55E00"/>
<circle cx="509.6" cy="459.3" r="1.4" fill="#D55E00"/>
<circle cx="509.8" cy="459.4" r="1.4" fill="#D55E00"/>
<circle cx="510.1" cy="458.1" r="1.4" fill="#D55E00"/>
<circle cx="510.3" cy="457.7" r="1.4" fill="#D55E00"/>
<circle cx="510.6" cy="457.0" r="1.4" fill="#D55E00"/>
<circle cx="510.9" cy="456.2" r="1.4" fill="#D55E00"/>
<circle cx="511.1" cy="455.2" r="1.4" fill="#D55E00"/>
<circle cx="511.4" cy="453.9" r="1.4" fill="#D55E00"/>
<circle cx="511.6" cy="453.0" r="1.4" fill="#D55E00"/>
<circle cx="511.9" cy="452.1" r="1.4" fill="#D55E00"/>
<circle cx="512.1" cy="451.4" r="1.4" fill="#D55E00"/>
<circle cx="512.4" cy="450.0" r="1.4" fill="#D55E00"/>
<circle cx="512.6" cy="448.3" r="1.4" fill="#D55E00"/>
<circle cx="512.9" cy="447.0" r="1.4" fill="#D55E00"/>
<circle cx="513.1" cy="445.8" r="1.4" fill="#D55E00"/>
<circle cx="513.4" cy="443.5" r="1.4" fill="#D55E00"/>
<circle cx="513.6" cy="441.6" r="1.4" fill="#D55E00"/>
<circle cx="513.9" cy="440.3" r="1.4" fill="#D55E00"/>
<circle cx="514.1" cy="438.6" r="1.4" fill="#D55E00"/>
<circle cx="514.4" cy="436.4" r="1.4" fill="#D55E00"/>
<circle cx="514.6" cy="434.5" r="1.4" fill="#D55E00"/>
<circle cx="514.9" cy="432.3" r="1.4" fill="#D55E00"/>
<circle cx="515.1" cy="429.5" r="1.4" fill="#D55E00"/>
<circle cx="515.4" cy="427.2" r="1.4" fill="#D55E00"/>
<circle cx="515.6" cy="424.3" r="1.4" fill="#D55E00"/>
<circle cx="515.9" cy="421.0" r="1.4" fill="#D55E00"/>
<circle cx="516.1" cy="418.9" r="1.4" fill="#D55E00"/>
<circle cx="516.4" cy="416.2" r="1.4" fill="#D55E00"/>
<circle cx="516.6" cy="413.2" r="1.4" fill="#D55E00"/>
<circle cx="516.9" cy="410.1" r="1.4" fill="#D55E00"/>
<circle cx="517.2" cy="406.7" r="1.4" fill="#D55E00"/>
<circle cx="517.4" cy="403.9" r="1.4" fill="#D55E00"/>
<circle cx="517.7" cy="400.5" r="1.4" fill="#D55E00"/>
<circle cx="517.9" cy="397.8" r="1.4" fill="#D55E00"/>
<circle cx="518.2" cy="394.5" r="1.4" fill="#D55E00"/>
<circle cx="518.4" cy="391.0" r="1.4" fill="#D55E00"/>
<circle cx="518.7" cy="387.5" r="1.4" fill="#D55E00"/>
<circle cx="518.9" cy="384.8" r="1.4" fill="#D55E00"/>
<circle cx="519.2" cy="381.0" r="1.4" fill="#D55E00"/>
<circle cx="519.4" cy="378.5" r="1.4" fill="#D55E00"/>
<circle cx="519.7" cy="375.2" r="1.4" fill="#D55E00"/>
<circle cx="519.9" cy="372.4" r="1.4" fill="#D55E00"/>
<circle cx="520.2" cy="369.2" r="1.4" fill="#D55E00"/>
<circle cx="520.4" cy="367.4" r="1.4" fill="#D55E00"/>
<circle cx="520.7" cy="365.0" r="1.4" fill="#D55E00"/>
<circle cx="520.9" cy="362.7" r="1.4" fill="#D55E00"/>
<circle cx="521.2" cy="360.5" r="1.4" fill="#D55E00"/>
<circle cx="521.4" cy="358.9" r="1.4" fill="#D55E00"/>
<circle cx="521.7" cy="358.1" r="1.4" fill="#D55E00"/>
<circle cx="521.9" cy="357.0" r="1.4" fill="#D55E00"/>
<circle cx="522.2" cy="356.4" r="1.4" fill="#D55E00"/>
<circle cx="522.4" cy="355.3" r="1.4" fill="#D55E00"/>
<circle cx="522.7" cy="355.6" r="1.4" fill="#D55E00"/>
<circle cx="522.9" cy="355.9" r="1.4" fill="#D55E00"/>
<circle cx="523.2" cy="357.3" r="1.4" fill="#D55E00"/>
<circle cx="523.5" cy="357.7" r="1.4" fill="#D55E00"/>
<circle cx="523.7" cy="359.1" r="1.4" fill="#D55E00"/>
<circle cx="524.0" cy="360.4" r="1.4" fill="#D55E00"/>
<circle cx="524.2" cy="363.0" r="1.4" fill="#D55E00"/>
<circle cx="524.5" cy="364.2" r="1.4" fill="#D55E00"/>
<circle cx="524.7" cy="366.8" r="1.4" fill="#D55E00"/>
<circle cx="525.0" cy="369.3" r="1.4" fill="#D55E00"/>
<circle cx="525.2" cy="372.5" r="1.4" fill="#D55E00"/>
<circle cx="525.5" cy="374.5" r="1.4" fill="#D55E00"/>
<circle cx="525.7" cy="378.0" r="1.4" fill="#D55E00"/>
<circle cx="526.0" cy="381.0" r="1.4" fill="#D55E00"/>
<circle cx="526.2" cy="384.3" r="1.4" fill="#D55E00"/>
<circle cx="526.5" cy="387.6" r="1.4" fill="#D55E00"/>
<circle cx="526.7" cy="390.7" r="1.4" fill="#D55E00"/>
<circle cx="527.0" cy="393.9" r="1.4" fill="#D55E00"/>
<circle cx="527.2" cy="396.9" r="1.4" fill="#D55E00"/>
<circle cx="527.5" cy="400.3" r="1.4" fill="#D55E00"/>
<circle cx="527.7" cy="403.8" r="1.4" fill="#D55E00"/>
<circle cx="528.0" cy="406.7" r="1.4" fill="#D55E00"/>
<circle cx="528.2" cy="409.6" r="1.4" fill="#D55E00"/>
<circle cx="528.5" cy="413.0" r="1.4" fill="#D55E00"/>
<circle cx="528.7" cy="415.8" r="1.4" fill="#D55E00"/>
<circle cx="529.0" cy="418.3" r="1.4" fill="#D55E00"/>
<circle cx="529.2" cy="421.3" r="1.4" fill="#D55E00"/>
<circle cx="529.5" cy="424.2" r="1.4" fill="#D55E00"/>
<circle cx="529.8" cy="426.4" r="1.4" fill="#D55E00"/>
<circle cx="530.0" cy="428.8" r="1.4" fill="#D55E00"/>
<circle cx="530.3" cy="431.2" r="1.4" fill="#D55E00"/>
<circle cx="530.5" cy="433.6" r="1.4" fill="#D55E00"/>
<circle cx="530.8" cy="435.3" r="1.4" fill="#D55E00"/>
<circle cx="531.0" cy="438.2" r="1.4" fill="#D55E00"/>
<circle cx="531.3" cy="439.6" r="1.4" fill="#D55E00"/>
<circle cx="531.5" cy="441.4" r="1.4" fill="#D55E00"/>
<circle cx="531.8" cy="443.5" r="1.4" fill="#D55E00"/>
<circle cx="532.0" cy="445.1" r="1.4" fill="#D55E00"/>
<circle cx="532.3" cy="446.6" r="1.4" fill="#D55E00"/>
<circle cx="532.5" cy="447.7" r="1.4" fill="#D55E00"/>
<circle cx="532.8" cy="449.1" r="1.4" fill="#D55E00"/>
<circle cx="533.0" cy="450.1" r="1.4" fill="#D55E00"/>
<circle cx="533.3" cy="451.1" r="1.4" fill="#D55E00"/>
<circle cx="533.5" cy="452.6" r="1.4" fill="#D55E00"/>
<circle cx="533.8" cy="453.4" r="1.4" fill="#D55E00"/>
<circle cx="534.0" cy="454.2" r="1.4" fill="#D55E00"/>
<circle cx="534.3" cy="455.7" r="1.4" fill="#D55E00"/>
<circle cx="534.5" cy="456.0" r="1.4" fill="#D55E00"/>
<circle cx="534.8" cy="457.1" r="1.4" fill="#D55E00"/>
<circle cx="535.0" cy="457.5" r="1.4" fill="#D55E00"/>
<circle cx="535.3" cy="458.1" r="1.4" fill="#D55E00"/>
<circle cx="535.5" cy="458.0" r="1.4" fill="#D55E00"/>
<circle cx="535.8" cy="459.0" r="1.4" fill="#D55E00"/>
<circle cx="536.1" cy="459.4" r="1.4" fill="#D55E00"/>
<circle cx="536.3" cy="459.4" r="1.4" fill="#D55E00"/>
<circle cx="536.6" cy="460.0" r="1.4" fill="#D55E00"/>
<circle cx="536.8" cy="460.6" r="1.4" fill="#D55E00"/>
<circle cx="537.1" cy="460.2" r="1.4" fill="#D55E00"/>
<circle cx="537.3" cy="460.4" r="1.4" fill="#D55E00"/>
<circle cx="537.6" cy="461.0" r="1.4" fill="#D55E00"/>
<circle cx="537.8" cy="461.5" r="1.4" fill="#D55E00"/>
<circle cx="538.1" cy="461.4" r="1.4" fill="#D55E00"/>
<circle cx="538.3" cy="461.5" r="1.4" fill="#D55E00"/>
<circle cx="538.6" cy="460.8" r="1.4" fill="#D55E00"/>
<circle cx="538.8" cy="461.5" r="1.4" fill="#D55E00"/>
<circle cx="539.1" cy="461.0" r="1.4" fill="#D55E00"/>
<circle cx="539.3" cy="460.8" r="1.4" fill="#D55E00"/>
<circle cx="539.6" cy="461.0" r="1.4" fill="#D55E00"/>
<circle cx="539.8" cy="460.8" r="1.4" fill="#D55E00"/>
<circle cx="540.1" cy="460.3" r="1.4" fill="#D55E00"/>
<circle cx="540.3" cy="460.2" r="1.4" fill="#D55E00"/>
<circle cx="540.6" cy="460.5" r="1.4" fill="#D55E00"/>
<circle cx="540.8" cy="459.4" r="1.4" fill="#D55E00"/>
<circle cx="541.1" cy="459.8" r="1.4" fill="#D55E00"/>
<circle cx="541.3" cy="458.9" r="1.4" fill="#D55E00"/>
<circle cx="541.6" cy="457.8" r="1.4" fill="#D55E00"/>
<circle cx="541.8" cy="457.9" r="1.4" fill="#D55E00"/>
<circle cx="542.1" cy="456.4" r="1.4" fill="#D55E00"/>
<circle cx="542.4" cy="455.2" r="1.4" fill="#D55E00"/>
<circle cx="542.6" cy="455.0" r="1.4" fill="#D55E00"/>
<circle cx="542.9" cy="454.5" r="1.4" fill="#D55E00"/>
<circle cx="543.1" cy="452.5" r="1.4" fill="#D55E00"/>
<circle cx="543.4" cy="452.1" r="1.4" fill="#D55E00"/>
<circle cx="543.6" cy="451.1" r="1.4" fill="#D55E00"/>
<circle cx="543.9" cy="449.9" r="1.4" fill="#D55E00"/>
<circle cx="544.1" cy="448.5" r="1.4" fill="#D55E00"/>
<circle cx="544.4" cy="447.4" r="1.4" fill="#D55E00"/>
<circle cx="544.6" cy="445.5" r="1.4" fill="#D55E00"/>
<circle cx="544.9" cy="445.2" r="1.4" fill="#D55E00"/>
<circle cx="545.1" cy="444.3" r="1.4" fill="#D55E00"/>
<circle cx="545.4" cy="443.4" r="1.4" fill="#D55E00"/>
<circle cx="545.6" cy="442.4" r="1.4" fill="#D55E00"/>
<circle cx="545.9" cy="441.2" r="1.4" fill="#D55E00"/>
<circle cx="546.1" cy="441.8" r="1.4" fill="#D55E00"/>
<circle cx="546.4" cy="441.4" r="1.4" fill="#D55E00"/>
<circle cx="546.6" cy="441.3" r="1.4" fill="#D55E00"/>
<circle cx="546.9" cy="442.0" r="1.4" fill="#D55E00"/>
<circle cx="547.1" cy="442.7" r="1.4" fill="#D55E00"/>
<circle cx="547.4" cy="443.6" r="1.4" fill="#D55E00"/>
<circle cx="547.6" cy="444.4" r="1.4" fill="#D55E00"/>
<circle cx="547.9" cy="445.8" r="1.4" fill="#D55E00"/>
<circle cx="548.1" cy="446.4" r="1.4" fill="#D55E00"/>
<circle cx="548.4" cy="448.6" r="1.4" fill="#D55E00"/>
<circle cx="548.7" cy="449.1" r="1.4" fill="#D55E00"/>
<circle cx="548.9" cy="450.4" r="1.4" fill="#D55E00"/>
<circle cx="549.2" cy="452.0" r="1.4" fill="#D55E00"/>
<circle cx="549.4" cy="453.3" r="1.4" fill="#D55E00"/>
<circle cx="549.7" cy="454.1" r="1.4" fill="#D55E00"/>
<circle cx="549.9" cy="455.8" r="1.4" fill="#D55E00"/>
<circle cx="550.2" cy="456.7" r="1.4" fill="#D55E00"/>
<circle cx="550.4" cy="457.8" r="1.4" fill="#D55E00"/>
<circle cx="550.7" cy="458.4" r="1.4" fill="#D55E00"/>
<circle cx="550.9" cy="459.6" r="1.4" fill="#D55E00"/>
<circle cx="551.2" cy="460.3" r="1.4" fill="#D55E00"/>
<circle cx="551.4" cy="460.7" r="1.4" fill="#D55E00"/>
<circle cx="551.7" cy="461.5" r="1.4" fill="#D55E00"/>
<circle cx="551.9" cy="462.1" r="1.4" fill="#D55E00"/>
<circle cx="552.2" cy="462.2" r="1.4" fill="#D55E00"/>
<circle cx="552.4" cy="463.7" r="1.4" fill="#D55E00"/>
<circle cx="552.7" cy="463.7" r="1.4" fill="#D55E00"/>
<circle cx="552.9" cy="463.9" r="1.4" fill="#D55E00"/>
<circle cx="553.2" cy="463.9" r="1.4" fill="#D55E00"/>
<circle cx="553.4" cy="464.9" r="1.4" fill="#D55E00"/>
<circle cx="553.7" cy="464.9" r="1.4" fill="#D55E00"/>
<circle cx="553.9" cy="464.9" r="1.4" fill="#D55E00"/>
<circle cx="554.2" cy="465.6" r="1.4" fill="#D55E00"/>
<circle cx="554.4" cy="465.6" r="1.4" fill="#D55E00"/>
<circle cx="554.7" cy="465.7" r="1.4" fill="#D55E00"/>
<circle cx="555.0" cy="466.0" r="1.4" fill="#D55E00"/>
<circle cx="555.2" cy="465.8" r="1.4" fill="#D55E00"/>
<circle cx="555.5" cy="465.8" r="1.4" fill="#D55E00"/>
<circle cx="555.7" cy="466.3" r="1.4" fill="#D55E00"/>
<circle cx="556.0" cy="466.1" r="1.4" fill="#D55E00"/>
<circle cx="556.2" cy="466.2" r="1.4" fill="#D55E00"/>
<circle cx="556.5" cy="466.4" r="1.4" fill="#D55E00"/>
<circle cx="556.7" cy="466.7" r="1.4" fill="#D55E00"/>
<circle cx="557.0" cy="466.1" r="1.4" fill="#D55E00"/>
<circle cx="557.2" cy="466.9" r="1.4" fill="#D55E00"/>
<circle cx="557.5" cy="466.6" r="1.4" fill="#D55E00"/>
<circle cx="557.7" cy="466.5" r="1.4" fill="#D55E00"/>
<circle cx="558.0" cy="467.5" r="1.4" fill="#D55E00"/>
<circle cx="558.2" cy="467.0" r="1.4" fill="#D55E00"/>
<circle cx="558.5" cy="467.3" r="1.4" fill="#D55E00"/>
<circle cx="558.7" cy="466.9" r="1.4" fill="#D55E00"/>
<circle cx="559.0" cy="466.7" r="1.4" fill="#D55E00"/>
<circle cx="559.2" cy="467.1" r="1.4" fill="#D55E00"/>
<circle cx="559.5" cy="466.9" r="1.4" fill="#D55E00"/>
<circle cx="559.7" cy="466.7" r="1.4" fill="#D55E00"/>
<circle cx="560.0" cy="467.1" r="1.4" fill="#D55E00"/>
<circle cx="560.2" cy="467.0" r="1.4" fill="#D55E00"/>
<circle cx="560.5" cy="467.2" r="1.4" fill="#D55E00"/>
<circle cx="560.7" cy="466.7" r="1.4" fill="#D55E00"/>
<circle cx="561.0" cy="466.9" r="1.4" fill="#D55E00"/>
<circle cx="561.3" cy="466.4" r="1.4" fill="#D55E00"/>
<circle cx="561.5" cy="466.4" r="1.4" fill="#D55E00"/>
<circle cx="561.8" cy="467.1" r="1.4" fill="#D55E00"/>
<circle cx="562.0" cy="466.6" r="1.4" fill="#D55E00"/>
<circle cx="562.3" cy="466.5" r="1.4" fill="#D55E00"/>
<circle cx="562.5" cy="466.4" r="1.4" fill="#D55E00"/>
<circle cx="562.8" cy="466.2" r="1.4" fill="#D55E00"/>
<circle cx="563.0" cy="466.3" r="1.4" fill="#D55E00"/>
<circle cx="563.3" cy="465.8" r="1.4" fill="#D55E00"/>
<circle cx="563.5" cy="465.7" r="1.4" fill="#D55E00"/>
<circle cx="563.8" cy="465.6" r="1.4" fill="#D55E00"/>
<circle cx="564.0" cy="465.6" r="1.4" fill="#D55E00"/>
<circle cx="564.3" cy="464.9" r="1.4" fill="#D55E00"/>
<circle cx="564.5" cy="465.3" r="1.4" fill="#D55E00"/>
<circle cx="564.8" cy="464.3" r="1.4" fill="#D55E00"/>
<circle cx="565.0" cy="464.0" r="1.4" fill="#D55E00"/>
<circle cx="565.3" cy="464.0" r="1.4" fill="#D55E00"/>
<circle cx="565.5" cy="463.2" r="1.4" fill="#D55E00"/>
<circle cx="565.8" cy="462.2" r="1.4" fill="#D55E00"/>
<circle cx="566.0" cy="462.3" r="1.4" fill="#D55E00"/>
<circle cx="566.3" cy="461.8" r="1.4" fill="#D55E00"/>
<circle cx="566.5" cy="461.0" r="1.4" fill="#D55E00"/>
<circle cx="566.8" cy="460.2" r="1.4" fill="#D55E00"/>
<circle cx="567.0" cy="459.2" r="1.4" fill="#D55E00"/>
<circle cx="567.3" cy="459.0" r="1.4" fill="#D55E00"/>
<circle cx="567.6" cy="457.9" r="1.4" fill="#D55E00"/>
<circle cx="567.8" cy="457.3" r="1.4" fill="#D55E00"/>
<circle cx="568.1" cy="456.3" r="1.4" fill="#D55E00"/>
<circle cx="568.3" cy="455.7" r="1.4" fill="#D55E00"/>
<circle cx="568.6" cy="455.4" r="1.4" fill="#D55E00"/>
<circle cx="568.8" cy="454.2" r="1.4" fill="#D55E00"/>
<circle cx="569.1" cy="453.5" r="1.4" fill="#D55E00"/>
<circle cx="569.3" cy="453.4" r="1.4" fill="#D55E00"/>
<circle cx="569.6" cy="453.5" r="1.4" fill="#D55E00"/>
<circle cx="569.8" cy="453.0" r="1.4" fill="#D55E00"/>
<circle cx="570.1" cy="452.6" r="1.4" fill="#D55E00"/>
<circle cx="570.3" cy="452.5" r="1.4" fill="#D55E00"/>
<circle cx="570.6" cy="453.1" r="1.4" fill="#D55E00"/>
<circle cx="570.8" cy="453.0" r="1.4" fill="#D55E00"/>
<circle cx="571.1" cy="453.9" r="1.4" fill="#D55E00"/>
<circle cx="571.3" cy="454.8" r="1.4" fill="#D55E00"/>
<circle cx="571.6" cy="455.0" r="1.4" fill="#D55E00"/>
<circle cx="571.8" cy="456.0" r="1.4" fill="#D55E00"/>
<circle cx="572.1" cy="456.2" r="1.4" fill="#D55E00"/>
<circle cx="572.3" cy="457.1" r="1.4" fill="#D55E00"/>
<circle cx="572.6" cy="458.3" r="1.4" fill="#D55E00"/>
<circle cx="572.8" cy="459.2" r="1.4" fill="#D55E00"/>
<circle cx="573.1" cy="459.7" r="1.4" fill="#D55E00"/>
<circle cx="573.3" cy="460.2" r="1.4" fill="#D55E00"/>
<circle cx="573.6" cy="461.2" r="1.4" fill="#D55E00"/>
<circle cx="573.9" cy="461.9" r="1.4" fill="#D55E00"/>
<circle cx="574.1" cy="462.2" r="1.4" fill="#D55E00"/>
<circle cx="574.4" cy="462.9" r="1.4" fill="#D55E00"/>
<circle cx="574.6" cy="463.8" r="1.4" fill="#D55E00"/>
<circle cx="574.9" cy="464.3" r="1.4" fill="#D55E00"/>
<circle cx="575.1" cy="465.2" r="1.4" fill="#D55E00"/>
<circle cx="575.4" cy="465.0" r="1.4" fill="#D55E00"/>
<circle cx="575.6" cy="465.4" r="1.4" fill="#D55E00"/>
<circle cx="575.9" cy="465.5" r="1.4" fill="#D55E00"/>
<circle cx="576.1" cy="466.1" r="1.4" fill="#D55E00"/>
<circle cx="576.4" cy="466.3" r="1.4" fill="#D55E00"/>
<circle cx="576.6" cy="466.6" r="1.4" fill="#D55E00"/>
<circle cx="576.9" cy="466.8" r="1.4" fill="#D55E00"/>
<circle cx="577.1" cy="466.9" r="1.4" fill="#D55E00"/>
<circle cx="577.4" cy="467.2" r="1.4" fill="#D55E00"/>
<circle cx="577.6" cy="466.8" r="1.4" fill="#D55E00"/>
<circle cx="577.9" cy="467.3" r="1.4" fill="#D55E00"/>
<circle cx="578.1" cy="467.3" r="1.4" fill="#D55E00"/>
<circle cx="578.4" cy="467.4" r="1.4" fill="#D55E00"/>
<circle cx="578.6" cy="467.9" r="1.4" fill="#D55E00"/>
<circle cx="578.9" cy="468.2" r="1.4" fill="#D55E00"/>
<circle cx="579.1" cy="468.1" r="1.4" fill="#D55E00"/>
<circle cx="579.4" cy="467.9" r="1.4" fill="#D55E00"/>
<circle cx="579.6" cy="467.9" r="1.4" fill="#D55E00"/>
<circle cx="579.9" cy="468.3" r="1.4" fill="#D55E00"/>
<circle cx="580.2" cy="467.8" r="1.4" fill="#D55E00"/>
<circle cx="580.4" cy="468.1" r="1.4" fill="#D55E00"/>
<circle cx="580.7" cy="467.8" r="1.4" fill="#D55E00"/>
<circle cx="580.9" cy="468.3" r="1.4" fill="#D55E00"/>
<circle cx="581.2" cy="468.9" r="1.4" fill="#D55E00"/>
<circle cx="581.4" cy="468.0" r="1.4" fill="#D55E00"/>
<circle cx="581.7" cy="468.0" r="1.4" fill="#D55E00"/>
<circle cx="581.9" cy="467.5" r="1.4" fill="#D55E00"/>
<circle cx="582.2" cy="468.2" r="1.4" fill="#D55E00"/>
<circle cx="582.4" cy="468.1" r="1.4" fill="#D55E00"/>
<circle cx="582.7" cy="467.7" r="1.4" fill="#D55E00"/>
<circle cx="582.9" cy="469.0" r="1.4" fill="#D55E00"/>
<circle cx="583.2" cy="468.6" r="1.4" fill="#D55E00"/>
<circle cx="583.4" cy="468.8" r="1.4" fill="#D55E00"/>
<circle cx="583.7" cy="468.1" r="1.4" fill="#D55E00"/>
<circle cx="583.9" cy="468.3" r="1.4" fill="#D55E00"/>
<circle cx="584.2" cy="468.0" r="1.4" fill="#D55E00"/>
<circle cx="584.4" cy="468.6" r="1.4" fill="#D55E00"/>
<circle cx="584.7" cy="468.4" r="1.4" fill="#D55E00"/>
<circle cx="584.9" cy="468.1" r="1.4" fill="#D55E00"/>
<circle cx="585.2" cy="468.2" r="1.4" fill="#D55E00"/>
<circle cx="585.4" cy="468.1" r="1.4" fill="#D55E00"/>
<circle cx="585.7" cy="467.7" r="1.4" fill="#D55E00"/>
<circle cx="585.9" cy="468.2" r="1.4" fill="#D55E00"/>
<circle cx="586.2" cy="468.0" r="1.4" fill="#D55E00"/>
<circle cx="586.5" cy="468.0" r="1.4" fill="#D55E00"/>
<circle cx="586.7" cy="467.6" r="1.4" fill="#D55E00"/>
<circle cx="587.0" cy="467.9" r="1.4" fill="#D55E00"/>
<circle cx="587.2" cy="467.8" r="1.4" fill="#D55E00"/>
<circle cx="587.5" cy="467.7" r="1.4" fill="#D55E00"/>
<circle cx="587.7" cy="467.7" r="1.4" fill="#D55E00"/>
<circle cx="588.0" cy="467.1" r="1.4" fill="#D55E00"/>
<circle cx="588.2" cy="467.1" r="1.4" fill="#D55E00"/>
<circle cx="588.5" cy="467.3" r="1.4" fill="#D55E00"/>
<circle cx="588.7" cy="466.6" r="1.4" fill="#D55E00"/>
<circle cx="589.0" cy="466.2" r="1.4" fill="#D55E00"/>
<circle cx="589.2" cy="465.5" r="1.4" fill="#D55E00"/>
<circle cx="589.5" cy="465.7" r="1.4" fill="#D55E00"/>
<circle cx="589.7" cy="464.9" r="1.4" fill="#D55E00"/>
<circle cx="590.0" cy="464.9" r="1.4" fill="#D55E00"/>
<circle cx="590.2" cy="464.3" r="1.4" fill="#D55E00"/>
<circle cx="590.5" cy="464.6" r="1.4" fill="#D55E00"/>
<circle cx="590.7" cy="464.2" r="1.4" fill="#D55E00"/>
<circle cx="591.0" cy="463.5" r="1.4" fill="#D55E00"/>
<circle cx="591.2" cy="463.1" r="1.4" fill="#D55E00"/>
<circle cx="591.5" cy="462.6" r="1.4" fill="#D55E00"/>
<circle cx="591.7" cy="462.1" r="1.4" fill="#D55E00"/>
<circle cx="592.0" cy="462.2" r="1.4" fill="#D55E00"/>
<circle cx="592.2" cy="461.4" r="1.4" fill="#D55E00"/>
<circle cx="592.5" cy="461.3" r="1.4" fill="#D55E00"/>
<circle cx="592.8" cy="460.3" r="1.4" fill="#D55E00"/>
<circle cx="593.0" cy="460.7" r="1.4" fill="#D55E00"/>
<circle cx="593.3" cy="460.6" r="1.4" fill="#D55E00"/>
<circle cx="593.5" cy="460.0" r="1.4" fill="#D55E00"/>
<circle cx="593.8" cy="460.9" r="1.4" fill="#D55E00"/>
<circle cx="594.0" cy="460.1" r="1.4" fill="#D55E00"/>
<circle cx="594.3" cy="460.6" r="1.4" fill="#D55E00"/>
<circle cx="594.5" cy="461.1" r="1.4" fill="#D55E00"/>
<circle cx="594.8" cy="461.4" r="1.4" fill="#D55E00"/>
<circle cx="595.0" cy="461.6" r="1.4" fill="#D55E00"/>
<circle cx="595.3" cy="461.9" r="1.4" fill="#D55E00"/>
<circle cx="595.5" cy="462.6" r="1.4" fill="#D55E00"/>
<circle cx="595.8" cy="462.7" r="1.4" fill="#D55E00"/>
<circle cx="596.0" cy="463.0" r="1.4" fill="#D55E00"/>
<circle cx="596.3" cy="463.6" r="1.4" fill="#D55E00"/>
<circle cx="596.5" cy="463.6" r="1.4" fill="#D55E00"/>
<circle cx="596.8" cy="464.7" r="1.4" fill="#D55E00"/>
<circle cx="597.0" cy="464.8" r="1.4" fill="#D55E00"/>
<circle cx="597.3" cy="464.9" r="1.4" fill="#D55E00"/>
<circle cx="597.5" cy="465.4" r="1.4" fill="#D55E00"/>
<circle cx="597.8" cy="465.5" r="1.4" fill="#D55E00"/>
<circle cx="598.0" cy="465.9" r="1.4" fill="#D55E00"/>
<circle cx="598.3" cy="466.8" r="1.4" fill="#D55E00"/>
<circle cx="598.5" cy="466.3" r="1.4" fill="#D55E00"/>
<circle cx="598.8" cy="467.1" r="1.4" fill="#D55E00"/>
<circle cx="599.1" cy="466.9" r="1.4" fill="#D55E00"/>
<circle cx="599.3" cy="467.4" r="1.4" fill="#D55E00"/>
<circle cx="599.6" cy="467.2" r="1.4" fill="#D55E00"/>
<circle cx="599.8" cy="468.4" r="1.4" fill="#D55E00"/>
<circle cx="600.1" cy="467.7" r="1.4" fill="#D55E00"/>
<circle cx="600.3" cy="468.0" r="1.4" fill="#D55E00"/>
<circle cx="600.6" cy="467.7" r="1.4" fill="#D55E00"/>
<circle cx="600.8" cy="467.8" r="1.4" fill="#D55E00"/>
<circle cx="601.1" cy="467.9" r="1.4" fill="#D55E00"/>
<circle cx="601.3" cy="468.4" r="1.4" fill="#D55E00"/>
<circle cx="601.6" cy="468.4" r="1.4" fill="#D55E00"/>
<circle cx="601.8" cy="468.8" r="1.4" fill="#D55E00"/>
<circle cx="602.1" cy="468.6" r="1.4" fill="#D55E00"/>
<circle cx="602.3" cy="468.6" r="1.4" fill="#D55E00"/>
<circle cx="602.6" cy="468.5" r="1.4" fill="#D55E00"/>
<circle cx="602.8" cy="468.3" r="1.4" fill="#D55E00"/>
<circle cx="603.1" cy="469.0" r="1.4" fill="#D55E00"/>
<circle cx="603.3" cy="468.7" r="1.4" fill="#D55E00"/>
<circle cx="603.6" cy="468.7" r="1.4" fill="#D55E00"/>
<circle cx="603.8" cy="468.9" r="1.4" fill="#D55E00"/>
<circle cx="604.1" cy="469.4" r="1.4" fill="#D55E00"/>
<circle cx="604.3" cy="469.0" r="1.4" fill="#D55E00"/>
<circle cx="604.6" cy="469.1" r="1.4" fill="#D55E00"/>
<circle cx="604.8" cy="469.3" r="1.4" fill="#D55E00"/>
<circle cx="605.1" cy="468.9" r="1.4" fill="#D55E00"/>
<circle cx="605.4" cy="469.1" r="1.4" fill="#D55E00"/>
<circle cx="605.6" cy="469.1" r="1.4" fill="#D55E00"/>
<circle cx="605.9" cy="469.0" r="1.4" fill="#D55E00"/>
<circle cx="606.1" cy="469.1" r="1.4" fill="#D55E00"/>
<circle cx="606.4" cy="468.9" r="1.4" fill="#D55E00"/>
<circle cx="606.6" cy="468.9" r="1.4" fill="#D55E00"/>
<circle cx="606.9" cy="469.0" r="1.4" fill="#D55E00"/>
<circle cx="607.1" cy="469.0" r="1.4" fill="#D55E00"/>
<circle cx="607.4" cy="468.9" r="1.4" fill="#D55E00"/>
<circle cx="607.6" cy="469.2" r="1.4" fill="#D55E00"/>
<circle cx="607.9" cy="468.8" r="1.4" fill="#D55E00"/>
<circle cx="608.1" cy="468.7" r="1.4" fill="#D55E00"/>
<circle cx="608.4" cy="469.1" r="1.4" fill="#D55E00"/>
<circle cx="608.6" cy="468.7" r="1.4" fill="#D55E00"/>
<circle cx="608.9" cy="468.9" r="1.4" fill="#D55E00"/>
<circle cx="609.1" cy="468.9" r="1.4" fill="#D55E00"/>
<circle cx="609.4" cy="468.6" r="1.4" fill="#D55E00"/>
<circle cx="609.6" cy="469.4" r="1.4" fill="#D55E00"/>
<circle cx="609.9" cy="468.8" r="1.4" fill="#D55E00"/>
<circle cx="610.1" cy="469.2" r="1.4" fill="#D55E00"/>
<circle cx="610.4" cy="469.0" r="1.4" fill="#D55E00"/>
<circle cx="610.6" cy="469.6" r="1.4" fill="#D55E00"/>
<circle cx="610.9" cy="468.7" r="1.4" fill="#D55E00"/>
<circle cx="611.1" cy="468.6" r="1.4" fill="#D55E00"/>
<circle cx="611.4" cy="469.2" r="1.4" fill="#D55E00"/>
<circle cx="611.7" cy="468.4" r="1.4" fill="#D55E00"/>
<circle cx="611.9" cy="468.9" r="1.4" fill="#D55E00"/>
<circle cx="612.2" cy="468.7" r="1.4" fill="#D55E00"/>
<circle cx="612.4" cy="469.0" r="1.4" fill="#D55E00"/>
<circle cx="612.7" cy="468.4" r="1.4" fill="#D55E00"/>
<circle cx="612.9" cy="468.6" r="1.4" fill="#D55E00"/>
<circle cx="613.2" cy="468.4" r="1.4" fill="#D55E00"/>
<circle cx="613.4" cy="468.3" r="1.4" fill="#D55E00"/>
<circle cx="613.7" cy="468.5" r="1.4" fill="#D55E00"/>
<circle cx="613.9" cy="467.9" r="1.4" fill="#D55E00"/>
<circle cx="614.2" cy="468.0" r="1.4" fill="#D55E00"/>
<circle cx="614.4" cy="467.4" r="1.4" fill="#D55E00"/>
<circle cx="614.7" cy="467.7" r="1.4" fill="#D55E00"/>
<circle cx="614.9" cy="467.4" r="1.4" fill="#D55E00"/>
<circle cx="615.2" cy="467.2" r="1.4" fill="#D55E00"/>
<circle cx="615.4" cy="466.9" r="1.4" fill="#D55E00"/>
<circle cx="615.7" cy="466.7" r="1.4" fill="#D55E00"/>
<circle cx="615.9" cy="467.0" r="1.4" fill="#D55E00"/>
<circle cx="616.2" cy="467.2" r="1.4" fill="#D55E00"/>
<circle cx="616.4" cy="466.9" r="1.4" fill="#D55E00"/>
<circle cx="616.7" cy="466.9" r="1.4" fill="#D55E00"/>
<circle cx="616.9" cy="466.6" r="1.4" fill="#D55E00"/>
<circle cx="617.2" cy="466.9" r="1.4" fill="#D55E00"/>
<circle cx="617.4" cy="466.8" r="1.4" fill="#D55E00"/>
<circle cx="617.7" cy="466.9" r="1.4" fill="#D55E00"/>
<circle cx="618.0" cy="467.0" r="1.4" fill="#D55E00"/>
<circle cx="618.2" cy="467.4" r="1.4" fill="#D55E00"/>
<circle cx="618.5" cy="467.0" r="1.4" fill="#D55E00"/>
<circle cx="618.7" cy="467.6" r="1.4" fill="#D55E00"/>
<circle cx="619.0" cy="468.1" r="1.4" fill="#D55E00"/>
<circle cx="619.2" cy="468.0" r="1.4" fill="#D55E00"/>
<circle cx="619.5" cy="468.0" r="1.4" fill="#D55E00"/>
<circle cx="619.7" cy="468.2" r="1.4" fill="#D55E00"/>
<circle cx="620.0" cy="468.1" r="1.4" fill="#D55E00"/>
<circle cx="620.2" cy="468.5" r="1.4" fill="#D55E00"/>
<circle cx="620.5" cy="468.4" r="1.4" fill="#D55E00"/>
<circle cx="620.7" cy="468.3" r="1.4" fill="#D55E00"/>
<circle cx="621.0" cy="468.9" r="1.4" fill="#D55E00"/>
<circle cx="621.2" cy="468.9" r="1.4" fill="#D55E00"/>
<circle cx="621.5" cy="468.4" r="1.4" fill="#D55E00"/>
<circle cx="621.7" cy="468.8" r="1.4" fill="#D55E00"/>
<circle cx="622.0" cy="468.7" r="1.4" fill="#D55E00"/>
<circle cx="622.2" cy="469.1" r="1.4" fill="#D55E00"/>
<circle cx="622.5" cy="469.1" r="1.4" fill="#D55E00"/>
<circle cx="622.7" cy="469.2" r="1.4" fill="#D55E00"/>
<circle cx="623.0" cy="469.4" r="1.4" fill="#D55E00"/>
<circle cx="623.2" cy="468.9" r="1.4" fill="#D55E00"/>
<circle cx="623.5" cy="469.6" r="1.4" fill="#D55E00"/>
<circle cx="623.7" cy="469.5" r="1.4" fill="#D55E00"/>
<circle cx="624.0" cy="469.7" r="1.4" fill="#D55E00"/>
<circle cx="624.3" cy="468.9" r="1.4" fill="#D55E00"/>
<circle cx="624.5" cy="469.6" r="1.4" fill="#D55E00"/>
<circle cx="624.8" cy="469.1" r="1.4" fill="#D55E00"/>
<circle cx="625.0" cy="469.8" r="1.4" fill="#D55E00"/>
<circle cx="625.3" cy="468.9" r="1.4" fill="#D55E00"/>
<circle cx="625.5" cy="468.8" r="1.4" fill="#D55E00"/>
<circle cx="625.8" cy="469.5" r="1.4" fill="#D55E00"/>
<circle cx="626.0" cy="469.1" r="1.4" fill="#D55E00"/>
<circle cx="626.3" cy="469.9" r="1.4" fill="#D55E00"/>
<circle cx="626.5" cy="469.6" r="1.4" fill="#D55E00"/>
<circle cx="626.8" cy="469.2" r="1.4" fill="#D55E00"/>
<circle cx="627.0" cy="469.5" r="1.4" fill="#D55E00"/>
<circle cx="627.3" cy="469.7" r="1.4" fill="#D55E00"/>
<circle cx="627.5" cy="469.5" r="1.4" fill="#D55E00"/>
<circle cx="627.8" cy="469.7" r="1.4" fill="#D55E00"/>
<circle cx="628.0" cy="469.7" r="1.4" fill="#D55E00"/>
<circle cx="628.3" cy="469.3" r="1.4" fill="#D55E00"/>
<circle cx="628.5" cy="470.1" r="1.4" fill="#D55E00"/>
<circle cx="628.8" cy="469.7" r="1.4" fill="#D55E00"/>
<circle cx="629.0" cy="469.6" r="1.4" fill="#D55E00"/>
<circle cx="629.3" cy="469.3" r="1.4" fill="#D55E00"/>
<circle cx="629.5" cy="469.6" r="1.4" fill="#D55E00"/>
<circle cx="629.8" cy="469.7" r="1.4" fill="#D55E00"/>
<line x1="499.40" y1="351.40" x2="639.40" y2="351.40" stroke="#111" stroke-width="1.2" />
<line x1="499.40" y1="491.10" x2="639.40" y2="491.10" stroke="#111" stroke-width="1.2" />
<line x1="499.40" y1="350.80" x2="499.40" y2="491.70" stroke="#1446BE" stroke-width="1.3" />
<line x1="639.40" y1="350.80" x2="639.40" y2="491.70" stroke="#D55E00" stroke-width="1.3" />
<line x1="499.40" y1="365.37" x2="502.20" y2="365.37" stroke="#1446BE" stroke-width="1.1" />
<text transform="translate(495.80,369.47) scale(1.06,1)" font-size="10" font-weight="bold" text-anchor="end" fill="#1446BE" stroke="#1446BE" stroke-width="0.25" >20</text>
<line x1="499.40" y1="393.31" x2="502.20" y2="393.31" stroke="#1446BE" stroke-width="1.1" />
<text transform="translate(495.80,397.41) scale(1.06,1)" font-size="10" font-weight="bold" text-anchor="end" fill="#1446BE" stroke="#1446BE" stroke-width="0.25" >0</text>
<line x1="499.40" y1="421.25" x2="502.20" y2="421.25" stroke="#1446BE" stroke-width="1.1" />
<text transform="translate(495.80,425.35) scale(1.06,1)" font-size="10" font-weight="bold" text-anchor="end" fill="#1446BE" stroke="#1446BE" stroke-width="0.25" >-20</text>
<line x1="499.40" y1="449.19" x2="502.20" y2="449.19" stroke="#1446BE" stroke-width="1.1" />
<text transform="translate(495.80,453.29) scale(1.06,1)" font-size="10" font-weight="bold" text-anchor="end" fill="#1446BE" stroke="#1446BE" stroke-width="0.25" >-40</text>
<line x1="499.40" y1="477.13" x2="502.20" y2="477.13" stroke="#1446BE" stroke-width="1.1" />
<text transform="translate(495.80,481.23) scale(1.06,1)" font-size="10" font-weight="bold" text-anchor="end" fill="#1446BE" stroke="#1446BE" stroke-width="0.25" >-60</text>
<line x1="639.40" y1="351.40" x2="636.60" y2="351.40" stroke="#D55E00" stroke-width="1.1" />
<text transform="translate(645.00,355.50) scale(1.06,1)" font-size="10" font-weight="bold" text-anchor="start" fill="#D55E00" stroke="#D55E00" stroke-width="0.25" >2.5</text>
<line x1="639.40" y1="374.82" x2="636.60" y2="374.82" stroke="#D55E00" stroke-width="1.1" />
<text transform="translate(645.00,378.92) scale(1.06,1)" font-size="10" font-weight="bold" text-anchor="start" fill="#D55E00" stroke="#D55E00" stroke-width="0.25" >2</text>
<line x1="639.40" y1="398.24" x2="636.60" y2="398.24" stroke="#D55E00" stroke-width="1.1" />
<text transform="translate(645.00,402.34) scale(1.06,1)" font-size="10" font-weight="bold" text-anchor="start" fill="#D55E00" stroke="#D55E00" stroke-width="0.25" >1.5</text>
<line x1="639.40" y1="421.66" x2="636.60" y2="421.66" stroke="#D55E00" stroke-width="1.1" />
<text transform="translate(645.00,425.76) scale(1.06,1)" font-size="10" font-weight="bold" text-anchor="start" fill="#D55E00" stroke="#D55E00" stroke-width="0.25" >1</text>
<line x1="639.40" y1="445.08" x2="636.60" y2="445.08" stroke="#D55E00" stroke-width="1.1" />
<text transform="translate(645.00,449.18) scale(1.06,1)" font-size="10" font-weight="bold" text-anchor="start" fill="#D55E00" stroke="#D55E00" stroke-width="0.25" >0.5</text>
<line x1="639.40" y1="468.50" x2="636.60" y2="468.50" stroke="#D55E00" stroke-width="1.1" />
<text transform="translate(645.00,472.60) scale(1.06,1)" font-size="10" font-weight="bold" text-anchor="start" fill="#D55E00" stroke="#D55E00" stroke-width="0.25" >0</text>
<text transform="translate(500.40,506.80) scale(1.06,1)" font-size="10" font-weight="bold" text-anchor="middle" fill="#262626" stroke="#262626" stroke-width="0.25" >0</text>
<line x1="534.40" y1="491.10" x2="534.40" y2="488.60" stroke="#111" stroke-width="1" />
<line x1="534.40" y1="351.40" x2="534.40" y2="353.90" stroke="#111" stroke-width="1" />
<text transform="translate(535.40,506.80) scale(1.06,1)" font-size="10" font-weight="bold" text-anchor="middle" fill="#262626" stroke="#262626" stroke-width="0.25" >50</text>
<line x1="569.40" y1="491.10" x2="569.40" y2="488.60" stroke="#111" stroke-width="1" />
<line x1="569.40" y1="351.40" x2="569.40" y2="353.90" stroke="#111" stroke-width="1" />
<text transform="translate(570.40,506.80) scale(1.06,1)" font-size="10" font-weight="bold" text-anchor="middle" fill="#262626" stroke="#262626" stroke-width="0.25" >100</text>
<line x1="604.40" y1="491.10" x2="604.40" y2="488.60" stroke="#111" stroke-width="1" />
<line x1="604.40" y1="351.40" x2="604.40" y2="353.90" stroke="#111" stroke-width="1" />
<text transform="translate(605.40,506.80) scale(1.06,1)" font-size="10" font-weight="bold" text-anchor="middle" fill="#262626" stroke="#262626" stroke-width="0.25" >150</text>
<text transform="translate(640.40,506.80) scale(1.06,1)" font-size="10" font-weight="bold" text-anchor="middle" fill="#262626" stroke="#262626" stroke-width="0.25" >200</text>
<text transform="translate(466.00,427.00) rotate(-90) scale(1.1,1)" font-size="12.0" font-weight="bold" text-anchor="middle" fill="#1446BE" stroke="#1446BE" stroke-width="0.25" >Power (dBm)</text>
<text transform="translate(681.60,426.20) rotate(-90) scale(1.1,1)" font-size="12.2" font-weight="bold" text-anchor="middle" fill="#D55E00" stroke="#D55E00" stroke-width="0.25" >Contrast (%)</text>
<text transform="translate(575.50,526.00) scale(1.06,1)" font-size="12.2" font-weight="bold" text-anchor="middle" fill="#262626" stroke="#262626" stroke-width="0.25" >Frequency (MHz)</text>
<text transform="translate(460.00,336.40) scale(1.06,1)" font-size="13.6" font-weight="bold" text-anchor="start" fill="#000" stroke="#000" stroke-width="0.25" >e</text>
<line x1="575.50" y1="366.50" x2="587.50" y2="366.50" stroke="#2E5FD0" stroke-width="1.3" />
<circle cx="582" cy="381.5" r="2.7" fill="#D55E00"/>
<text transform="translate(592.00,370.40) scale(1.0,1)" font-size="10.3" font-weight="normal" text-anchor="start" fill="#262626" >ESA</text>
<text transform="translate(592.00,385.40) scale(1.0,1)" font-size="10.3" font-weight="normal" text-anchor="start" fill="#262626" >QDiSA</text>
</svg>
</body></html>
